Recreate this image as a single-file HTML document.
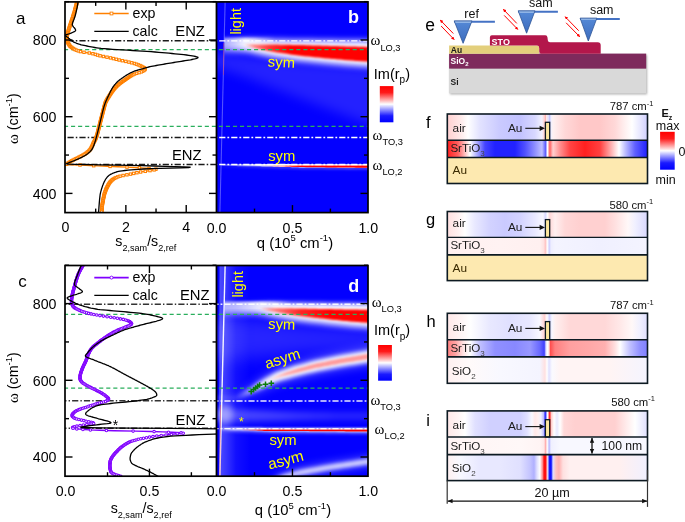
<!DOCTYPE html>
<html><head><meta charset="utf-8"><style>
html,body{margin:0;padding:0;background:#fff;}
svg{display:block;will-change:transform;}
text{font-family:"Liberation Sans",sans-serif;}
</style></head><body>
<svg width="685" height="522" viewBox="0 0 685 522">
<defs><clipPath id="clipB"><rect x="216.5" y="1.9" width="151.5" height="210.7"/></clipPath><clipPath id="clipD"><rect x="216.5" y="265.5" width="151.5" height="210.7"/></clipPath></defs>
<g clip-path="url(#clipB)">
<rect x="216" y="1" width="153" height="213" fill="#0300ff"/>
<defs><filter id="bf1" filterUnits="userSpaceOnUse" x="150" y="-60" width="300" height="600"><feGaussianBlur stdDeviation="6"/></filter></defs>
<g><path d="M200.0,52.0 202.0,52.1 204.0,52.3 206.0,52.4 208.0,52.6 210.0,52.7 212.0,52.8 214.0,53.0 216.0,53.1 218.0,53.3 220.0,53.4 222.0,53.5 224.0,53.7 226.0,53.8 228.0,54.0 230.0,54.1 232.0,54.2 234.0,54.4 236.0,54.5 238.0,54.7 240.0,54.8 242.0,54.9 244.0,55.1 246.0,55.4 248.0,55.6 250.0,55.9 252.0,56.1 254.0,56.4 256.0,56.6 258.0,56.8 260.0,57.1 262.0,57.3 264.0,57.6 266.0,57.8 268.0,58.1 270.0,58.3 272.0,58.6 274.0,58.8 276.0,59.1 278.0,59.3 280.0,59.5 282.0,59.8 284.0,60.0 286.0,60.3 288.0,60.5 290.0,60.8 292.0,61.0 294.0,61.3 296.0,61.5 298.0,61.8 300.0,62.0 302.0,62.1 304.0,62.3 306.0,62.4 308.0,62.6 310.0,62.7 312.0,62.9 314.0,63.0 316.0,63.2 318.0,63.3 320.0,63.5 322.0,63.6 324.0,63.8 326.0,63.9 328.0,64.1 330.0,64.2 332.0,64.4 334.0,64.5 336.0,64.6 338.0,64.8 340.0,64.9 342.0,65.1 344.0,65.2 346.0,65.4 348.0,65.5 350.0,65.7 352.0,65.8 354.0,66.0 356.0,66.1 358.0,66.3 360.0,66.4 362.0,66.6 364.0,66.7 366.0,66.9 368.0,67.0 370.0,67.1 372.0,67.2 374.0,67.3 376.0,67.4 378.0,67.5 380.0,67.5 382.0,67.6 384.0,67.7 386.0,67.8 388.0,67.9 390.0,68.0 L390.0,132.0 388.0,131.3 386.0,130.5 384.0,129.8 382.0,129.1 380.0,128.4 378.0,127.6 376.0,126.9 374.0,126.2 372.0,125.5 370.0,124.7 368.0,124.0 366.0,123.2 364.0,122.5 362.0,121.7 360.0,120.9 358.0,120.2 356.0,119.4 354.0,118.6 352.0,117.9 350.0,117.1 348.0,116.4 346.0,115.6 344.0,114.8 342.0,114.1 340.0,113.3 338.0,112.5 336.0,111.8 334.0,111.0 332.0,110.2 330.0,109.5 328.0,108.7 326.0,107.9 324.0,107.2 322.0,106.4 320.0,105.6 318.0,104.9 316.0,104.1 314.0,103.4 312.0,102.6 310.0,101.8 308.0,101.1 306.0,100.3 304.0,99.5 302.0,98.8 300.0,98.0 298.0,97.2 296.0,96.5 294.0,95.7 292.0,94.9 290.0,94.1 288.0,93.4 286.0,92.6 284.0,91.8 282.0,91.1 280.0,90.3 278.0,89.5 276.0,88.7 274.0,88.0 272.0,87.2 270.0,86.4 268.0,85.6 266.0,84.9 264.0,84.1 262.0,83.3 260.0,82.6 258.0,81.8 256.0,81.0 254.0,80.2 252.0,79.5 250.0,78.7 248.0,77.9 246.0,77.2 244.0,76.4 242.0,75.7 240.0,75.0 238.0,74.4 236.0,73.7 234.0,73.1 232.0,72.4 230.0,71.8 228.0,71.1 226.0,70.5 224.0,69.8 222.0,69.2 220.0,68.5 218.0,67.9 216.0,67.2 214.0,66.6 212.0,65.9 210.0,65.3 208.0,64.6 206.0,64.0 204.0,63.3 202.0,62.7 200.0,62.0 Z" fill="#fff" opacity="0.13" filter="url(#bf1)"/></g>
<defs><clipPath id="llB"><rect x="224.4" y="0" width="150" height="220"/></clipPath></defs>
<g clip-path="url(#llB)">
<defs><linearGradient id="hg1" gradientUnits="userSpaceOnUse" x1="200" y1="0" x2="390" y2="0"><stop offset="0.0000" stop-color="#ffffff" stop-opacity="1.0"/><stop offset="0.2368" stop-color="#ffffff" stop-opacity="1.0"/><stop offset="0.3947" stop-color="#ffffff" stop-opacity="0.0"/><stop offset="1.0000" stop-color="#ffffff" stop-opacity="0"/></linearGradient></defs>
<defs><linearGradient id="hg2" gradientUnits="userSpaceOnUse" x1="200" y1="0" x2="390" y2="0"><stop offset="0.0000" stop-color="#ffffff" stop-opacity="0"/><stop offset="0.1368" stop-color="#ffffff" stop-opacity="0.3"/><stop offset="0.2632" stop-color="#ffffff" stop-opacity="1.0"/><stop offset="1.0000" stop-color="#ffffff" stop-opacity="1.0"/></linearGradient></defs>
<defs><clipPath id="cp1"><path d="M200.0,-355.5 202.0,-355.5 204.0,-355.5 206.0,-355.5 208.0,-355.5 210.0,-355.5 212.0,-355.5 214.0,-355.5 216.0,-355.5 218.0,-355.5 220.0,-355.5 222.0,-355.5 224.0,-355.5 226.0,-355.5 228.0,-355.5 230.0,-355.5 232.0,-355.5 234.0,-355.4 236.0,-355.4 238.0,-355.4 240.0,-355.4 242.0,-355.4 244.0,-355.2 246.0,-354.9 248.0,-354.6 250.0,-354.3 252.0,-354.1 254.0,-353.8 256.0,-353.6 258.0,-353.4 260.0,-353.1 262.0,-352.9 264.0,-352.7 266.0,-352.5 268.0,-352.3 270.0,-352.1 272.0,-351.9 274.0,-351.7 276.0,-351.5 278.0,-351.3 280.0,-351.2 282.0,-351.0 284.0,-350.8 286.0,-350.7 288.0,-350.5 290.0,-350.4 292.0,-350.2 294.0,-350.1 296.0,-349.9 298.0,-349.8 300.0,-349.6 302.0,-349.5 304.0,-349.3 306.0,-349.2 308.0,-349.1 310.0,-348.9 312.0,-348.8 314.0,-348.7 316.0,-348.6 318.0,-348.4 320.0,-348.3 322.0,-348.2 324.0,-348.0 326.0,-347.9 328.0,-347.8 330.0,-347.6 332.0,-347.5 334.0,-347.4 336.0,-347.3 338.0,-347.2 340.0,-347.1 342.0,-347.0 344.0,-346.8 346.0,-346.7 348.0,-346.6 350.0,-346.5 352.0,-346.4 354.0,-346.3 356.0,-346.2 358.0,-346.1 360.0,-346.1 362.0,-346.0 364.0,-345.9 366.0,-345.8 368.0,-345.7 370.0,-345.6 372.0,-345.5 374.0,-345.5 376.0,-345.4 378.0,-345.3 380.0,-345.2 382.0,-345.1 384.0,-345.0 386.0,-345.0 388.0,-344.9 390.0,-344.8 L390.0,55.7 388.0,55.6 386.0,55.5 384.0,55.5 382.0,55.4 380.0,55.3 378.0,55.2 376.0,55.1 374.0,55.0 372.0,55.0 370.0,54.9 368.0,54.8 366.0,54.7 364.0,54.6 362.0,54.5 360.0,54.4 358.0,54.4 356.0,54.3 354.0,54.2 352.0,54.1 350.0,54.0 348.0,53.9 346.0,53.8 344.0,53.7 342.0,53.5 340.0,53.4 338.0,53.3 336.0,53.2 334.0,53.1 332.0,53.0 330.0,52.9 328.0,52.7 326.0,52.6 324.0,52.5 322.0,52.3 320.0,52.2 318.0,52.1 316.0,51.9 314.0,51.8 312.0,51.7 310.0,51.5 308.0,51.4 306.0,51.3 304.0,51.2 302.0,51.0 300.0,50.9 298.0,50.7 296.0,50.6 294.0,50.4 292.0,50.3 290.0,50.1 288.0,50.0 286.0,49.8 284.0,49.7 282.0,49.5 280.0,49.3 278.0,49.2 276.0,49.0 274.0,48.8 272.0,48.6 270.0,48.4 268.0,48.2 266.0,48.0 264.0,47.8 262.0,47.6 260.0,47.4 258.0,47.1 256.0,46.9 254.0,46.7 252.0,46.4 250.0,46.2 248.0,45.9 246.0,45.6 244.0,45.3 242.0,45.1 240.0,45.1 238.0,45.1 236.0,45.1 234.0,45.1 232.0,45.0 230.0,45.0 228.0,45.0 226.0,45.0 224.0,45.0 222.0,45.0 220.0,45.0 218.0,45.0 216.0,45.0 214.0,45.0 212.0,45.0 210.0,45.0 208.0,45.0 206.0,45.0 204.0,45.0 202.0,45.0 200.0,45.0 Z"/></clipPath></defs>
<defs><clipPath id="cp2"><path d="M200.0,44.0 202.0,44.0 204.0,44.0 206.0,44.0 208.0,44.0 210.0,44.0 212.0,44.0 214.0,44.0 216.0,44.0 218.0,44.0 220.0,44.0 222.0,44.0 224.0,44.0 226.0,44.0 228.0,44.0 230.0,44.0 232.0,44.0 234.0,44.1 236.0,44.1 238.0,44.1 240.0,44.1 242.0,44.1 244.0,44.3 246.0,44.6 248.0,44.9 250.0,45.2 252.0,45.4 254.0,45.7 256.0,45.9 258.0,46.1 260.0,46.4 262.0,46.6 264.0,46.8 266.0,47.0 268.0,47.2 270.0,47.4 272.0,47.6 274.0,47.8 276.0,48.0 278.0,48.2 280.0,48.3 282.0,48.5 284.0,48.7 286.0,48.8 288.0,49.0 290.0,49.1 292.0,49.3 294.0,49.4 296.0,49.6 298.0,49.7 300.0,49.9 302.0,50.0 304.0,50.2 306.0,50.3 308.0,50.4 310.0,50.5 312.0,50.7 314.0,50.8 316.0,50.9 318.0,51.1 320.0,51.2 322.0,51.3 324.0,51.5 326.0,51.6 328.0,51.7 330.0,51.9 332.0,52.0 334.0,52.1 336.0,52.2 338.0,52.3 340.0,52.4 342.0,52.5 344.0,52.7 346.0,52.8 348.0,52.9 350.0,53.0 352.0,53.1 354.0,53.2 356.0,53.3 358.0,53.4 360.0,53.4 362.0,53.5 364.0,53.6 366.0,53.7 368.0,53.8 370.0,53.9 372.0,54.0 374.0,54.0 376.0,54.1 378.0,54.2 380.0,54.3 382.0,54.4 384.0,54.5 386.0,54.5 388.0,54.6 390.0,54.7 L390.0,455.2 388.0,455.1 386.0,455.0 384.0,455.0 382.0,454.9 380.0,454.8 378.0,454.7 376.0,454.6 374.0,454.5 372.0,454.5 370.0,454.4 368.0,454.3 366.0,454.2 364.0,454.1 362.0,454.0 360.0,453.9 358.0,453.9 356.0,453.8 354.0,453.7 352.0,453.6 350.0,453.5 348.0,453.4 346.0,453.3 344.0,453.2 342.0,453.0 340.0,452.9 338.0,452.8 336.0,452.7 334.0,452.6 332.0,452.5 330.0,452.4 328.0,452.2 326.0,452.1 324.0,452.0 322.0,451.8 320.0,451.7 318.0,451.6 316.0,451.4 314.0,451.3 312.0,451.2 310.0,451.1 308.0,450.9 306.0,450.8 304.0,450.7 302.0,450.5 300.0,450.4 298.0,450.2 296.0,450.1 294.0,449.9 292.0,449.8 290.0,449.6 288.0,449.5 286.0,449.3 284.0,449.2 282.0,449.0 280.0,448.8 278.0,448.7 276.0,448.5 274.0,448.3 272.0,448.1 270.0,447.9 268.0,447.7 266.0,447.5 264.0,447.3 262.0,447.1 260.0,446.9 258.0,446.6 256.0,446.4 254.0,446.2 252.0,445.9 250.0,445.7 248.0,445.4 246.0,445.1 244.0,444.8 242.0,444.6 240.0,444.6 238.0,444.6 236.0,444.6 234.0,444.6 232.0,444.5 230.0,444.5 228.0,444.5 226.0,444.5 224.0,444.5 222.0,444.5 220.0,444.5 218.0,444.5 216.0,444.5 214.0,444.5 212.0,444.5 210.0,444.5 208.0,444.5 206.0,444.5 204.0,444.5 202.0,444.5 200.0,444.5 Z"/></clipPath></defs>
<defs><linearGradient id="hg3" gradientUnits="userSpaceOnUse" x1="200" y1="0" x2="390" y2="0"><stop offset="0.0000" stop-color="#ffffff" stop-opacity="0.66"/><stop offset="0.1263" stop-color="#ffffff" stop-opacity="0.66"/><stop offset="0.1842" stop-color="#ffffff" stop-opacity="0.8"/><stop offset="0.2368" stop-color="#ffffff" stop-opacity="0.95"/><stop offset="0.2895" stop-color="#ffffff" stop-opacity="1.0"/><stop offset="1.0000" stop-color="#ffffff" stop-opacity="1.0"/></linearGradient></defs>
<defs><mask id="mk1" maskUnits="userSpaceOnUse" x="150" y="-60" width="300" height="600"><rect x="150" y="-60" width="300" height="600" fill="url(#hg3)"/></mask></defs>
<g mask="url(#mk1)">
<defs><filter id="bf2" filterUnits="userSpaceOnUse" x="150" y="-60" width="300" height="600"><feGaussianBlur stdDeviation="1.4"/></filter></defs>
<g clip-path="url(#cp1)"><path d="M200.0,38.0 202.0,38.0 204.0,38.0 206.0,38.0 208.0,38.0 210.0,38.0 212.0,38.0 214.0,38.0 216.0,38.0 218.0,38.0 220.0,38.0 222.0,38.0 224.0,38.0 226.0,38.0 228.0,38.0 230.0,38.0 232.0,38.0 234.0,38.0 236.0,38.0 238.0,38.0 240.0,38.0 242.0,38.0 244.0,38.0 246.0,38.0 248.0,38.0 250.0,38.0 252.0,38.0 254.0,38.0 256.0,38.0 258.0,38.0 260.0,38.0 262.0,38.0 264.0,38.0 266.0,38.0 268.0,38.0 270.0,38.0 272.0,38.0 274.0,38.0 276.0,38.0 278.0,38.0 280.0,38.0 282.0,38.0 284.0,38.0 286.0,38.0 288.0,38.0 290.0,38.0 292.0,38.0 294.0,38.0 296.0,38.0 298.0,38.0 300.0,38.0 302.0,38.0 304.0,38.0 306.0,38.0 308.0,38.0 310.0,38.0 312.0,38.0 314.0,38.0 316.0,38.0 318.0,38.0 320.0,38.0 322.0,38.0 324.0,38.0 326.0,38.0 328.0,38.0 330.0,38.0 332.0,38.0 334.0,38.0 336.0,38.0 338.0,38.0 340.0,38.0 342.0,38.0 344.0,38.0 346.0,38.0 348.0,38.0 350.0,38.0 352.0,38.0 354.0,38.0 356.0,38.0 358.0,38.0 360.0,38.0 362.0,38.0 364.0,38.0 366.0,38.0 368.0,38.0 370.0,38.0 372.0,38.0 374.0,38.0 376.0,38.0 378.0,38.0 380.0,38.0 382.0,38.0 384.0,38.0 386.0,38.0 388.0,38.0 390.0,38.0 L390.0,115.2 388.0,115.1 386.0,115.0 384.0,115.0 382.0,114.9 380.0,114.8 378.0,114.7 376.0,114.6 374.0,114.5 372.0,114.5 370.0,114.4 368.0,114.3 366.0,114.2 364.0,114.1 362.0,114.0 360.0,113.9 358.0,113.9 356.0,113.8 354.0,113.7 352.0,113.6 350.0,113.5 348.0,113.4 346.0,113.3 344.0,113.2 342.0,113.0 340.0,112.9 338.0,112.8 336.0,112.7 334.0,112.6 332.0,112.5 330.0,112.3 328.0,112.2 326.0,112.1 324.0,112.0 322.0,111.8 320.0,111.7 318.0,111.6 316.0,111.4 314.0,111.3 312.0,111.2 310.0,111.0 308.0,110.9 306.0,110.8 304.0,110.7 302.0,110.5 300.0,110.4 298.0,110.2 296.0,110.1 294.0,109.9 292.0,109.8 290.0,109.6 288.0,109.5 286.0,109.3 284.0,109.2 282.0,109.0 280.0,108.8 278.0,108.7 276.0,108.5 274.0,108.3 272.0,108.1 270.0,107.9 268.0,107.7 266.0,107.5 264.0,107.3 262.0,107.1 260.0,106.8 258.0,106.6 256.0,106.4 254.0,106.2 252.0,105.9 250.0,105.7 248.0,105.4 246.0,105.1 244.0,104.8 242.0,104.6 240.0,104.6 238.0,104.6 236.0,104.6 234.0,104.6 232.0,104.5 230.0,104.5 228.0,104.5 226.0,104.5 224.0,104.5 222.0,104.5 220.0,104.5 218.0,104.5 216.0,104.5 214.0,104.5 212.0,104.5 210.0,104.5 208.0,104.5 206.0,104.5 204.0,104.5 202.0,104.5 200.0,104.5 Z" fill="url(#hg1)" opacity="1.0" filter="url(#bf2)"/></g>
<defs><filter id="bf3" filterUnits="userSpaceOnUse" x="150" y="-60" width="300" height="600"><feGaussianBlur stdDeviation="3.3"/></filter></defs>
<g clip-path="url(#cp1)"><path d="M200.0,38.8 202.0,38.8 204.0,38.8 206.0,38.8 208.0,38.8 210.0,38.8 212.0,38.8 214.0,38.8 216.0,38.8 218.0,38.8 220.0,38.8 222.0,38.8 224.0,38.8 226.0,38.8 228.0,38.8 230.0,38.9 232.0,38.9 234.0,38.9 236.0,38.9 238.0,38.9 240.0,39.0 242.0,39.0 244.0,39.0 246.0,39.1 248.0,39.1 250.0,39.2 252.0,39.2 254.0,39.3 256.0,39.3 258.0,39.4 260.0,39.4 262.0,39.4 264.0,39.5 266.0,39.5 268.0,39.6 270.0,39.6 272.0,39.6 274.0,39.7 276.0,39.7 278.0,39.7 280.0,39.8 282.0,39.8 284.0,39.8 286.0,39.8 288.0,39.9 290.0,39.9 292.0,39.9 294.0,39.9 296.0,40.0 298.0,40.0 300.0,40.0 302.0,40.0 304.0,40.0 306.0,40.1 308.0,40.1 310.0,40.1 312.0,40.1 314.0,40.1 316.0,40.2 318.0,40.2 320.0,40.2 322.0,40.2 324.0,40.2 326.0,40.3 328.0,40.3 330.0,40.3 332.0,40.3 334.0,40.3 336.0,40.4 338.0,40.4 340.0,40.4 342.0,40.4 344.0,40.4 346.0,40.5 348.0,40.5 350.0,40.5 352.0,40.5 354.0,40.5 356.0,40.6 358.0,40.6 360.0,40.6 362.0,40.6 364.0,40.7 366.0,40.7 368.0,40.7 370.0,40.7 372.0,40.7 374.0,40.8 376.0,40.8 378.0,40.8 380.0,40.8 382.0,40.8 384.0,40.8 386.0,40.9 388.0,40.9 390.0,40.9 L390.0,115.2 388.0,115.1 386.0,115.0 384.0,115.0 382.0,114.9 380.0,114.8 378.0,114.7 376.0,114.6 374.0,114.5 372.0,114.5 370.0,114.4 368.0,114.3 366.0,114.2 364.0,114.1 362.0,114.0 360.0,113.9 358.0,113.9 356.0,113.8 354.0,113.7 352.0,113.6 350.0,113.5 348.0,113.4 346.0,113.3 344.0,113.2 342.0,113.0 340.0,112.9 338.0,112.8 336.0,112.7 334.0,112.6 332.0,112.5 330.0,112.3 328.0,112.2 326.0,112.1 324.0,112.0 322.0,111.8 320.0,111.7 318.0,111.6 316.0,111.4 314.0,111.3 312.0,111.2 310.0,111.0 308.0,110.9 306.0,110.8 304.0,110.7 302.0,110.5 300.0,110.4 298.0,110.2 296.0,110.1 294.0,109.9 292.0,109.8 290.0,109.6 288.0,109.5 286.0,109.3 284.0,109.2 282.0,109.0 280.0,108.8 278.0,108.7 276.0,108.5 274.0,108.3 272.0,108.1 270.0,107.9 268.0,107.7 266.0,107.5 264.0,107.3 262.0,107.1 260.0,106.8 258.0,106.6 256.0,106.4 254.0,106.2 252.0,105.9 250.0,105.7 248.0,105.4 246.0,105.1 244.0,104.8 242.0,104.6 240.0,104.6 238.0,104.6 236.0,104.6 234.0,104.6 232.0,104.5 230.0,104.5 228.0,104.5 226.0,104.5 224.0,104.5 222.0,104.5 220.0,104.5 218.0,104.5 216.0,104.5 214.0,104.5 212.0,104.5 210.0,104.5 208.0,104.5 206.0,104.5 204.0,104.5 202.0,104.5 200.0,104.5 Z" fill="url(#hg2)" opacity="1.0" filter="url(#bf3)"/></g>
<defs><filter id="bf4" filterUnits="userSpaceOnUse" x="150" y="-60" width="300" height="600"><feGaussianBlur stdDeviation="3.0"/></filter></defs>
<g clip-path="url(#cp2)"><path d="M200.0,-15.5 202.0,-15.5 204.0,-15.5 206.0,-15.5 208.0,-15.5 210.0,-15.5 212.0,-15.5 214.0,-15.5 216.0,-15.5 218.0,-15.5 220.0,-15.5 222.0,-15.5 224.0,-15.5 226.0,-15.5 228.0,-15.5 230.0,-15.5 232.0,-15.5 234.0,-15.4 236.0,-15.4 238.0,-15.4 240.0,-15.4 242.0,-15.4 244.0,-15.2 246.0,-14.9 248.0,-14.6 250.0,-14.3 252.0,-14.1 254.0,-13.8 256.0,-13.6 258.0,-13.4 260.0,-13.1 262.0,-12.9 264.0,-12.7 266.0,-12.5 268.0,-12.3 270.0,-12.1 272.0,-11.9 274.0,-11.7 276.0,-11.5 278.0,-11.3 280.0,-11.2 282.0,-11.0 284.0,-10.8 286.0,-10.7 288.0,-10.5 290.0,-10.4 292.0,-10.2 294.0,-10.1 296.0,-9.9 298.0,-9.8 300.0,-9.6 302.0,-9.5 304.0,-9.3 306.0,-9.2 308.0,-9.1 310.0,-9.0 312.0,-8.8 314.0,-8.7 316.0,-8.6 318.0,-8.4 320.0,-8.3 322.0,-8.2 324.0,-8.0 326.0,-7.9 328.0,-7.8 330.0,-7.6 332.0,-7.5 334.0,-7.4 336.0,-7.3 338.0,-7.2 340.0,-7.1 342.0,-7.0 344.0,-6.8 346.0,-6.7 348.0,-6.6 350.0,-6.5 352.0,-6.4 354.0,-6.3 356.0,-6.2 358.0,-6.1 360.0,-6.1 362.0,-6.0 364.0,-5.9 366.0,-5.8 368.0,-5.7 370.0,-5.6 372.0,-5.5 374.0,-5.5 376.0,-5.4 378.0,-5.3 380.0,-5.2 382.0,-5.1 384.0,-5.0 386.0,-5.0 388.0,-4.9 390.0,-4.8 L390.0,68.3 388.0,68.2 386.0,68.0 384.0,67.9 382.0,67.8 380.0,67.7 378.0,67.5 376.0,67.4 374.0,67.3 372.0,67.2 370.0,67.0 368.0,66.9 366.0,66.8 364.0,66.6 362.0,66.5 360.0,66.4 358.0,66.2 356.0,66.1 354.0,66.0 352.0,65.8 350.0,65.7 348.0,65.5 346.0,65.4 344.0,65.2 342.0,65.0 340.0,64.8 338.0,64.7 336.0,64.5 334.0,64.3 332.0,64.2 330.0,64.0 328.0,63.8 326.0,63.6 324.0,63.4 322.0,63.2 320.0,63.0 318.0,62.8 316.0,62.6 314.0,62.4 312.0,62.2 310.0,62.0 308.0,61.8 306.0,61.6 304.0,61.4 302.0,61.2 300.0,61.0 298.0,60.7 296.0,60.4 294.0,60.2 292.0,59.9 290.0,59.6 288.0,59.3 286.0,59.0 284.0,58.8 282.0,58.5 280.0,58.2 278.0,57.9 276.0,57.6 274.0,57.3 272.0,56.9 270.0,56.5 268.0,56.1 266.0,55.7 264.0,55.3 262.0,54.9 260.0,54.5 258.0,54.1 256.0,53.6 254.0,53.2 252.0,52.7 250.0,52.3 248.0,52.1 246.0,51.8 244.0,51.6 242.0,51.5 240.0,51.5 238.0,51.5 236.0,51.5 234.0,51.5 232.0,51.5 230.0,51.5 228.0,51.5 226.0,51.5 224.0,51.5 222.0,51.5 220.0,51.5 218.0,51.5 216.0,51.5 214.0,51.5 212.0,51.5 210.0,51.5 208.0,51.5 206.0,51.5 204.0,51.5 202.0,51.5 200.0,51.5 Z" fill="#ffffff" opacity="1.0" filter="url(#bf4)"/></g>
</g>
</g>
<defs><linearGradient id="hg4" gradientUnits="userSpaceOnUse" x1="200" y1="0" x2="390" y2="0"><stop offset="0.2263" stop-color="#ff0000" stop-opacity="0"/><stop offset="0.2895" stop-color="#ff0000" stop-opacity="0.5"/><stop offset="0.3684" stop-color="#ff0000" stop-opacity="0.8"/><stop offset="0.4737" stop-color="#ff0000" stop-opacity="1"/><stop offset="1.0000" stop-color="#ff0000" stop-opacity="1"/></linearGradient></defs>
<defs><filter id="bf5" filterUnits="userSpaceOnUse" x="150" y="-60" width="300" height="600"><feGaussianBlur stdDeviation="1.0"/></filter></defs>
<g><path d="M200.0,44.3 202.0,44.3 204.0,44.3 206.0,44.3 208.0,44.3 210.0,44.3 212.0,44.3 214.0,44.3 216.0,44.3 218.0,44.3 220.0,44.3 222.0,44.3 224.0,44.3 226.0,44.3 228.0,44.3 230.0,44.3 232.0,44.3 234.0,44.3 236.0,44.3 238.0,44.3 240.0,44.3 242.0,44.3 244.0,44.3 246.0,44.3 248.0,44.3 250.0,44.3 252.0,44.3 254.0,44.3 256.0,44.4 258.0,44.4 260.0,44.4 262.0,44.4 264.0,44.5 266.0,44.5 268.0,44.5 270.0,44.5 272.0,44.6 274.0,44.6 276.0,44.6 278.0,44.6 280.0,44.7 282.0,44.7 284.0,44.7 286.0,44.8 288.0,44.8 290.0,44.8 292.0,44.9 294.0,44.9 296.0,44.9 298.0,45.0 300.0,45.0 302.0,45.1 304.0,45.1 306.0,45.2 308.0,45.2 310.0,45.3 312.0,45.4 314.0,45.4 316.0,45.5 318.0,45.5 320.0,45.6 322.0,45.7 324.0,45.7 326.0,45.8 328.0,45.8 330.0,45.9 332.0,46.0 334.0,46.0 336.0,46.1 338.0,46.1 340.0,46.2 342.0,46.3 344.0,46.3 346.0,46.4 348.0,46.4 350.0,46.5 352.0,46.5 354.0,46.6 356.0,46.6 358.0,46.7 360.0,46.7 362.0,46.8 364.0,46.8 366.0,46.9 368.0,46.9 370.0,46.9 372.0,47.0 374.0,47.0 376.0,47.0 378.0,47.1 380.0,47.1 382.0,47.2 384.0,47.2 386.0,47.2 388.0,47.3 390.0,47.3 L390.0,63.1 388.0,63.0 386.0,62.8 384.0,62.7 382.0,62.6 380.0,62.5 378.0,62.3 376.0,62.2 374.0,62.1 372.0,62.0 370.0,61.8 368.0,61.7 366.0,61.6 364.0,61.4 362.0,61.3 360.0,61.2 358.0,61.0 356.0,60.9 354.0,60.8 352.0,60.6 350.0,60.5 348.0,60.3 346.0,60.2 344.0,60.0 342.0,59.8 340.0,59.6 338.0,59.5 336.0,59.3 334.0,59.1 332.0,59.0 330.0,58.8 328.0,58.6 326.0,58.4 324.0,58.2 322.0,58.0 320.0,57.8 318.0,57.6 316.0,57.4 314.0,57.2 312.0,57.0 310.0,56.8 308.0,56.6 306.0,56.4 304.0,56.2 302.0,56.0 300.0,55.8 298.0,55.5 296.0,55.2 294.0,55.0 292.0,54.7 290.0,54.4 288.0,54.1 286.0,53.8 284.0,53.6 282.0,53.3 280.0,53.0 278.0,52.7 276.0,52.4 274.0,52.1 272.0,51.7 270.0,51.3 268.0,50.9 266.0,50.5 264.0,50.1 262.0,49.7 260.0,49.3 258.0,48.9 256.0,48.4 254.0,48.0 252.0,47.5 250.0,47.1 248.0,46.5 246.0,45.8 244.0,45.2 242.0,44.9 240.0,44.9 238.0,44.9 236.0,44.9 234.0,44.9 232.0,44.9 230.0,44.9 228.0,44.9 226.0,44.9 224.0,44.9 222.0,44.9 220.0,44.9 218.0,44.9 216.0,44.9 214.0,44.9 212.0,44.9 210.0,44.9 208.0,44.9 206.0,44.9 204.0,44.9 202.0,44.9 200.0,44.9 Z" fill="url(#hg4)" opacity="1.0" filter="url(#bf5)"/></g>
<defs><linearGradient id="hg5" gradientUnits="userSpaceOnUse" x1="200" y1="0" x2="390" y2="0"><stop offset="0.0000" stop-color="#ffffff" stop-opacity="0"/><stop offset="0.1105" stop-color="#ffffff" stop-opacity="0.0"/><stop offset="0.1211" stop-color="#ffffff" stop-opacity="0.2"/><stop offset="0.2105" stop-color="#ffffff" stop-opacity="0.5"/><stop offset="0.3158" stop-color="#ffffff" stop-opacity="0.85"/><stop offset="0.4211" stop-color="#ffffff" stop-opacity="1.0"/><stop offset="1.0000" stop-color="#ffffff" stop-opacity="1.0"/></linearGradient></defs>
<defs><filter id="bf6" filterUnits="userSpaceOnUse" x="150" y="-60" width="300" height="600"><feGaussianBlur stdDeviation="0.7"/></filter></defs>
<g><path d="M200.0,163.9 202.0,163.9 204.0,163.9 206.0,163.9 208.0,163.9 210.0,163.9 212.0,163.9 214.0,163.9 216.0,163.9 218.0,163.9 220.0,163.9 222.0,163.9 224.0,163.9 226.0,163.9 228.0,163.9 230.0,163.9 232.0,164.0 234.0,164.0 236.0,164.0 238.0,164.0 240.0,164.0 242.0,164.0 244.0,164.0 246.0,164.0 248.0,164.0 250.0,164.0 252.0,164.0 254.0,164.0 256.0,164.0 258.0,164.0 260.0,164.0 262.0,164.0 264.0,164.0 266.0,164.0 268.0,164.0 270.0,164.1 272.0,164.1 274.0,164.1 276.0,164.1 278.0,164.1 280.0,164.1 282.0,164.1 284.0,164.1 286.0,164.1 288.0,164.1 290.0,164.1 292.0,164.2 294.0,164.2 296.0,164.2 298.0,164.2 300.0,164.2 302.0,164.2 304.0,164.2 306.0,164.2 308.0,164.2 310.0,164.2 312.0,164.2 314.0,164.2 316.0,164.2 318.0,164.2 320.0,164.2 322.0,164.2 324.0,164.3 326.0,164.3 328.0,164.3 330.0,164.3 332.0,164.3 334.0,164.3 336.0,164.3 338.0,164.3 340.0,164.3 342.0,164.3 344.0,164.3 346.0,164.3 348.0,164.3 350.0,164.3 352.0,164.3 354.0,164.3 356.0,164.3 358.0,164.3 360.0,164.3 362.0,164.3 364.0,164.3 366.0,164.3 368.0,164.4 370.0,164.4 372.0,164.4 374.0,164.4 376.0,164.4 378.0,164.4 380.0,164.4 382.0,164.4 384.0,164.4 386.0,164.4 388.0,164.4 390.0,164.4 L390.0,168.0 388.0,168.0 386.0,168.0 384.0,168.0 382.0,167.9 380.0,167.9 378.0,167.9 376.0,167.9 374.0,167.9 372.0,167.9 370.0,167.9 368.0,167.9 366.0,167.8 364.0,167.8 362.0,167.8 360.0,167.8 358.0,167.8 356.0,167.8 354.0,167.8 352.0,167.7 350.0,167.7 348.0,167.7 346.0,167.7 344.0,167.7 342.0,167.7 340.0,167.7 338.0,167.7 336.0,167.6 334.0,167.6 332.0,167.6 330.0,167.6 328.0,167.6 326.0,167.6 324.0,167.6 322.0,167.5 320.0,167.5 318.0,167.5 316.0,167.5 314.0,167.5 312.0,167.5 310.0,167.5 308.0,167.5 306.0,167.4 304.0,167.4 302.0,167.4 300.0,167.4 298.0,167.3 296.0,167.3 294.0,167.2 292.0,167.2 290.0,167.1 288.0,167.1 286.0,167.0 284.0,167.0 282.0,166.9 280.0,166.9 278.0,166.8 276.0,166.7 274.0,166.7 272.0,166.6 270.0,166.6 268.0,166.5 266.0,166.5 264.0,166.4 262.0,166.4 260.0,166.3 258.0,166.3 256.0,166.3 254.0,166.3 252.0,166.2 250.0,166.2 248.0,166.2 246.0,166.2 244.0,166.2 242.0,166.2 240.0,166.2 238.0,166.2 236.0,166.1 234.0,166.1 232.0,166.1 230.0,166.1 228.0,166.1 226.0,166.1 224.0,166.1 222.0,166.0 220.0,166.0 218.0,166.0 216.0,166.0 214.0,166.0 212.0,166.0 210.0,166.0 208.0,166.0 206.0,165.9 204.0,165.9 202.0,165.9 200.0,165.9 Z" fill="url(#hg5)" opacity="1.0" filter="url(#bf6)"/></g>
<defs><filter id="bf7" filterUnits="userSpaceOnUse" x="150" y="-60" width="300" height="600"><feGaussianBlur stdDeviation="1.6"/></filter></defs>
<g><path d="M200.0,165.5 202.0,165.5 204.0,165.5 206.0,165.5 208.0,165.5 210.0,165.6 212.0,165.6 214.0,165.6 216.0,165.6 218.0,165.6 220.0,165.6 222.0,165.6 224.0,165.6 226.0,165.6 228.0,165.6 230.0,165.7 232.0,165.7 234.0,165.7 236.0,165.7 238.0,165.7 240.0,165.7 242.0,165.7 244.0,165.7 246.0,165.7 248.0,165.7 250.0,165.8 252.0,165.8 254.0,165.8 256.0,165.8 258.0,165.8 260.0,165.8 262.0,165.9 264.0,165.9 266.0,166.0 268.0,166.0 270.0,166.1 272.0,166.1 274.0,166.2 276.0,166.2 278.0,166.2 280.0,166.3 282.0,166.4 284.0,166.4 286.0,166.5 288.0,166.5 290.0,166.6 292.0,166.6 294.0,166.7 296.0,166.7 298.0,166.8 300.0,166.8 302.0,166.8 304.0,166.8 306.0,166.8 308.0,166.9 310.0,166.9 312.0,166.9 314.0,166.9 316.0,166.9 318.0,166.9 320.0,166.9 322.0,166.9 324.0,167.0 326.0,167.0 328.0,167.0 330.0,167.0 332.0,167.0 334.0,167.0 336.0,167.0 338.0,167.1 340.0,167.1 342.0,167.1 344.0,167.1 346.0,167.1 348.0,167.1 350.0,167.1 352.0,167.1 354.0,167.2 356.0,167.2 358.0,167.2 360.0,167.2 362.0,167.2 364.0,167.2 366.0,167.2 368.0,167.3 370.0,167.3 372.0,167.3 374.0,167.3 376.0,167.3 378.0,167.3 380.0,167.3 382.0,167.3 384.0,167.4 386.0,167.4 388.0,167.4 390.0,167.4 L390.0,169.3 388.0,169.3 386.0,169.3 384.0,169.2 382.0,169.2 380.0,169.2 378.0,169.2 376.0,169.2 374.0,169.1 372.0,169.1 370.0,169.1 368.0,169.1 366.0,169.1 364.0,169.0 362.0,169.0 360.0,169.0 358.0,169.0 356.0,169.0 354.0,168.9 352.0,168.9 350.0,168.9 348.0,168.9 346.0,168.9 344.0,168.8 342.0,168.8 340.0,168.8 338.0,168.8 336.0,168.8 334.0,168.7 332.0,168.7 330.0,168.7 328.0,168.7 326.0,168.7 324.0,168.6 322.0,168.6 320.0,168.6 318.0,168.6 316.0,168.6 314.0,168.5 312.0,168.5 310.0,168.5 308.0,168.5 306.0,168.5 304.0,168.4 302.0,168.4 300.0,168.4 298.0,168.3 296.0,168.3 294.0,168.2 292.0,168.2 290.0,168.1 288.0,168.1 286.0,168.0 284.0,168.0 282.0,167.9 280.0,167.9 278.0,167.8 276.0,167.7 274.0,167.7 272.0,167.6 270.0,167.6 268.0,167.5 266.0,167.5 264.0,167.4 262.0,167.4 260.0,167.3 258.0,167.3 256.0,167.3 254.0,167.2 252.0,167.2 250.0,167.2 248.0,167.2 246.0,167.2 244.0,167.2 242.0,167.2 240.0,167.1 238.0,167.1 236.0,167.1 234.0,167.1 232.0,167.1 230.0,167.1 228.0,167.0 226.0,167.0 224.0,167.0 222.0,167.0 220.0,167.0 218.0,167.0 216.0,166.9 214.0,166.9 212.0,166.9 210.0,166.9 208.0,166.9 206.0,166.9 204.0,166.8 202.0,166.8 200.0,166.8 Z" fill="url(#hg5)" opacity="0.45" filter="url(#bf7)"/></g>
<defs><linearGradient id="hg6" gradientUnits="userSpaceOnUse" x1="200" y1="0" x2="390" y2="0"><stop offset="0.3158" stop-color="#ff0000" stop-opacity="0"/><stop offset="0.5263" stop-color="#ff0000" stop-opacity="1"/><stop offset="1.0000" stop-color="#ff0000" stop-opacity="1"/></linearGradient></defs>
<defs><filter id="bf8" filterUnits="userSpaceOnUse" x="150" y="-60" width="300" height="600"><feGaussianBlur stdDeviation="0.55"/></filter></defs>
<g><path d="M200.0,165.5 202.0,165.5 204.0,165.5 206.0,165.5 208.0,165.5 210.0,165.5 212.0,165.5 214.0,165.5 216.0,165.5 218.0,165.5 220.0,165.5 222.0,165.5 224.0,165.5 226.0,165.5 228.0,165.5 230.0,165.5 232.0,165.5 234.0,165.5 236.0,165.5 238.0,165.5 240.0,165.5 242.0,165.5 244.0,165.5 246.0,165.5 248.0,165.5 250.0,165.5 252.0,165.5 254.0,165.5 256.0,165.5 258.0,165.5 260.0,165.5 262.0,165.5 264.0,165.5 266.0,165.5 268.0,165.5 270.0,165.5 272.0,165.5 274.0,165.5 276.0,165.5 278.0,165.5 280.0,165.4 282.0,165.4 284.0,165.4 286.0,165.4 288.0,165.4 290.0,165.4 292.0,165.4 294.0,165.4 296.0,165.4 298.0,165.4 300.0,165.4 302.0,165.4 304.0,165.4 306.0,165.4 308.0,165.4 310.0,165.4 312.0,165.4 314.0,165.4 316.0,165.4 318.0,165.4 320.0,165.4 322.0,165.4 324.0,165.4 326.0,165.4 328.0,165.4 330.0,165.4 332.0,165.4 334.0,165.4 336.0,165.4 338.0,165.4 340.0,165.4 342.0,165.4 344.0,165.4 346.0,165.5 348.0,165.5 350.0,165.5 352.0,165.5 354.0,165.5 356.0,165.5 358.0,165.5 360.0,165.5 362.0,165.5 364.0,165.5 366.0,165.5 368.0,165.5 370.0,165.5 372.0,165.5 374.0,165.5 376.0,165.5 378.0,165.5 380.0,165.5 382.0,165.5 384.0,165.5 386.0,165.5 388.0,165.5 390.0,165.5 L390.0,168.0 388.0,168.0 386.0,168.0 384.0,167.9 382.0,167.9 380.0,167.9 378.0,167.9 376.0,167.9 374.0,167.8 372.0,167.8 370.0,167.8 368.0,167.8 366.0,167.8 364.0,167.7 362.0,167.7 360.0,167.7 358.0,167.7 356.0,167.7 354.0,167.6 352.0,167.6 350.0,167.6 348.0,167.6 346.0,167.6 344.0,167.5 342.0,167.5 340.0,167.5 338.0,167.5 336.0,167.5 334.0,167.4 332.0,167.4 330.0,167.4 328.0,167.4 326.0,167.4 324.0,167.3 322.0,167.3 320.0,167.3 318.0,167.3 316.0,167.3 314.0,167.2 312.0,167.2 310.0,167.2 308.0,167.2 306.0,167.2 304.0,167.1 302.0,167.1 300.0,167.1 298.0,167.0 296.0,167.0 294.0,166.9 292.0,166.9 290.0,166.8 288.0,166.7 286.0,166.7 284.0,166.6 282.0,166.6 280.0,166.5 278.0,166.4 276.0,166.4 274.0,166.3 272.0,166.3 270.0,166.2 268.0,166.1 266.0,166.1 264.0,166.0 262.0,166.0 260.0,165.9 258.0,165.9 256.0,165.9 254.0,165.9 252.0,165.9 250.0,165.9 248.0,165.9 246.0,165.9 244.0,165.9 242.0,165.9 240.0,165.9 238.0,165.9 236.0,165.9 234.0,165.9 232.0,165.9 230.0,165.9 228.0,165.9 226.0,165.9 224.0,165.9 222.0,165.9 220.0,165.9 218.0,165.9 216.0,165.9 214.0,165.9 212.0,165.9 210.0,165.9 208.0,165.9 206.0,165.9 204.0,165.9 202.0,165.9 200.0,165.9 Z" fill="url(#hg6)" opacity="1.0" filter="url(#bf8)"/></g>
</g>
<g clip-path="url(#clipD)">
<rect x="216" y="265" width="153" height="213" fill="#0300ff"/>
<defs><filter id="bf9" filterUnits="userSpaceOnUse" x="150" y="-60" width="300" height="600"><feGaussianBlur stdDeviation="8"/></filter></defs>
<g><path d="M200.0,318.0 202.0,318.1 204.0,318.1 206.0,318.2 208.0,318.3 210.0,318.3 212.0,318.4 214.0,318.5 216.0,318.6 218.0,318.6 220.0,318.7 222.0,318.8 224.0,318.8 226.0,318.9 228.0,319.0 230.0,319.0 232.0,319.1 234.0,319.2 236.0,319.2 238.0,319.3 240.0,319.4 242.0,319.4 244.0,319.5 246.0,319.6 248.0,319.7 250.0,319.7 252.0,319.8 254.0,319.9 256.0,319.9 258.0,320.0 260.0,320.3 262.0,320.6 264.0,320.9 266.0,321.1 268.0,321.4 270.0,321.7 272.0,322.0 274.0,322.3 276.0,322.6 278.0,322.9 280.0,323.1 282.0,323.4 284.0,323.7 286.0,324.0 288.0,324.3 290.0,324.6 292.0,324.9 294.0,325.1 296.0,325.4 298.0,325.7 300.0,326.0 302.0,326.1 304.0,326.3 306.0,326.4 308.0,326.5 310.0,326.7 312.0,326.8 314.0,326.9 316.0,327.1 318.0,327.2 320.0,327.3 322.0,327.5 324.0,327.6 326.0,327.7 328.0,327.9 330.0,328.0 332.0,328.1 334.0,328.3 336.0,328.4 338.0,328.5 340.0,328.7 342.0,328.8 344.0,328.9 346.0,329.1 348.0,329.2 350.0,329.3 352.0,329.5 354.0,329.6 356.0,329.7 358.0,329.9 360.0,330.0 362.0,330.1 364.0,330.3 366.0,330.4 368.0,330.5 370.0,330.7 372.0,330.8 374.0,330.9 376.0,331.1 378.0,331.2 380.0,331.3 382.0,331.5 384.0,331.6 386.0,331.7 388.0,331.9 390.0,332.0 L390.0,347.0 388.0,347.1 386.0,347.2 384.0,347.3 382.0,347.4 380.0,347.6 378.0,347.7 376.0,347.8 374.0,347.9 372.0,348.0 370.0,348.1 368.0,348.2 366.0,348.3 364.0,348.4 362.0,348.6 360.0,348.7 358.0,348.8 356.0,348.9 354.0,349.0 352.0,349.1 350.0,349.2 348.0,349.3 346.0,349.4 344.0,349.6 342.0,349.7 340.0,349.8 338.0,349.9 336.0,350.0 334.0,350.1 332.0,350.2 330.0,350.3 328.0,350.4 326.0,350.6 324.0,350.7 322.0,350.8 320.0,350.9 318.0,351.0 316.0,351.1 314.0,351.2 312.0,351.3 310.0,351.4 308.0,351.6 306.0,351.7 304.0,351.8 302.0,351.9 300.0,352.0 298.0,352.2 296.0,352.5 294.0,352.7 292.0,353.0 290.0,353.2 288.0,353.4 286.0,353.7 284.0,353.9 282.0,354.1 280.0,354.4 278.0,354.6 276.0,354.9 274.0,355.1 272.0,355.3 270.0,355.6 268.0,355.8 266.0,356.0 264.0,356.3 262.0,356.5 260.0,356.8 258.0,357.0 256.0,357.2 254.0,357.3 252.0,357.5 250.0,357.7 248.0,357.9 246.0,358.0 244.0,358.2 242.0,358.4 240.0,358.6 238.0,358.7 236.0,358.9 234.0,359.1 232.0,359.2 230.0,359.4 228.0,359.6 226.0,359.8 224.0,359.9 222.0,360.1 220.0,360.3 218.0,360.4 216.0,360.6 214.0,360.8 212.0,361.0 210.0,361.1 208.0,361.3 206.0,361.5 204.0,361.7 202.0,361.8 200.0,362.0 Z" fill="#fff" opacity="0.14" filter="url(#bf9)"/></g>
<defs><linearGradient id="hg7" gradientUnits="userSpaceOnUse" x1="200" y1="0" x2="390" y2="0"><stop offset="0.1000" stop-color="#ffffff" stop-opacity="0.5"/><stop offset="0.1368" stop-color="#ffffff" stop-opacity="0.35"/><stop offset="0.1895" stop-color="#ffffff" stop-opacity="0.1"/><stop offset="0.2632" stop-color="#ffffff" stop-opacity="0"/></linearGradient></defs>
<path d="M219.5,265 L226,265 L260,265 L260,478 L219,478 Z" fill="url(#hg7)" opacity="0.6"/>
<defs><clipPath id="llD"><rect x="224.6" y="260" width="150" height="220"/></clipPath></defs>
<g clip-path="url(#llD)">
<defs><linearGradient id="hg8" gradientUnits="userSpaceOnUse" x1="200" y1="0" x2="390" y2="0"><stop offset="0.0000" stop-color="#ffffff" stop-opacity="1.0"/><stop offset="0.3263" stop-color="#ffffff" stop-opacity="1.0"/><stop offset="0.4842" stop-color="#ffffff" stop-opacity="0.0"/><stop offset="1.0000" stop-color="#ffffff" stop-opacity="0"/></linearGradient></defs>
<defs><linearGradient id="hg9" gradientUnits="userSpaceOnUse" x1="200" y1="0" x2="390" y2="0"><stop offset="0.0000" stop-color="#ffffff" stop-opacity="0"/><stop offset="0.2105" stop-color="#ffffff" stop-opacity="0"/><stop offset="0.3947" stop-color="#ffffff" stop-opacity="1.0"/><stop offset="1.0000" stop-color="#ffffff" stop-opacity="1.0"/></linearGradient></defs>
<defs><clipPath id="cp3"><path d="M200.0,-91.7 202.0,-91.7 204.0,-91.7 206.0,-91.7 208.0,-91.7 210.0,-91.7 212.0,-91.7 214.0,-91.7 216.0,-91.7 218.0,-91.7 220.0,-91.7 222.0,-91.7 224.0,-91.7 226.0,-91.7 228.0,-91.7 230.0,-91.7 232.0,-91.7 234.0,-91.7 236.0,-91.7 238.0,-91.7 240.0,-91.7 242.0,-91.7 244.0,-91.7 246.0,-91.7 248.0,-91.7 250.0,-91.7 252.0,-91.7 254.0,-91.7 256.0,-91.7 258.0,-91.7 260.0,-91.5 262.0,-91.3 264.0,-91.1 266.0,-90.9 268.0,-90.7 270.0,-90.4 272.0,-90.3 274.0,-90.1 276.0,-89.9 278.0,-89.7 280.0,-89.5 282.0,-89.3 284.0,-89.1 286.0,-88.9 288.0,-88.7 290.0,-88.6 292.0,-88.4 294.0,-88.2 296.0,-88.0 298.0,-87.9 300.0,-87.7 302.0,-87.6 304.0,-87.4 306.0,-87.3 308.0,-87.2 310.0,-87.0 312.0,-86.9 314.0,-86.8 316.0,-86.6 318.0,-86.5 320.0,-86.4 322.0,-86.2 324.0,-86.1 326.0,-86.0 328.0,-85.8 330.0,-85.7 332.0,-85.6 334.0,-85.5 336.0,-85.3 338.0,-85.2 340.0,-85.1 342.0,-85.0 344.0,-84.9 346.0,-84.7 348.0,-84.6 350.0,-84.5 352.0,-84.4 354.0,-84.3 356.0,-84.2 358.0,-84.1 360.0,-84.0 362.0,-83.9 364.0,-83.8 366.0,-83.7 368.0,-83.6 370.0,-83.6 372.0,-83.5 374.0,-83.4 376.0,-83.3 378.0,-83.3 380.0,-83.2 382.0,-83.1 384.0,-83.0 386.0,-83.0 388.0,-82.9 390.0,-82.8 L390.0,317.7 388.0,317.6 386.0,317.5 384.0,317.5 382.0,317.4 380.0,317.3 378.0,317.2 376.0,317.2 374.0,317.1 372.0,317.0 370.0,316.9 368.0,316.9 366.0,316.8 364.0,316.7 362.0,316.6 360.0,316.5 358.0,316.4 356.0,316.3 354.0,316.2 352.0,316.1 350.0,316.0 348.0,315.9 346.0,315.8 344.0,315.6 342.0,315.5 340.0,315.4 338.0,315.3 336.0,315.2 334.0,315.0 332.0,314.9 330.0,314.8 328.0,314.7 326.0,314.5 324.0,314.4 322.0,314.3 320.0,314.1 318.0,314.0 316.0,313.9 314.0,313.7 312.0,313.6 310.0,313.5 308.0,313.3 306.0,313.2 304.0,313.1 302.0,312.9 300.0,312.8 298.0,312.6 296.0,312.5 294.0,312.3 292.0,312.1 290.0,311.9 288.0,311.8 286.0,311.6 284.0,311.4 282.0,311.2 280.0,311.0 278.0,310.8 276.0,310.6 274.0,310.4 272.0,310.2 270.0,310.1 268.0,309.8 266.0,309.6 264.0,309.4 262.0,309.2 260.0,309.0 258.0,308.8 256.0,308.8 254.0,308.8 252.0,308.8 250.0,308.8 248.0,308.8 246.0,308.8 244.0,308.8 242.0,308.8 240.0,308.8 238.0,308.8 236.0,308.8 234.0,308.8 232.0,308.8 230.0,308.8 228.0,308.8 226.0,308.8 224.0,308.8 222.0,308.8 220.0,308.8 218.0,308.8 216.0,308.8 214.0,308.8 212.0,308.8 210.0,308.8 208.0,308.8 206.0,308.8 204.0,308.8 202.0,308.8 200.0,308.8 Z"/></clipPath></defs>
<defs><clipPath id="cp4"><path d="M200.0,307.8 202.0,307.8 204.0,307.8 206.0,307.8 208.0,307.8 210.0,307.8 212.0,307.8 214.0,307.8 216.0,307.8 218.0,307.8 220.0,307.8 222.0,307.8 224.0,307.8 226.0,307.8 228.0,307.8 230.0,307.8 232.0,307.8 234.0,307.8 236.0,307.8 238.0,307.8 240.0,307.8 242.0,307.8 244.0,307.8 246.0,307.8 248.0,307.8 250.0,307.8 252.0,307.8 254.0,307.8 256.0,307.8 258.0,307.8 260.0,308.0 262.0,308.2 264.0,308.4 266.0,308.6 268.0,308.8 270.0,309.1 272.0,309.2 274.0,309.4 276.0,309.6 278.0,309.8 280.0,310.0 282.0,310.2 284.0,310.4 286.0,310.6 288.0,310.8 290.0,310.9 292.0,311.1 294.0,311.3 296.0,311.5 298.0,311.6 300.0,311.8 302.0,311.9 304.0,312.1 306.0,312.2 308.0,312.3 310.0,312.5 312.0,312.6 314.0,312.7 316.0,312.9 318.0,313.0 320.0,313.1 322.0,313.3 324.0,313.4 326.0,313.5 328.0,313.7 330.0,313.8 332.0,313.9 334.0,314.0 336.0,314.2 338.0,314.3 340.0,314.4 342.0,314.5 344.0,314.6 346.0,314.8 348.0,314.9 350.0,315.0 352.0,315.1 354.0,315.2 356.0,315.3 358.0,315.4 360.0,315.5 362.0,315.6 364.0,315.7 366.0,315.8 368.0,315.9 370.0,315.9 372.0,316.0 374.0,316.1 376.0,316.2 378.0,316.2 380.0,316.3 382.0,316.4 384.0,316.5 386.0,316.5 388.0,316.6 390.0,316.7 L390.0,717.2 388.0,717.1 386.0,717.0 384.0,717.0 382.0,716.9 380.0,716.8 378.0,716.7 376.0,716.7 374.0,716.6 372.0,716.5 370.0,716.4 368.0,716.4 366.0,716.3 364.0,716.2 362.0,716.1 360.0,716.0 358.0,715.9 356.0,715.8 354.0,715.7 352.0,715.6 350.0,715.5 348.0,715.4 346.0,715.3 344.0,715.1 342.0,715.0 340.0,714.9 338.0,714.8 336.0,714.7 334.0,714.5 332.0,714.4 330.0,714.3 328.0,714.2 326.0,714.0 324.0,713.9 322.0,713.8 320.0,713.6 318.0,713.5 316.0,713.4 314.0,713.2 312.0,713.1 310.0,713.0 308.0,712.8 306.0,712.7 304.0,712.6 302.0,712.4 300.0,712.3 298.0,712.1 296.0,712.0 294.0,711.8 292.0,711.6 290.0,711.4 288.0,711.3 286.0,711.1 284.0,710.9 282.0,710.7 280.0,710.5 278.0,710.3 276.0,710.1 274.0,709.9 272.0,709.7 270.0,709.5 268.0,709.3 266.0,709.1 264.0,708.9 262.0,708.7 260.0,708.5 258.0,708.3 256.0,708.3 254.0,708.3 252.0,708.3 250.0,708.3 248.0,708.3 246.0,708.3 244.0,708.3 242.0,708.3 240.0,708.3 238.0,708.3 236.0,708.3 234.0,708.3 232.0,708.3 230.0,708.3 228.0,708.3 226.0,708.3 224.0,708.3 222.0,708.3 220.0,708.3 218.0,708.3 216.0,708.3 214.0,708.3 212.0,708.3 210.0,708.3 208.0,708.3 206.0,708.3 204.0,708.3 202.0,708.3 200.0,708.3 Z"/></clipPath></defs>
<defs><linearGradient id="hg10" gradientUnits="userSpaceOnUse" x1="200" y1="0" x2="390" y2="0"><stop offset="0.0000" stop-color="#ffffff" stop-opacity="0.6"/><stop offset="0.1263" stop-color="#ffffff" stop-opacity="0.6"/><stop offset="0.2105" stop-color="#ffffff" stop-opacity="0.75"/><stop offset="0.3053" stop-color="#ffffff" stop-opacity="0.9"/><stop offset="0.3947" stop-color="#ffffff" stop-opacity="1.0"/><stop offset="1.0000" stop-color="#ffffff" stop-opacity="1.0"/></linearGradient></defs>
<defs><mask id="mk2" maskUnits="userSpaceOnUse" x="150" y="-60" width="300" height="600"><rect x="150" y="-60" width="300" height="600" fill="url(#hg10)"/></mask></defs>
<g mask="url(#mk2)">
<defs><filter id="bf10" filterUnits="userSpaceOnUse" x="150" y="-60" width="300" height="600"><feGaussianBlur stdDeviation="1.3"/></filter></defs>
<g clip-path="url(#cp3)"><path d="M200.0,301.6 202.0,301.6 204.0,301.6 206.0,301.6 208.0,301.6 210.0,301.6 212.0,301.6 214.0,301.6 216.0,301.6 218.0,301.6 220.0,301.6 222.0,301.6 224.0,301.6 226.0,301.6 228.0,301.6 230.0,301.6 232.0,301.6 234.0,301.6 236.0,301.6 238.0,301.6 240.0,301.6 242.0,301.6 244.0,301.6 246.0,301.6 248.0,301.6 250.0,301.6 252.0,301.6 254.0,301.6 256.0,301.6 258.0,301.6 260.0,301.6 262.0,301.6 264.0,301.6 266.0,301.6 268.0,301.6 270.0,301.6 272.0,301.6 274.0,301.6 276.0,301.6 278.0,301.6 280.0,301.6 282.0,301.6 284.0,301.6 286.0,301.6 288.0,301.6 290.0,301.6 292.0,301.6 294.0,301.6 296.0,301.6 298.0,301.6 300.0,301.6 302.0,301.6 304.0,301.6 306.0,301.6 308.0,301.6 310.0,301.6 312.0,301.6 314.0,301.6 316.0,301.6 318.0,301.6 320.0,301.6 322.0,301.6 324.0,301.6 326.0,301.6 328.0,301.6 330.0,301.6 332.0,301.6 334.0,301.6 336.0,301.6 338.0,301.6 340.0,301.6 342.0,301.6 344.0,301.6 346.0,301.6 348.0,301.6 350.0,301.6 352.0,301.6 354.0,301.6 356.0,301.6 358.0,301.6 360.0,301.6 362.0,301.6 364.0,301.6 366.0,301.6 368.0,301.6 370.0,301.6 372.0,301.6 374.0,301.6 376.0,301.6 378.0,301.6 380.0,301.6 382.0,301.6 384.0,301.6 386.0,301.6 388.0,301.6 390.0,301.6 L390.0,377.2 388.0,377.1 386.0,377.0 384.0,377.0 382.0,376.9 380.0,376.8 378.0,376.7 376.0,376.7 374.0,376.6 372.0,376.5 370.0,376.4 368.0,376.4 366.0,376.3 364.0,376.2 362.0,376.1 360.0,376.0 358.0,375.9 356.0,375.8 354.0,375.7 352.0,375.6 350.0,375.5 348.0,375.4 346.0,375.3 344.0,375.1 342.0,375.0 340.0,374.9 338.0,374.8 336.0,374.7 334.0,374.5 332.0,374.4 330.0,374.3 328.0,374.2 326.0,374.0 324.0,373.9 322.0,373.8 320.0,373.6 318.0,373.5 316.0,373.4 314.0,373.2 312.0,373.1 310.0,373.0 308.0,372.8 306.0,372.7 304.0,372.6 302.0,372.4 300.0,372.3 298.0,372.1 296.0,372.0 294.0,371.8 292.0,371.6 290.0,371.4 288.0,371.3 286.0,371.1 284.0,370.9 282.0,370.7 280.0,370.5 278.0,370.3 276.0,370.1 274.0,369.9 272.0,369.7 270.0,369.6 268.0,369.3 266.0,369.1 264.0,368.9 262.0,368.7 260.0,368.5 258.0,368.3 256.0,368.3 254.0,368.3 252.0,368.3 250.0,368.3 248.0,368.3 246.0,368.3 244.0,368.3 242.0,368.3 240.0,368.3 238.0,368.3 236.0,368.3 234.0,368.3 232.0,368.3 230.0,368.3 228.0,368.3 226.0,368.3 224.0,368.3 222.0,368.3 220.0,368.3 218.0,368.3 216.0,368.3 214.0,368.3 212.0,368.3 210.0,368.3 208.0,368.3 206.0,368.3 204.0,368.3 202.0,368.3 200.0,368.3 Z" fill="url(#hg8)" opacity="1.0" filter="url(#bf10)"/></g>
<defs><filter id="bf11" filterUnits="userSpaceOnUse" x="150" y="-60" width="300" height="600"><feGaussianBlur stdDeviation="2.6"/></filter></defs>
<g clip-path="url(#cp3)"><path d="M200.0,302.2 202.0,302.2 204.0,302.2 206.0,302.2 208.0,302.2 210.0,302.2 212.0,302.2 214.0,302.2 216.0,302.2 218.0,302.2 220.0,302.2 222.0,302.2 224.0,302.2 226.0,302.2 228.0,302.2 230.0,302.2 232.0,302.2 234.0,302.3 236.0,302.3 238.0,302.3 240.0,302.3 242.0,302.3 244.0,302.3 246.0,302.3 248.0,302.3 250.0,302.4 252.0,302.4 254.0,302.4 256.0,302.4 258.0,302.4 260.0,302.4 262.0,302.5 264.0,302.5 266.0,302.5 268.0,302.6 270.0,302.6 272.0,302.6 274.0,302.7 276.0,302.7 278.0,302.8 280.0,302.8 282.0,302.8 284.0,302.9 286.0,302.9 288.0,302.9 290.0,303.0 292.0,303.0 294.0,303.0 296.0,303.0 298.0,303.1 300.0,303.1 302.0,303.1 304.0,303.1 306.0,303.2 308.0,303.2 310.0,303.2 312.0,303.2 314.0,303.2 316.0,303.3 318.0,303.3 320.0,303.3 322.0,303.3 324.0,303.3 326.0,303.4 328.0,303.4 330.0,303.4 332.0,303.4 334.0,303.4 336.0,303.5 338.0,303.5 340.0,303.5 342.0,303.5 344.0,303.5 346.0,303.6 348.0,303.6 350.0,303.6 352.0,303.6 354.0,303.6 356.0,303.7 358.0,303.7 360.0,303.7 362.0,303.7 364.0,303.8 366.0,303.8 368.0,303.8 370.0,303.8 372.0,303.8 374.0,303.9 376.0,303.9 378.0,303.9 380.0,303.9 382.0,303.9 384.0,303.9 386.0,304.0 388.0,304.0 390.0,304.0 L390.0,377.2 388.0,377.1 386.0,377.0 384.0,377.0 382.0,376.9 380.0,376.8 378.0,376.7 376.0,376.7 374.0,376.6 372.0,376.5 370.0,376.4 368.0,376.4 366.0,376.3 364.0,376.2 362.0,376.1 360.0,376.0 358.0,375.9 356.0,375.8 354.0,375.7 352.0,375.6 350.0,375.5 348.0,375.4 346.0,375.3 344.0,375.1 342.0,375.0 340.0,374.9 338.0,374.8 336.0,374.7 334.0,374.5 332.0,374.4 330.0,374.3 328.0,374.2 326.0,374.0 324.0,373.9 322.0,373.8 320.0,373.6 318.0,373.5 316.0,373.4 314.0,373.2 312.0,373.1 310.0,373.0 308.0,372.8 306.0,372.7 304.0,372.6 302.0,372.4 300.0,372.3 298.0,372.1 296.0,372.0 294.0,371.8 292.0,371.6 290.0,371.4 288.0,371.3 286.0,371.1 284.0,370.9 282.0,370.7 280.0,370.5 278.0,370.3 276.0,370.1 274.0,369.9 272.0,369.7 270.0,369.6 268.0,369.3 266.0,369.1 264.0,368.9 262.0,368.7 260.0,368.5 258.0,368.3 256.0,368.3 254.0,368.3 252.0,368.3 250.0,368.3 248.0,368.3 246.0,368.3 244.0,368.3 242.0,368.3 240.0,368.3 238.0,368.3 236.0,368.3 234.0,368.3 232.0,368.3 230.0,368.3 228.0,368.3 226.0,368.3 224.0,368.3 222.0,368.3 220.0,368.3 218.0,368.3 216.0,368.3 214.0,368.3 212.0,368.3 210.0,368.3 208.0,368.3 206.0,368.3 204.0,368.3 202.0,368.3 200.0,368.3 Z" fill="url(#hg9)" opacity="1.0" filter="url(#bf11)"/></g>
<defs><filter id="bf12" filterUnits="userSpaceOnUse" x="150" y="-60" width="300" height="600"><feGaussianBlur stdDeviation="3.0"/></filter></defs>
<g clip-path="url(#cp4)"><path d="M200.0,248.3 202.0,248.3 204.0,248.3 206.0,248.3 208.0,248.3 210.0,248.3 212.0,248.3 214.0,248.3 216.0,248.3 218.0,248.3 220.0,248.3 222.0,248.3 224.0,248.3 226.0,248.3 228.0,248.3 230.0,248.3 232.0,248.3 234.0,248.3 236.0,248.3 238.0,248.3 240.0,248.3 242.0,248.3 244.0,248.3 246.0,248.3 248.0,248.3 250.0,248.3 252.0,248.3 254.0,248.3 256.0,248.3 258.0,248.3 260.0,248.5 262.0,248.7 264.0,248.9 266.0,249.1 268.0,249.3 270.0,249.6 272.0,249.7 274.0,249.9 276.0,250.1 278.0,250.3 280.0,250.5 282.0,250.7 284.0,250.9 286.0,251.1 288.0,251.3 290.0,251.4 292.0,251.6 294.0,251.8 296.0,252.0 298.0,252.1 300.0,252.3 302.0,252.4 304.0,252.6 306.0,252.7 308.0,252.8 310.0,253.0 312.0,253.1 314.0,253.2 316.0,253.4 318.0,253.5 320.0,253.6 322.0,253.8 324.0,253.9 326.0,254.0 328.0,254.2 330.0,254.3 332.0,254.4 334.0,254.5 336.0,254.7 338.0,254.8 340.0,254.9 342.0,255.0 344.0,255.1 346.0,255.3 348.0,255.4 350.0,255.5 352.0,255.6 354.0,255.7 356.0,255.8 358.0,255.9 360.0,256.0 362.0,256.1 364.0,256.2 366.0,256.3 368.0,256.4 370.0,256.4 372.0,256.5 374.0,256.6 376.0,256.7 378.0,256.7 380.0,256.8 382.0,256.9 384.0,257.0 386.0,257.0 388.0,257.1 390.0,257.2 L390.0,329.5 388.0,329.4 386.0,329.2 384.0,329.1 382.0,329.0 380.0,328.9 378.0,328.7 376.0,328.6 374.0,328.5 372.0,328.4 370.0,328.2 368.0,328.1 366.0,327.9 364.0,327.8 362.0,327.6 360.0,327.5 358.0,327.3 356.0,327.2 354.0,327.0 352.0,326.9 350.0,326.7 348.0,326.5 346.0,326.3 344.0,326.1 342.0,325.9 340.0,325.7 338.0,325.5 336.0,325.3 334.0,325.1 332.0,324.9 330.0,324.7 328.0,324.5 326.0,324.2 324.0,324.0 322.0,323.8 320.0,323.6 318.0,323.3 316.0,323.1 314.0,322.9 312.0,322.7 310.0,322.4 308.0,322.2 306.0,322.0 304.0,321.8 302.0,321.5 300.0,321.3 298.0,321.0 296.0,320.7 294.0,320.4 292.0,320.1 290.0,319.8 288.0,319.5 286.0,319.2 284.0,318.8 282.0,318.5 280.0,318.1 278.0,317.7 276.0,317.4 274.0,317.0 272.0,316.7 270.0,316.3 268.0,315.9 266.0,315.5 264.0,315.1 262.0,314.8 260.0,314.4 258.0,314.0 256.0,314.0 254.0,314.0 252.0,314.0 250.0,314.0 248.0,314.0 246.0,314.0 244.0,314.0 242.0,314.0 240.0,314.0 238.0,314.0 236.0,314.0 234.0,314.0 232.0,314.0 230.0,314.0 228.0,314.0 226.0,314.0 224.0,314.0 222.0,314.0 220.0,314.0 218.0,314.0 216.0,314.0 214.0,314.0 212.0,314.0 210.0,314.0 208.0,314.0 206.0,314.0 204.0,314.0 202.0,314.0 200.0,314.0 Z" fill="#ffffff" opacity="1.0" filter="url(#bf12)"/></g>
</g>
</g>
<defs><linearGradient id="hg11" gradientUnits="userSpaceOnUse" x1="200" y1="0" x2="390" y2="0"><stop offset="0.3053" stop-color="#ff0000" stop-opacity="0"/><stop offset="0.3684" stop-color="#ff0000" stop-opacity="0.4"/><stop offset="0.4474" stop-color="#ff0000" stop-opacity="0.65"/><stop offset="0.5263" stop-color="#ff0000" stop-opacity="0.85"/><stop offset="0.6842" stop-color="#ff0000" stop-opacity="1.0"/><stop offset="1.0000" stop-color="#ff0000" stop-opacity="1.0"/></linearGradient></defs>
<defs><filter id="bf13" filterUnits="userSpaceOnUse" x="150" y="-60" width="300" height="600"><feGaussianBlur stdDeviation="1.0"/></filter></defs>
<g><path d="M200.0,308.0 202.0,308.0 204.0,308.0 206.0,308.0 208.0,308.0 210.0,308.0 212.0,308.0 214.0,308.0 216.0,308.0 218.0,308.0 220.0,308.0 222.0,308.0 224.0,308.0 226.0,308.0 228.0,308.0 230.0,308.0 232.0,308.0 234.0,308.0 236.0,308.0 238.0,308.0 240.0,308.0 242.0,308.0 244.0,308.0 246.0,308.0 248.0,308.0 250.0,308.0 252.0,308.0 254.0,308.0 256.0,308.0 258.0,308.0 260.0,308.0 262.0,308.0 264.0,308.0 266.0,308.0 268.0,308.0 270.0,308.0 272.0,308.0 274.0,308.1 276.0,308.1 278.0,308.1 280.0,308.1 282.0,308.2 284.0,308.2 286.0,308.2 288.0,308.3 290.0,308.3 292.0,308.3 294.0,308.4 296.0,308.4 298.0,308.5 300.0,308.5 302.0,308.5 304.0,308.6 306.0,308.6 308.0,308.7 310.0,308.7 312.0,308.7 314.0,308.8 316.0,308.8 318.0,308.9 320.0,308.9 322.0,308.9 324.0,309.0 326.0,309.0 328.0,309.1 330.0,309.1 332.0,309.1 334.0,309.2 336.0,309.2 338.0,309.3 340.0,309.3 342.0,309.3 344.0,309.4 346.0,309.4 348.0,309.5 350.0,309.5 352.0,309.5 354.0,309.6 356.0,309.6 358.0,309.6 360.0,309.7 362.0,309.7 364.0,309.7 366.0,309.8 368.0,309.8 370.0,309.8 372.0,309.9 374.0,309.9 376.0,309.9 378.0,309.9 380.0,310.0 382.0,310.0 384.0,310.0 386.0,310.0 388.0,310.1 390.0,310.1 L390.0,324.3 388.0,324.2 386.0,324.0 384.0,323.9 382.0,323.8 380.0,323.7 378.0,323.5 376.0,323.4 374.0,323.3 372.0,323.2 370.0,323.0 368.0,322.9 366.0,322.7 364.0,322.6 362.0,322.4 360.0,322.3 358.0,322.1 356.0,322.0 354.0,321.8 352.0,321.7 350.0,321.5 348.0,321.3 346.0,321.1 344.0,320.9 342.0,320.7 340.0,320.5 338.0,320.3 336.0,320.1 334.0,319.9 332.0,319.7 330.0,319.5 328.0,319.3 326.0,319.0 324.0,318.8 322.0,318.6 320.0,318.4 318.0,318.1 316.0,317.9 314.0,317.7 312.0,317.5 310.0,317.2 308.0,317.0 306.0,316.8 304.0,316.6 302.0,316.3 300.0,316.1 298.0,315.8 296.0,315.5 294.0,315.2 292.0,314.9 290.0,314.6 288.0,314.3 286.0,314.0 284.0,313.6 282.0,313.3 280.0,312.9 278.0,312.5 276.0,312.2 274.0,311.8 272.0,311.5 270.0,311.1 268.0,310.7 266.0,310.3 264.0,309.9 262.0,309.4 260.0,309.0 258.0,308.6 256.0,308.6 254.0,308.6 252.0,308.6 250.0,308.6 248.0,308.6 246.0,308.6 244.0,308.6 242.0,308.6 240.0,308.6 238.0,308.6 236.0,308.6 234.0,308.6 232.0,308.6 230.0,308.6 228.0,308.6 226.0,308.6 224.0,308.6 222.0,308.6 220.0,308.6 218.0,308.6 216.0,308.6 214.0,308.6 212.0,308.6 210.0,308.6 208.0,308.6 206.0,308.6 204.0,308.6 202.0,308.6 200.0,308.6 Z" fill="url(#hg11)" opacity="1.0" filter="url(#bf13)"/></g>
<defs><linearGradient id="hg12" gradientUnits="userSpaceOnUse" x1="200" y1="0" x2="390" y2="0"><stop offset="0.1895" stop-color="#ffffff" stop-opacity="0.15"/><stop offset="0.2526" stop-color="#ffffff" stop-opacity="0.55"/><stop offset="0.3263" stop-color="#ffffff" stop-opacity="0.9"/><stop offset="0.3947" stop-color="#ffffff" stop-opacity="1"/><stop offset="1.0000" stop-color="#ffffff" stop-opacity="1"/></linearGradient></defs>
<defs><filter id="bf14" filterUnits="userSpaceOnUse" x="150" y="-60" width="300" height="600"><feGaussianBlur stdDeviation="2.0"/></filter></defs>
<g><path d="M200.0,396.2 202.0,396.2 204.0,396.2 206.0,396.2 208.0,396.2 210.0,396.2 212.0,396.2 214.0,396.2 216.0,396.2 218.0,396.2 220.0,396.2 222.0,396.2 224.0,396.2 226.0,396.2 228.0,396.2 230.0,396.2 232.0,396.2 234.0,396.2 236.0,396.2 238.0,395.0 240.0,393.9 242.0,392.7 244.0,391.5 246.0,390.3 248.0,389.2 250.0,387.9 252.0,386.7 254.0,385.4 256.0,384.1 258.0,382.8 260.0,381.5 262.0,380.2 264.0,379.0 266.0,377.8 268.0,376.7 270.0,375.7 272.0,374.6 274.0,373.5 276.0,372.5 278.0,371.6 280.0,370.9 282.0,370.3 284.0,369.6 286.0,368.9 288.0,368.2 290.0,367.5 292.0,366.8 294.0,366.1 296.0,365.6 298.0,365.0 300.0,364.5 302.0,364.0 304.0,363.4 306.0,362.9 308.0,362.3 310.0,361.8 312.0,361.3 314.0,360.7 316.0,360.2 318.0,359.8 320.0,359.4 322.0,359.0 324.0,358.6 326.0,358.2 328.0,357.8 330.0,357.3 332.0,356.9 334.0,356.5 336.0,356.1 338.0,355.7 340.0,355.3 342.0,355.0 344.0,354.6 346.0,354.3 348.0,353.9 350.0,353.6 352.0,353.2 354.0,352.9 356.0,352.6 358.0,352.2 360.0,351.9 362.0,351.5 364.0,351.2 366.0,350.8 368.0,350.5 370.0,350.2 372.0,350.0 374.0,349.7 376.0,349.4 378.0,349.1 380.0,348.9 382.0,348.6 384.0,348.3 386.0,348.0 388.0,347.8 390.0,347.5 L390.0,359.5 388.0,359.8 386.0,360.0 384.0,360.3 382.0,360.6 380.0,360.9 378.0,361.1 376.0,361.4 374.0,361.7 372.0,362.0 370.0,362.2 368.0,362.5 366.0,362.8 364.0,363.1 362.0,363.4 360.0,363.8 358.0,364.1 356.0,364.4 354.0,364.7 352.0,365.0 350.0,365.3 348.0,365.6 346.0,366.0 344.0,366.3 342.0,366.6 340.0,366.9 338.0,367.3 336.0,367.7 334.0,368.0 332.0,368.4 330.0,368.8 328.0,369.2 326.0,369.5 324.0,369.9 322.0,370.3 320.0,370.7 318.0,371.0 316.0,371.4 314.0,371.9 312.0,372.4 310.0,372.8 308.0,373.3 306.0,373.8 304.0,374.3 302.0,374.8 300.0,375.3 298.0,375.7 296.0,376.2 294.0,376.7 292.0,377.3 290.0,377.9 288.0,378.4 286.0,379.0 284.0,379.6 282.0,380.1 280.0,380.7 278.0,381.3 276.0,382.0 274.0,382.8 272.0,383.7 270.0,384.5 268.0,385.4 266.0,386.3 264.0,387.2 262.0,388.2 260.0,389.2 258.0,390.2 256.0,391.1 254.0,392.1 252.0,393.1 250.0,394.1 248.0,395.0 246.0,395.8 244.0,396.6 242.0,397.4 240.0,398.2 238.0,399.0 236.0,399.8 234.0,399.8 232.0,399.8 230.0,399.8 228.0,399.8 226.0,399.8 224.0,399.8 222.0,399.8 220.0,399.8 218.0,399.8 216.0,399.8 214.0,399.8 212.0,399.8 210.0,399.8 208.0,399.8 206.0,399.8 204.0,399.8 202.0,399.8 200.0,399.8 Z" fill="url(#hg12)" opacity="1.0" filter="url(#bf14)"/></g>
<defs><filter id="bf15" filterUnits="userSpaceOnUse" x="150" y="-60" width="300" height="600"><feGaussianBlur stdDeviation="5"/></filter></defs>
<g><path d="M200.0,393.2 202.0,393.2 204.0,393.2 206.0,393.2 208.0,393.2 210.0,393.2 212.0,393.2 214.0,393.2 216.0,393.2 218.0,393.2 220.0,393.2 222.0,393.2 224.0,393.2 226.0,393.2 228.0,393.2 230.0,393.2 232.0,393.2 234.0,393.2 236.0,393.2 238.0,392.0 240.0,390.9 242.0,389.7 244.0,388.5 246.0,387.3 248.0,386.2 250.0,384.9 252.0,383.7 254.0,382.4 256.0,381.1 258.0,379.8 260.0,378.5 262.0,377.2 264.0,376.0 266.0,374.8 268.0,373.7 270.0,372.7 272.0,371.6 274.0,370.5 276.0,369.5 278.0,368.6 280.0,367.9 282.0,367.3 284.0,366.6 286.0,365.9 288.0,365.2 290.0,364.5 292.0,363.8 294.0,363.1 296.0,362.6 298.0,362.0 300.0,361.5 302.0,361.0 304.0,360.4 306.0,359.9 308.0,359.3 310.0,358.8 312.0,358.3 314.0,357.7 316.0,357.2 318.0,356.8 320.0,356.4 322.0,356.0 324.0,355.6 326.0,355.2 328.0,354.8 330.0,354.3 332.0,353.9 334.0,353.5 336.0,353.1 338.0,352.7 340.0,352.3 342.0,352.0 344.0,351.6 346.0,351.3 348.0,350.9 350.0,350.6 352.0,350.2 354.0,349.9 356.0,349.6 358.0,349.2 360.0,348.9 362.0,348.5 364.0,348.2 366.0,347.8 368.0,347.5 370.0,347.2 372.0,347.0 374.0,346.7 376.0,346.4 378.0,346.1 380.0,345.9 382.0,345.6 384.0,345.3 386.0,345.0 388.0,344.8 390.0,344.5 L390.0,362.5 388.0,362.8 386.0,363.0 384.0,363.3 382.0,363.6 380.0,363.9 378.0,364.1 376.0,364.4 374.0,364.7 372.0,365.0 370.0,365.2 368.0,365.5 366.0,365.8 364.0,366.1 362.0,366.4 360.0,366.8 358.0,367.1 356.0,367.4 354.0,367.7 352.0,368.0 350.0,368.3 348.0,368.6 346.0,369.0 344.0,369.3 342.0,369.6 340.0,369.9 338.0,370.3 336.0,370.7 334.0,371.0 332.0,371.4 330.0,371.8 328.0,372.2 326.0,372.5 324.0,372.9 322.0,373.3 320.0,373.7 318.0,374.0 316.0,374.4 314.0,374.9 312.0,375.4 310.0,375.8 308.0,376.3 306.0,376.8 304.0,377.3 302.0,377.8 300.0,378.3 298.0,378.7 296.0,379.2 294.0,379.7 292.0,380.3 290.0,380.9 288.0,381.4 286.0,382.0 284.0,382.6 282.0,383.1 280.0,383.7 278.0,384.3 276.0,385.0 274.0,385.8 272.0,386.7 270.0,387.5 268.0,388.4 266.0,389.3 264.0,390.2 262.0,391.2 260.0,392.2 258.0,393.2 256.0,394.1 254.0,395.1 252.0,396.1 250.0,397.1 248.0,398.0 246.0,398.8 244.0,399.6 242.0,400.4 240.0,401.2 238.0,402.0 236.0,402.8 234.0,402.8 232.0,402.8 230.0,402.8 228.0,402.8 226.0,402.8 224.0,402.8 222.0,402.8 220.0,402.8 218.0,402.8 216.0,402.8 214.0,402.8 212.0,402.8 210.0,402.8 208.0,402.8 206.0,402.8 204.0,402.8 202.0,402.8 200.0,402.8 Z" fill="url(#hg12)" opacity="0.3" filter="url(#bf15)"/></g>
<defs><linearGradient id="hg13" gradientUnits="userSpaceOnUse" x1="200" y1="0" x2="390" y2="0"><stop offset="0.3474" stop-color="#ff0000" stop-opacity="0"/><stop offset="0.4474" stop-color="#ff0000" stop-opacity="0.32"/><stop offset="0.5263" stop-color="#ff0000" stop-opacity="0.38"/><stop offset="0.8842" stop-color="#ff0000" stop-opacity="0.4"/><stop offset="1.0000" stop-color="#ff0000" stop-opacity="0.4"/></linearGradient></defs>
<defs><filter id="bf16" filterUnits="userSpaceOnUse" x="150" y="-60" width="300" height="600"><feGaussianBlur stdDeviation="1.2"/></filter></defs>
<g><path d="M200.0,398.0 202.0,398.0 204.0,398.0 206.0,398.0 208.0,398.0 210.0,398.0 212.0,398.0 214.0,398.0 216.0,398.0 218.0,398.0 220.0,398.0 222.0,398.0 224.0,398.0 226.0,398.0 228.0,398.0 230.0,398.0 232.0,398.0 234.0,398.0 236.0,398.0 238.0,397.0 240.0,396.0 242.0,395.0 244.0,394.1 246.0,393.1 248.0,392.1 250.0,391.0 252.0,389.8 254.0,388.7 256.0,387.5 258.0,386.3 260.0,385.1 262.0,384.0 264.0,382.8 266.0,381.7 268.0,380.5 270.0,379.4 272.0,378.3 274.0,377.2 276.0,376.1 278.0,375.2 280.0,374.5 282.0,373.8 284.0,373.0 286.0,372.3 288.0,371.6 290.0,370.9 292.0,370.2 294.0,369.4 296.0,368.9 298.0,368.3 300.0,367.8 302.0,367.3 304.0,366.7 306.0,366.2 308.0,365.6 310.0,365.1 312.0,364.6 314.0,364.0 316.0,363.5 318.0,363.1 320.0,362.7 322.0,362.3 324.0,361.9 326.0,361.5 328.0,361.1 330.0,360.6 332.0,360.2 334.0,359.8 336.0,359.4 338.0,359.0 340.0,358.6 342.0,358.3 344.0,357.9 346.0,357.6 348.0,357.3 350.0,356.9 352.0,356.6 354.0,356.2 356.0,355.9 358.0,355.6 360.0,355.2 362.0,354.9 364.0,354.6 366.0,354.2 368.0,353.9 370.0,353.6 372.0,353.4 374.0,353.1 376.0,352.8 378.0,352.5 380.0,352.3 382.0,352.0 384.0,351.7 386.0,351.4 388.0,351.2 390.0,350.9 L390.0,356.1 388.0,356.4 386.0,356.6 384.0,356.9 382.0,357.2 380.0,357.5 378.0,357.7 376.0,358.0 374.0,358.3 372.0,358.6 370.0,358.8 368.0,359.1 366.0,359.4 364.0,359.7 362.0,360.1 360.0,360.4 358.0,360.7 356.0,361.0 354.0,361.4 352.0,361.7 350.0,362.0 348.0,362.3 346.0,362.6 344.0,363.0 342.0,363.3 340.0,363.6 338.0,364.0 336.0,364.4 334.0,364.7 332.0,365.1 330.0,365.5 328.0,365.9 326.0,366.2 324.0,366.6 322.0,367.0 320.0,367.4 318.0,367.7 316.0,368.1 314.0,368.6 312.0,369.1 310.0,369.5 308.0,370.0 306.0,370.5 304.0,371.0 302.0,371.5 300.0,372.0 298.0,372.4 296.0,372.9 294.0,373.4 292.0,373.9 290.0,374.5 288.0,375.0 286.0,375.6 284.0,376.1 282.0,376.6 280.0,377.2 278.0,377.7 276.0,378.4 274.0,379.2 272.0,380.0 270.0,380.8 268.0,381.6 266.0,382.4 264.0,383.4 262.0,384.5 260.0,385.6 258.0,386.7 256.0,387.7 254.0,388.8 252.0,389.9 250.0,391.0 248.0,392.1 246.0,393.1 244.0,394.1 242.0,395.0 240.0,396.0 238.0,397.0 236.0,398.0 234.0,398.0 232.0,398.0 230.0,398.0 228.0,398.0 226.0,398.0 224.0,398.0 222.0,398.0 220.0,398.0 218.0,398.0 216.0,398.0 214.0,398.0 212.0,398.0 210.0,398.0 208.0,398.0 206.0,398.0 204.0,398.0 202.0,398.0 200.0,398.0 Z" fill="url(#hg13)" opacity="1.0" filter="url(#bf16)"/></g>
<defs><filter id="bf17" filterUnits="userSpaceOnUse" x="150" y="-60" width="300" height="600"><feGaussianBlur stdDeviation="3.5"/></filter></defs>
<g><path d="M200.0,409.0 202.0,409.0 204.0,409.0 206.0,409.0 208.0,409.0 210.0,409.0 212.0,409.0 214.0,409.0 216.0,409.0 218.0,409.0 220.0,409.0 222.0,409.0 224.0,409.1 226.0,409.1 228.0,409.2 230.0,409.3 232.0,409.4 234.0,409.4 236.0,409.5 238.0,409.6 240.0,409.6 242.0,409.7 244.0,409.8 246.0,409.9 248.0,409.9 250.0,410.0 252.0,410.1 254.0,410.3 256.0,410.4 258.0,410.5 260.0,410.7 262.0,410.8 264.0,410.9 266.0,411.1 268.0,411.2 270.0,411.3 272.0,411.5 274.0,411.6 276.0,411.7 278.0,411.9 280.0,412.0 282.0,412.1 284.0,412.2 286.0,412.3 288.0,412.4 290.0,412.5 292.0,412.6 294.0,412.7 296.0,412.8 298.0,412.9 300.0,413.0 302.0,413.1 304.0,413.1 306.0,413.1 308.0,413.2 310.0,413.2 312.0,413.3 314.0,413.4 316.0,413.4 318.0,413.4 320.0,413.5 322.0,413.6 324.0,413.6 326.0,413.6 328.0,413.7 330.0,413.8 332.0,413.8 334.0,413.9 336.0,413.9 338.0,413.9 340.0,414.0 342.0,414.0 344.0,414.0 346.0,414.0 348.0,414.0 350.0,414.0 352.0,414.0 354.0,414.0 356.0,414.0 358.0,414.0 360.0,414.0 362.0,414.0 364.0,414.0 366.0,414.0 368.0,414.0 370.0,414.0 372.0,414.0 374.0,414.0 376.0,414.0 378.0,414.0 380.0,414.0 382.0,414.0 384.0,414.0 386.0,414.0 388.0,414.0 390.0,414.0 L390.0,418.0 388.0,418.0 386.0,418.0 384.0,418.0 382.0,418.0 380.0,418.0 378.0,418.0 376.0,418.0 374.0,418.0 372.0,418.0 370.0,418.0 368.0,418.0 366.0,418.0 364.0,418.0 362.0,418.0 360.0,418.0 358.0,418.0 356.0,418.0 354.0,418.0 352.0,418.0 350.0,418.0 348.0,418.0 346.0,418.0 344.0,418.0 342.0,418.0 340.0,418.0 338.0,418.1 336.0,418.1 334.0,418.1 332.0,418.2 330.0,418.2 328.0,418.3 326.0,418.4 324.0,418.4 322.0,418.4 320.0,418.5 318.0,418.6 316.0,418.6 314.0,418.6 312.0,418.7 310.0,418.8 308.0,418.8 306.0,418.9 304.0,418.9 302.0,418.9 300.0,419.0 298.0,419.1 296.0,419.2 294.0,419.3 292.0,419.4 290.0,419.5 288.0,419.6 286.0,419.7 284.0,419.8 282.0,419.9 280.0,420.0 278.0,420.1 276.0,420.1 274.0,420.2 272.0,420.3 270.0,420.3 268.0,420.4 266.0,420.5 264.0,420.5 262.0,420.6 260.0,420.7 258.0,420.7 256.0,420.8 254.0,420.9 252.0,420.9 250.0,421.0 248.0,421.0 246.0,421.0 244.0,421.0 242.0,421.0 240.0,421.0 238.0,421.0 236.0,421.0 234.0,421.0 232.0,421.0 230.0,421.0 228.0,421.0 226.0,421.0 224.0,421.0 222.0,421.0 220.0,421.0 218.0,421.0 216.0,421.0 214.0,421.0 212.0,421.0 210.0,421.0 208.0,421.0 206.0,421.0 204.0,421.0 202.0,421.0 200.0,421.0 Z" fill="#fff" opacity="0.28" filter="url(#bf17)"/></g>
<defs><filter id="bf18" filterUnits="userSpaceOnUse" x="150" y="-60" width="300" height="600"><feGaussianBlur stdDeviation="3"/></filter></defs>
<ellipse cx="226" cy="414" rx="7" ry="10" fill="#fff" opacity="0.35" filter="url(#bf18)"/>
<defs><linearGradient id="hg14" gradientUnits="userSpaceOnUse" x1="200" y1="0" x2="390" y2="0"><stop offset="0.0000" stop-color="#ffffff" stop-opacity="0"/><stop offset="0.1053" stop-color="#ffffff" stop-opacity="0.0"/><stop offset="0.1158" stop-color="#ffffff" stop-opacity="0.5"/><stop offset="0.1842" stop-color="#ffffff" stop-opacity="1.0"/><stop offset="1.0000" stop-color="#ffffff" stop-opacity="1.0"/></linearGradient></defs>
<defs><filter id="bf19" filterUnits="userSpaceOnUse" x="150" y="-60" width="300" height="600"><feGaussianBlur stdDeviation="0.8"/></filter></defs>
<g><path d="M200.0,427.6 202.0,427.6 204.0,427.6 206.0,427.6 208.0,427.6 210.0,427.6 212.0,427.6 214.0,427.6 216.0,427.6 218.0,427.6 220.0,427.6 222.0,427.7 224.0,427.7 226.0,427.7 228.0,427.7 230.0,427.7 232.0,427.7 234.0,427.7 236.0,427.7 238.0,427.7 240.0,427.7 242.0,427.7 244.0,427.7 246.0,427.7 248.0,427.8 250.0,427.8 252.0,427.8 254.0,427.8 256.0,427.8 258.0,427.8 260.0,427.8 262.0,427.8 264.0,427.9 266.0,427.9 268.0,427.9 270.0,427.9 272.0,427.9 274.0,427.9 276.0,427.9 278.0,427.9 280.0,427.9 282.0,427.9 284.0,427.9 286.0,427.9 288.0,427.9 290.0,427.9 292.0,428.0 294.0,428.0 296.0,428.0 298.0,428.0 300.0,428.0 302.0,428.0 304.0,428.0 306.0,428.0 308.0,428.0 310.0,428.0 312.0,428.0 314.0,428.0 316.0,428.0 318.0,428.0 320.0,428.0 322.0,428.0 324.0,428.0 326.0,428.0 328.0,428.0 330.0,428.0 332.0,428.1 334.0,428.1 336.0,428.1 338.0,428.1 340.0,428.1 342.0,428.1 344.0,428.1 346.0,428.1 348.0,428.1 350.0,428.1 352.0,428.1 354.0,428.1 356.0,428.1 358.0,428.1 360.0,428.1 362.0,428.1 364.0,428.1 366.0,428.1 368.0,428.1 370.0,428.1 372.0,428.2 374.0,428.2 376.0,428.2 378.0,428.2 380.0,428.2 382.0,428.2 384.0,428.2 386.0,428.2 388.0,428.2 390.0,428.2 L390.0,432.2 388.0,432.2 386.0,432.2 384.0,432.2 382.0,432.1 380.0,432.1 378.0,432.1 376.0,432.1 374.0,432.1 372.0,432.1 370.0,432.1 368.0,432.1 366.0,432.0 364.0,432.0 362.0,432.0 360.0,432.0 358.0,432.0 356.0,432.0 354.0,432.0 352.0,431.9 350.0,431.9 348.0,431.9 346.0,431.9 344.0,431.9 342.0,431.9 340.0,431.9 338.0,431.9 336.0,431.8 334.0,431.8 332.0,431.8 330.0,431.8 328.0,431.8 326.0,431.8 324.0,431.8 322.0,431.7 320.0,431.7 318.0,431.7 316.0,431.7 314.0,431.7 312.0,431.7 310.0,431.7 308.0,431.7 306.0,431.6 304.0,431.6 302.0,431.6 300.0,431.6 298.0,431.6 296.0,431.6 294.0,431.6 292.0,431.5 290.0,431.5 288.0,431.5 286.0,431.5 284.0,431.5 282.0,431.5 280.0,431.5 278.0,431.5 276.0,431.4 274.0,431.4 272.0,431.4 270.0,431.4 268.0,431.3 266.0,431.3 264.0,431.2 262.0,431.1 260.0,431.0 258.0,431.0 256.0,430.9 254.0,430.8 252.0,430.7 250.0,430.7 248.0,430.6 246.0,430.5 244.0,430.4 242.0,430.4 240.0,430.3 238.0,430.3 236.0,430.2 234.0,430.2 232.0,430.2 230.0,430.2 228.0,430.2 226.0,430.1 224.0,430.1 222.0,430.1 220.0,430.1 218.0,430.0 216.0,430.0 214.0,430.0 212.0,429.9 210.0,429.9 208.0,429.9 206.0,429.9 204.0,429.9 202.0,429.8 200.0,429.8 Z" fill="url(#hg14)" opacity="1.0" filter="url(#bf19)"/></g>
<defs><filter id="bf20" filterUnits="userSpaceOnUse" x="150" y="-60" width="300" height="600"><feGaussianBlur stdDeviation="1.8"/></filter></defs>
<g><path d="M200.0,430.2 202.0,430.2 204.0,430.2 206.0,430.3 208.0,430.3 210.0,430.3 212.0,430.3 214.0,430.3 216.0,430.4 218.0,430.4 220.0,430.4 222.0,430.4 224.0,430.4 226.0,430.5 228.0,430.5 230.0,430.5 232.0,430.5 234.0,430.5 236.0,430.6 238.0,430.6 240.0,430.6 242.0,430.7 244.0,430.7 246.0,430.8 248.0,430.8 250.0,430.9 252.0,430.9 254.0,431.0 256.0,431.0 258.0,431.1 260.0,431.1 262.0,431.2 264.0,431.2 266.0,431.3 268.0,431.3 270.0,431.4 272.0,431.4 274.0,431.4 276.0,431.4 278.0,431.4 280.0,431.4 282.0,431.4 284.0,431.5 286.0,431.5 288.0,431.5 290.0,431.5 292.0,431.5 294.0,431.5 296.0,431.5 298.0,431.5 300.0,431.5 302.0,431.5 304.0,431.5 306.0,431.5 308.0,431.6 310.0,431.6 312.0,431.6 314.0,431.6 316.0,431.6 318.0,431.6 320.0,431.6 322.0,431.6 324.0,431.6 326.0,431.6 328.0,431.6 330.0,431.6 332.0,431.7 334.0,431.7 336.0,431.7 338.0,431.7 340.0,431.7 342.0,431.7 344.0,431.7 346.0,431.7 348.0,431.7 350.0,431.7 352.0,431.7 354.0,431.8 356.0,431.8 358.0,431.8 360.0,431.8 362.0,431.8 364.0,431.8 366.0,431.8 368.0,431.8 370.0,431.8 372.0,431.8 374.0,431.8 376.0,431.8 378.0,431.8 380.0,431.9 382.0,431.9 384.0,431.9 386.0,431.9 388.0,431.9 390.0,431.9 L390.0,434.2 388.0,434.2 386.0,434.2 384.0,434.1 382.0,434.1 380.0,434.1 378.0,434.1 376.0,434.1 374.0,434.1 372.0,434.1 370.0,434.0 368.0,434.0 366.0,434.0 364.0,434.0 362.0,434.0 360.0,433.9 358.0,433.9 356.0,433.9 354.0,433.9 352.0,433.9 350.0,433.9 348.0,433.8 346.0,433.8 344.0,433.8 342.0,433.8 340.0,433.8 338.0,433.8 336.0,433.8 334.0,433.7 332.0,433.7 330.0,433.7 328.0,433.7 326.0,433.7 324.0,433.6 322.0,433.6 320.0,433.6 318.0,433.6 316.0,433.6 314.0,433.6 312.0,433.6 310.0,433.5 308.0,433.5 306.0,433.5 304.0,433.5 302.0,433.5 300.0,433.4 298.0,433.4 296.0,433.4 294.0,433.4 292.0,433.4 290.0,433.4 288.0,433.3 286.0,433.3 284.0,433.3 282.0,433.3 280.0,433.3 278.0,433.3 276.0,433.2 274.0,433.2 272.0,433.2 270.0,433.2 268.0,433.1 266.0,433.1 264.0,433.0 262.0,432.9 260.0,432.9 258.0,432.8 256.0,432.7 254.0,432.7 252.0,432.6 250.0,432.5 248.0,432.5 246.0,432.4 244.0,432.3 242.0,432.3 240.0,432.2 238.0,432.2 236.0,432.2 234.0,432.1 232.0,432.1 230.0,432.1 228.0,432.1 226.0,432.1 224.0,432.0 222.0,432.0 220.0,432.0 218.0,432.0 216.0,432.0 214.0,431.9 212.0,431.9 210.0,431.9 208.0,431.9 206.0,431.9 204.0,431.8 202.0,431.8 200.0,431.8 Z" fill="url(#hg14)" opacity="0.4" filter="url(#bf20)"/></g>
<defs><linearGradient id="hg15" gradientUnits="userSpaceOnUse" x1="200" y1="0" x2="390" y2="0"><stop offset="0.1895" stop-color="#ff0000" stop-opacity="0"/><stop offset="0.3421" stop-color="#ff0000" stop-opacity="1"/><stop offset="1.0000" stop-color="#ff0000" stop-opacity="1"/></linearGradient></defs>
<defs><filter id="bf21" filterUnits="userSpaceOnUse" x="150" y="-60" width="300" height="600"><feGaussianBlur stdDeviation="0.6"/></filter></defs>
<g><path d="M200.0,429.6 202.0,429.6 204.0,429.6 206.0,429.6 208.0,429.6 210.0,429.6 212.0,429.6 214.0,429.6 216.0,429.6 218.0,429.6 220.0,429.6 222.0,429.6 224.0,429.6 226.0,429.6 228.0,429.6 230.0,429.6 232.0,429.6 234.0,429.6 236.0,429.6 238.0,429.6 240.0,429.6 242.0,429.6 244.0,429.6 246.0,429.6 248.0,429.6 250.0,429.6 252.0,429.5 254.0,429.5 256.0,429.5 258.0,429.5 260.0,429.5 262.0,429.5 264.0,429.5 266.0,429.5 268.0,429.5 270.0,429.5 272.0,429.5 274.0,429.5 276.0,429.5 278.0,429.5 280.0,429.5 282.0,429.5 284.0,429.5 286.0,429.5 288.0,429.5 290.0,429.5 292.0,429.5 294.0,429.5 296.0,429.5 298.0,429.5 300.0,429.5 302.0,429.5 304.0,429.5 306.0,429.5 308.0,429.5 310.0,429.5 312.0,429.5 314.0,429.5 316.0,429.5 318.0,429.5 320.0,429.5 322.0,429.5 324.0,429.5 326.0,429.5 328.0,429.6 330.0,429.6 332.0,429.6 334.0,429.6 336.0,429.6 338.0,429.6 340.0,429.6 342.0,429.6 344.0,429.6 346.0,429.6 348.0,429.6 350.0,429.6 352.0,429.6 354.0,429.6 356.0,429.6 358.0,429.6 360.0,429.6 362.0,429.6 364.0,429.6 366.0,429.6 368.0,429.6 370.0,429.6 372.0,429.6 374.0,429.6 376.0,429.6 378.0,429.6 380.0,429.6 382.0,429.6 384.0,429.6 386.0,429.6 388.0,429.6 390.0,429.6 L390.0,431.6 388.0,431.6 386.0,431.6 384.0,431.6 382.0,431.6 380.0,431.5 378.0,431.5 376.0,431.5 374.0,431.5 372.0,431.5 370.0,431.5 368.0,431.5 366.0,431.5 364.0,431.5 362.0,431.4 360.0,431.4 358.0,431.4 356.0,431.4 354.0,431.4 352.0,431.4 350.0,431.4 348.0,431.4 346.0,431.4 344.0,431.3 342.0,431.3 340.0,431.3 338.0,431.3 336.0,431.3 334.0,431.3 332.0,431.3 330.0,431.3 328.0,431.3 326.0,431.2 324.0,431.2 322.0,431.2 320.0,431.2 318.0,431.2 316.0,431.2 314.0,431.2 312.0,431.2 310.0,431.2 308.0,431.1 306.0,431.1 304.0,431.1 302.0,431.1 300.0,431.1 298.0,431.1 296.0,431.1 294.0,431.1 292.0,431.1 290.0,431.0 288.0,431.0 286.0,431.0 284.0,431.0 282.0,431.0 280.0,431.0 278.0,431.0 276.0,431.0 274.0,431.0 272.0,430.9 270.0,430.9 268.0,430.9 266.0,430.9 264.0,430.9 262.0,430.8 260.0,430.7 258.0,430.7 256.0,430.6 254.0,430.5 252.0,430.5 250.0,430.4 248.0,430.3 246.0,430.2 244.0,430.2 242.0,430.1 240.0,430.0 238.0,430.0 236.0,429.9 234.0,429.9 232.0,429.9 230.0,429.9 228.0,429.9 226.0,429.9 224.0,429.9 222.0,429.9 220.0,429.9 218.0,429.9 216.0,429.9 214.0,429.9 212.0,429.9 210.0,429.9 208.0,429.9 206.0,429.9 204.0,429.9 202.0,429.9 200.0,429.9 Z" fill="url(#hg15)" opacity="1.0" filter="url(#bf21)"/></g>
<defs><linearGradient id="hg16" gradientUnits="userSpaceOnUse" x1="200" y1="0" x2="390" y2="0"><stop offset="0.3474" stop-color="#ffffff" stop-opacity="0"/><stop offset="0.4474" stop-color="#ffffff" stop-opacity="0.9"/><stop offset="0.5263" stop-color="#ffffff" stop-opacity="1.0"/><stop offset="1.0000" stop-color="#ffffff" stop-opacity="1.0"/></linearGradient></defs>
<defs><filter id="bf22" filterUnits="userSpaceOnUse" x="150" y="-60" width="300" height="600"><feGaussianBlur stdDeviation="2.0"/></filter></defs>
<g><path d="M200.0,481.8 202.0,481.8 204.0,481.8 206.0,481.8 208.0,481.8 210.0,481.8 212.0,481.8 214.0,481.8 216.0,481.8 218.0,481.8 220.0,481.8 222.0,481.8 224.0,481.8 226.0,481.8 228.0,481.8 230.0,481.8 232.0,481.8 234.0,481.8 236.0,481.8 238.0,481.8 240.0,481.8 242.0,481.8 244.0,481.8 246.0,481.8 248.0,481.8 250.0,481.8 252.0,481.8 254.0,481.8 256.0,481.8 258.0,481.8 260.0,481.8 262.0,481.8 264.0,481.8 266.0,481.8 268.0,480.9 270.0,480.0 272.0,479.1 274.0,478.3 276.0,477.4 278.0,476.5 280.0,475.6 282.0,475.1 284.0,474.6 286.0,474.0 288.0,473.5 290.0,473.0 292.0,472.5 294.0,472.0 296.0,471.4 298.0,470.9 300.0,470.4 302.0,470.0 304.0,469.7 306.0,469.3 308.0,469.0 310.0,468.6 312.0,468.2 314.0,467.9 316.0,467.5 318.0,467.2 320.0,466.8 322.0,466.4 324.0,466.1 326.0,465.7 328.0,465.4 330.0,465.0 332.0,464.7 334.0,464.4 336.0,464.1 338.0,463.8 340.0,463.5 342.0,463.2 344.0,462.9 346.0,462.6 348.0,462.3 350.0,462.0 352.0,461.7 354.0,461.4 356.0,461.1 358.0,460.8 360.0,460.5 362.0,460.2 364.0,459.9 366.0,459.6 368.0,459.3 370.0,459.0 372.0,458.8 374.0,458.5 376.0,458.2 378.0,457.9 380.0,457.7 382.0,457.4 384.0,457.1 386.0,456.8 388.0,456.6 390.0,456.3 L390.0,460.7 388.0,461.0 386.0,461.2 384.0,461.5 382.0,461.8 380.0,462.1 378.0,462.3 376.0,462.6 374.0,462.9 372.0,463.2 370.0,463.4 368.0,463.7 366.0,464.0 364.0,464.3 362.0,464.6 360.0,464.9 358.0,465.2 356.0,465.5 354.0,465.8 352.0,466.1 350.0,466.4 348.0,466.7 346.0,467.0 344.0,467.3 342.0,467.6 340.0,467.9 338.0,468.2 336.0,468.5 334.0,468.8 332.0,469.1 330.0,469.4 328.0,469.8 326.0,470.1 324.0,470.5 322.0,470.8 320.0,471.2 318.0,471.6 316.0,471.9 314.0,472.3 312.0,472.6 310.0,473.0 308.0,473.4 306.0,473.7 304.0,474.1 302.0,474.4 300.0,474.8 298.0,475.3 296.0,475.8 294.0,476.4 292.0,476.9 290.0,477.4 288.0,477.9 286.0,478.4 284.0,479.0 282.0,479.5 280.0,480.0 278.0,480.9 276.0,481.8 274.0,482.7 272.0,483.5 270.0,484.4 268.0,485.3 266.0,486.2 264.0,486.2 262.0,486.2 260.0,486.2 258.0,486.2 256.0,486.2 254.0,486.2 252.0,486.2 250.0,486.2 248.0,486.2 246.0,486.2 244.0,486.2 242.0,486.2 240.0,486.2 238.0,486.2 236.0,486.2 234.0,486.2 232.0,486.2 230.0,486.2 228.0,486.2 226.0,486.2 224.0,486.2 222.0,486.2 220.0,486.2 218.0,486.2 216.0,486.2 214.0,486.2 212.0,486.2 210.0,486.2 208.0,486.2 206.0,486.2 204.0,486.2 202.0,486.2 200.0,486.2 Z" fill="url(#hg16)" opacity="1.0" filter="url(#bf22)"/></g>
<defs><filter id="bf23" filterUnits="userSpaceOnUse" x="150" y="-60" width="300" height="600"><feGaussianBlur stdDeviation="4"/></filter></defs>
<g><path d="M200.0,479.0 202.0,479.0 204.0,479.0 206.0,479.0 208.0,479.0 210.0,479.0 212.0,479.0 214.0,479.0 216.0,479.0 218.0,479.0 220.0,479.0 222.0,479.0 224.0,479.0 226.0,479.0 228.0,479.0 230.0,479.0 232.0,479.0 234.0,479.0 236.0,479.0 238.0,479.0 240.0,479.0 242.0,479.0 244.0,479.0 246.0,479.0 248.0,479.0 250.0,479.0 252.0,479.0 254.0,479.0 256.0,479.0 258.0,479.0 260.0,479.0 262.0,479.0 264.0,479.0 266.0,479.0 268.0,478.1 270.0,477.2 272.0,476.3 274.0,475.5 276.0,474.6 278.0,473.7 280.0,472.8 282.0,472.3 284.0,471.8 286.0,471.2 288.0,470.7 290.0,470.2 292.0,469.7 294.0,469.2 296.0,468.6 298.0,468.1 300.0,467.6 302.0,467.2 304.0,466.9 306.0,466.5 308.0,466.2 310.0,465.8 312.0,465.4 314.0,465.1 316.0,464.7 318.0,464.4 320.0,464.0 322.0,463.6 324.0,463.3 326.0,462.9 328.0,462.6 330.0,462.2 332.0,461.9 334.0,461.6 336.0,461.3 338.0,461.0 340.0,460.7 342.0,460.4 344.0,460.1 346.0,459.8 348.0,459.5 350.0,459.2 352.0,458.9 354.0,458.6 356.0,458.3 358.0,458.0 360.0,457.7 362.0,457.4 364.0,457.1 366.0,456.8 368.0,456.5 370.0,456.2 372.0,456.0 374.0,455.7 376.0,455.4 378.0,455.1 380.0,454.9 382.0,454.6 384.0,454.3 386.0,454.0 388.0,453.8 390.0,453.5 L390.0,463.5 388.0,463.8 386.0,464.0 384.0,464.3 382.0,464.6 380.0,464.9 378.0,465.1 376.0,465.4 374.0,465.7 372.0,466.0 370.0,466.2 368.0,466.5 366.0,466.8 364.0,467.1 362.0,467.4 360.0,467.7 358.0,468.0 356.0,468.3 354.0,468.6 352.0,468.9 350.0,469.2 348.0,469.5 346.0,469.8 344.0,470.1 342.0,470.4 340.0,470.7 338.0,471.0 336.0,471.3 334.0,471.6 332.0,471.9 330.0,472.2 328.0,472.6 326.0,472.9 324.0,473.3 322.0,473.6 320.0,474.0 318.0,474.4 316.0,474.7 314.0,475.1 312.0,475.4 310.0,475.8 308.0,476.2 306.0,476.5 304.0,476.9 302.0,477.2 300.0,477.6 298.0,478.1 296.0,478.6 294.0,479.2 292.0,479.7 290.0,480.2 288.0,480.7 286.0,481.2 284.0,481.8 282.0,482.3 280.0,482.8 278.0,483.7 276.0,484.6 274.0,485.5 272.0,486.3 270.0,487.2 268.0,488.1 266.0,489.0 264.0,489.0 262.0,489.0 260.0,489.0 258.0,489.0 256.0,489.0 254.0,489.0 252.0,489.0 250.0,489.0 248.0,489.0 246.0,489.0 244.0,489.0 242.0,489.0 240.0,489.0 238.0,489.0 236.0,489.0 234.0,489.0 232.0,489.0 230.0,489.0 228.0,489.0 226.0,489.0 224.0,489.0 222.0,489.0 220.0,489.0 218.0,489.0 216.0,489.0 214.0,489.0 212.0,489.0 210.0,489.0 208.0,489.0 206.0,489.0 204.0,489.0 202.0,489.0 200.0,489.0 Z" fill="url(#hg16)" opacity="0.3" filter="url(#bf23)"/></g>
</g>
<g clip-path="url(#clipB)"><line x1="225.13" y1="1.9" x2="219.89" y2="212.6" stroke="#fff" stroke-width="1.1" opacity="0.32"/></g>
<g clip-path="url(#clipD)"><line x1="225.13" y1="265.5" x2="219.89" y2="476.2" stroke="#fff" stroke-width="1.4" opacity="0.95"/></g>
<g clip-path="url(#clipD)"><line x1="220.6" y1="405" x2="219.85" y2="476" stroke="#ff2020" stroke-width="0.8" opacity="0.45"/></g>
<g clip-path="url(#clipB)"><line x1="223.8" y1="43" x2="223.55" y2="75" stroke="#ff3030" stroke-width="0.9" opacity="0.4"/></g>
<line x1="65.00" y1="40.70" x2="216.50" y2="40.70" stroke="#1a1a1a" stroke-width="1.4" stroke-dasharray="6.2 2.1 1.5 2.1" stroke-dashoffset="9.4" opacity="1.0"/>
<line x1="65.00" y1="137.50" x2="216.50" y2="137.50" stroke="#1a1a1a" stroke-width="1.4" stroke-dasharray="6.2 2.1 1.5 2.1" stroke-dashoffset="9.4" opacity="1.0"/>
<line x1="65.00" y1="164.50" x2="216.50" y2="164.50" stroke="#1a1a1a" stroke-width="1.4" stroke-dasharray="6.2 2.1 1.5 2.1" stroke-dashoffset="9.4" opacity="1.0"/>
<line x1="216.50" y1="40.90" x2="368.00" y2="40.90" stroke="#ffffff" stroke-width="1.4" stroke-dasharray="6.2 2.0 1.8 2.0" stroke-dashoffset="9.3" opacity="1.0"/>
<line x1="216.50" y1="137.50" x2="368.00" y2="137.50" stroke="#ffffff" stroke-width="1.4" stroke-dasharray="6.2 2.0 1.8 2.0" stroke-dashoffset="9.3" opacity="1.0"/>
<line x1="216.50" y1="164.50" x2="368.00" y2="164.50" stroke="#ffffff" stroke-width="1.4" stroke-dasharray="6.2 2.0 1.8 2.0" stroke-dashoffset="9.3" opacity="1.0"/>
<line x1="65.00" y1="49.60" x2="368.00" y2="49.60" stroke="#2aae5c" stroke-width="1.3" stroke-dasharray="4.1 2.94" stroke-dashoffset="1"/>
<line x1="65.00" y1="126.30" x2="368.00" y2="126.30" stroke="#2aae5c" stroke-width="1.3" stroke-dasharray="4.1 2.94" stroke-dashoffset="1"/>
<line x1="65.00" y1="304.20" x2="216.50" y2="304.20" stroke="#333333" stroke-width="1.4" stroke-dasharray="6.2 2.1 1.4 2.1" stroke-dashoffset="4.7" opacity="1.0"/>
<line x1="65.00" y1="400.80" x2="216.50" y2="400.80" stroke="#333333" stroke-width="1.4" stroke-dasharray="6.2 2.1 1.4 2.1" stroke-dashoffset="4.7" opacity="1.0"/>
<line x1="65.00" y1="428.30" x2="216.50" y2="428.30" stroke="#333333" stroke-width="1.4" stroke-dasharray="6.2 2.1 1.4 2.1" stroke-dashoffset="4.7" opacity="1.0"/>
<line x1="216.50" y1="304.30" x2="368.00" y2="304.30" stroke="#ffffff" stroke-width="1.4" stroke-dasharray="6.2 2.0 1.8 2.0" stroke-dashoffset="4.1" opacity="0.9"/>
<line x1="216.50" y1="401.00" x2="368.00" y2="401.00" stroke="#ffffff" stroke-width="1.4" stroke-dasharray="6.2 2.0 1.8 2.0" stroke-dashoffset="4.1" opacity="0.9"/>
<line x1="216.50" y1="428.60" x2="368.00" y2="428.60" stroke="#ffffff" stroke-width="1.4" stroke-dasharray="6.2 2.0 1.8 2.0" stroke-dashoffset="4.1" opacity="0.9"/>
<line x1="65.00" y1="314.30" x2="368.00" y2="314.30" stroke="#2aae5c" stroke-width="1.3" stroke-dasharray="4.1 2.94" stroke-dashoffset="1"/>
<line x1="65.00" y1="388.20" x2="368.00" y2="388.20" stroke="#2aae5c" stroke-width="1.3" stroke-dasharray="4.1 2.94" stroke-dashoffset="1"/>
<defs><clipPath id="clipA"><rect x="65" y="1.9" width="151.5" height="210.7"/></clipPath><clipPath id="clipC"><rect x="65" y="265.5" width="151.5" height="210.7"/></clipPath></defs>
<g clip-path="url(#clipA)">
<path d="M77.0,1.9 76.9,2.3 76.8,2.7 76.7,3.1 76.6,3.5 76.5,3.9 76.4,4.3 76.3,4.7 76.2,5.1 76.1,5.5 76.0,5.9 75.9,6.3 75.8,6.7 75.7,7.1 75.6,7.5 75.5,7.9 75.4,8.3 75.3,8.7 75.2,9.1 75.1,9.5 75.0,9.9 74.9,10.3 74.7,10.7 74.6,11.1 74.5,11.5 74.4,11.9 74.3,12.3 74.2,12.7 74.1,13.1 73.9,13.5 73.8,13.9 73.7,14.3 73.6,14.7 73.5,15.1 73.4,15.5 73.2,15.9 73.1,16.3 73.0,16.7 72.8,17.1 72.7,17.5 72.6,17.9 72.5,18.3 72.3,18.7 72.2,19.1 72.1,19.5 71.9,19.9 71.8,20.3 71.6,20.7 71.5,21.1 71.4,21.5 71.2,21.9 71.1,22.3 71.0,22.7 70.8,23.1 70.7,23.5 70.6,23.9 70.4,24.3 70.3,24.7 70.2,25.1 70.0,25.5 69.9,25.9 69.8,26.3 69.6,26.7 69.5,27.1 69.4,27.5 69.3,27.9 69.1,28.3 69.0,28.7 68.9,29.1 68.7,29.5 68.6,29.9 68.5,30.3 68.4,30.7 68.2,31.1 68.1,31.5 68.0,31.9 67.9,32.3 67.8,32.7 67.7,33.1 67.6,33.5 67.5,33.9 67.4,34.3 67.3,34.7 67.2,35.1 67.2,35.5 67.1,35.9 67.1,36.3 67.0,36.7 67.0,37.1 67.0,37.5 67.0,37.9 67.0,38.3 67.0,38.7 67.0,39.1 67.0,39.5 67.0,39.9 67.1,40.3 67.2,40.7 67.3,41.1 67.4,41.5 67.6,41.9 67.8,42.3 68.0,42.7 68.2,43.1 68.4,43.5 68.6,43.9 68.9,44.3 69.1,44.7 69.3,45.1 69.6,45.5 69.8,45.9 70.2,46.3 70.6,46.7 71.1,47.1 71.7,47.5 72.3,47.9 72.9,48.3 73.5,48.7 74.1,49.1 74.9,49.5 75.7,49.9 76.6,50.3 77.7,50.7 78.9,51.1 80.1,51.5 81.6,51.9 84.0,52.3 87.1,52.7 90.0,53.1 92.0,53.5 93.6,53.9 95.0,54.3 96.3,54.7 97.6,55.1 99.0,55.5 100.6,55.9 102.4,56.3 104.4,56.7 106.5,57.1 108.6,57.5 110.5,57.9 112.3,58.3 113.9,58.7 115.5,59.1 117.1,59.5 118.8,59.9 120.6,60.3 122.4,60.7 124.4,61.1 126.3,61.5 128.1,61.9 129.8,62.3 131.4,62.7 133.0,63.1 134.5,63.5 135.7,63.9 136.8,64.3 137.9,64.7 138.9,65.1 139.8,65.5 140.7,65.9 141.5,66.3 142.3,66.7 143.0,67.1 143.7,67.5 144.3,67.9 144.8,68.3 145.0,68.7 145.1,69.1 144.9,69.5 144.5,69.9 144.1,70.3 143.5,70.7 142.8,71.1 142.1,71.5 141.2,71.9 140.0,72.3 138.7,72.7 137.3,73.1 136.0,73.5 134.7,73.9 133.7,74.3 132.9,74.7 132.2,75.1 131.5,75.5 130.8,75.9 130.1,76.3 129.5,76.7 128.9,77.1 128.3,77.5 127.8,77.9 127.2,78.3 126.6,78.7 126.0,79.1 125.5,79.5 124.9,79.9 124.3,80.3 123.7,80.7 123.1,81.1 122.5,81.5 122.0,81.9 121.4,82.3 120.8,82.7 120.3,83.1 119.8,83.5 119.3,83.9 118.8,84.3 118.4,84.7 117.9,85.1 117.5,85.5 117.1,85.9 116.6,86.3 116.2,86.7 115.8,87.1 115.5,87.5 115.1,87.9 114.7,88.3 114.4,88.7 114.1,89.1 113.8,89.5 113.4,89.9 113.1,90.3 112.8,90.7 112.5,91.1 112.2,91.5 111.9,91.9 111.7,92.3 111.4,92.7 111.1,93.1 110.8,93.5 110.6,93.9 110.3,94.3 110.0,94.7 109.8,95.1 109.5,95.5 109.3,95.9 109.0,96.3 108.8,96.7 108.5,97.1 108.3,97.5 108.0,97.9 107.8,98.3 107.5,98.7 107.3,99.1 107.0,99.5 106.8,99.9 106.6,100.3 106.4,100.7 106.2,101.1 106.0,101.5 105.8,101.9 105.6,102.3 105.4,102.7 105.3,103.1 105.2,103.5 105.0,103.9 104.9,104.3 104.8,104.7 104.7,105.1 104.6,105.5 104.4,105.9 104.3,106.3 104.2,106.7 104.1,107.1 104.0,107.5 103.9,107.9 103.8,108.3 103.7,108.7 103.6,109.1 103.5,109.5 103.4,109.9 103.3,110.3 103.2,110.7 103.1,111.1 103.0,111.5 102.9,111.9 102.8,112.3 102.7,112.7 102.6,113.1 102.5,113.5 102.4,113.9 102.3,114.3 102.2,114.7 102.1,115.1 102.0,115.5 101.9,115.9 101.8,116.3 101.7,116.7 101.6,117.1 101.5,117.5 101.4,117.9 101.3,118.3 101.2,118.7 101.1,119.1 101.0,119.5 100.9,119.9 100.8,120.3 100.7,120.7 100.6,121.1 100.5,121.5 100.4,121.9 100.3,122.3 100.2,122.7 100.1,123.1 99.9,123.5 99.8,123.9 99.7,124.3 99.6,124.7 99.5,125.1 99.4,125.5 99.3,125.9 99.2,126.3 99.1,126.7 99.0,127.1 98.9,127.5 98.8,127.9 98.7,128.3 98.6,128.7 98.5,129.1 98.4,129.5 98.3,129.9 98.2,130.3 98.1,130.7 98.0,131.1 97.9,131.5 97.8,131.9 97.7,132.3 97.6,132.7 97.5,133.1 97.4,133.5 97.3,133.9 97.2,134.3 97.1,134.7 96.9,135.1 96.8,135.5 96.7,135.9 96.6,136.3 96.4,136.7 96.3,137.1 96.2,137.5 96.0,137.9 95.8,138.3 95.7,138.7 95.5,139.1 95.3,139.5 95.1,139.9 94.9,140.3 94.6,140.7 94.4,141.1 94.2,141.5 94.0,141.9 93.8,142.3 93.6,142.7 93.4,143.1 93.2,143.5 93.0,143.9 92.9,144.3 92.7,144.7 92.5,145.1 92.3,145.5 92.2,145.9 92.0,146.3 91.8,146.7 91.6,147.1 91.4,147.5 91.2,147.9 91.0,148.3 90.8,148.7 90.5,149.1 90.2,149.5 89.9,149.9 89.5,150.3 89.1,150.7 88.7,151.1 88.2,151.5 87.8,151.9 87.3,152.3 86.7,152.7 86.2,153.1 85.7,153.5 85.1,153.9 84.4,154.3 83.7,154.7 83.0,155.1 82.2,155.5 81.4,155.9 80.7,156.3 79.9,156.7 79.1,157.1 78.3,157.5 77.5,157.9 76.7,158.3 75.9,158.7 75.1,159.1 74.2,159.5 73.5,159.9 72.7,160.3 72.0,160.7 71.3,161.1 70.6,161.5 69.9,161.9 69.3,162.3 68.6,162.7 67.9,163.1 67.2,163.5 66.7,163.9 66.5,164.3 71.8,164.7 82.1,165.1 89.9,165.5 97.8,165.9 107.4,166.3 118.0,166.7 127.0,167.1 134.4,167.5 140.9,167.9 146.3,168.3 151.7,168.7 155.5,169.1 155.7,169.5 154.1,169.9 151.9,170.3 149.4,170.7 146.7,171.1 143.8,171.5 141.2,171.9 138.9,172.3 136.9,172.7 135.1,173.1 133.3,173.5 131.4,173.9 129.5,174.3 127.4,174.7 125.2,175.1 123.1,175.5 121.2,175.9 119.6,176.3 118.3,176.7 117.2,177.1 116.2,177.5 115.4,177.9 114.6,178.3 113.9,178.7 113.3,179.1 112.8,179.5 112.3,179.9 111.8,180.3 111.4,180.7 111.0,181.1 110.6,181.5 110.3,181.9 110.0,182.3 109.7,182.7 109.4,183.1 109.1,183.5 108.9,183.9 108.6,184.3 108.4,184.7 108.2,185.1 107.9,185.5 107.7,185.9 107.5,186.3 107.3,186.7 107.1,187.1 106.9,187.5 106.7,187.9 106.5,188.3 106.3,188.7 106.2,189.1 106.0,189.5 105.8,189.9 105.7,190.3 105.5,190.7 105.4,191.1 105.2,191.5 105.1,191.9 105.0,192.3 104.8,192.7 104.7,193.1 104.6,193.5 104.4,193.9 104.3,194.3 104.2,194.7 104.1,195.1 104.0,195.5 103.9,195.9 103.8,196.3 103.8,196.7 103.7,197.1 103.6,197.5 103.5,197.9 103.4,198.3 103.4,198.7 103.3,199.1 103.2,199.5 103.1,199.9 103.0,200.3 103.0,200.7 102.9,201.1 102.8,201.5 102.8,201.9 102.7,202.3 102.6,202.7 102.6,203.1 102.5,203.5 102.5,203.9 102.4,204.3 102.3,204.7 102.3,205.1 102.2,205.5 102.2,205.9 102.2,206.3 102.1,206.7 102.1,207.1 102.0,207.5 102.0,207.9 101.9,208.3 101.9,208.7 101.9,209.1 101.8,209.5 101.8,209.9 101.7,210.3 101.7,210.7 101.7,211.1 101.7,211.5 101.6,211.9 101.6,212.3 101.6,212.6" fill="none" stroke="#ff8000" stroke-width="1.4" stroke-linejoin="round" stroke-linecap="round" />
<defs><rect id="mksq" x="-1.2" y="-1.2" width="2.4" height="2.4"/></defs>
<g fill="#fff" stroke="#ff8000" stroke-width="1.05"><use href="#mksq" x="77.0" y="1.9"/><use href="#mksq" x="76.8" y="2.6"/><use href="#mksq" x="76.7" y="3.3"/><use href="#mksq" x="76.5" y="4.0"/><use href="#mksq" x="76.3" y="4.7"/><use href="#mksq" x="76.2" y="5.4"/><use href="#mksq" x="76.0" y="6.1"/><use href="#mksq" x="75.8" y="6.8"/><use href="#mksq" x="75.6" y="7.5"/><use href="#mksq" x="75.4" y="8.2"/><use href="#mksq" x="75.2" y="8.9"/><use href="#mksq" x="75.0" y="9.6"/><use href="#mksq" x="74.9" y="10.3"/><use href="#mksq" x="74.7" y="11.0"/><use href="#mksq" x="74.5" y="11.7"/><use href="#mksq" x="74.3" y="12.4"/><use href="#mksq" x="74.1" y="13.1"/><use href="#mksq" x="73.9" y="13.8"/><use href="#mksq" x="73.6" y="14.5"/><use href="#mksq" x="73.4" y="15.2"/><use href="#mksq" x="73.2" y="15.9"/><use href="#mksq" x="73.0" y="16.6"/><use href="#mksq" x="72.8" y="17.3"/><use href="#mksq" x="72.6" y="18.0"/><use href="#mksq" x="72.3" y="18.7"/><use href="#mksq" x="72.1" y="19.4"/><use href="#mksq" x="71.8" y="20.1"/><use href="#mksq" x="71.6" y="20.8"/><use href="#mksq" x="71.4" y="21.5"/><use href="#mksq" x="71.1" y="22.2"/><use href="#mksq" x="70.9" y="22.9"/><use href="#mksq" x="70.7" y="23.6"/><use href="#mksq" x="70.4" y="24.3"/><use href="#mksq" x="70.2" y="25.0"/><use href="#mksq" x="70.0" y="25.7"/><use href="#mksq" x="69.7" y="26.4"/><use href="#mksq" x="69.5" y="27.1"/><use href="#mksq" x="69.3" y="27.8"/><use href="#mksq" x="69.1" y="28.5"/><use href="#mksq" x="68.8" y="29.2"/><use href="#mksq" x="68.6" y="29.9"/><use href="#mksq" x="68.4" y="30.6"/><use href="#mksq" x="68.2" y="31.3"/><use href="#mksq" x="68.0" y="32.0"/><use href="#mksq" x="67.8" y="32.7"/><use href="#mksq" x="67.6" y="33.4"/><use href="#mksq" x="67.4" y="34.1"/><use href="#mksq" x="67.3" y="34.8"/><use href="#mksq" x="67.2" y="35.5"/><use href="#mksq" x="67.1" y="36.2"/><use href="#mksq" x="67.0" y="36.9"/><use href="#mksq" x="67.0" y="37.6"/><use href="#mksq" x="67.0" y="38.3"/><use href="#mksq" x="67.0" y="39.0"/><use href="#mksq" x="67.0" y="39.7"/><use href="#mksq" x="67.1" y="40.4"/><use href="#mksq" x="67.3" y="41.1"/><use href="#mksq" x="67.5" y="41.8"/><use href="#mksq" x="67.9" y="42.5"/><use href="#mksq" x="68.2" y="43.2"/><use href="#mksq" x="68.6" y="43.9"/><use href="#mksq" x="69.0" y="44.6"/><use href="#mksq" x="69.5" y="45.3"/><use href="#mksq" x="69.9" y="46.0"/><use href="#mksq" x="70.6" y="46.7"/><use href="#mksq" x="71.6" y="47.4"/><use href="#mksq" x="72.6" y="48.1"/><use href="#mksq" x="73.6" y="48.8"/><use href="#mksq" x="74.9" y="49.5"/><use href="#mksq" x="76.4" y="50.2"/><use href="#mksq" x="78.3" y="50.9"/><use href="#mksq" x="80.5" y="51.6"/><use href="#mksq" x="84.0" y="52.3"/><use href="#mksq" x="89.3" y="53.0"/><use href="#mksq" x="92.9" y="53.7"/><use href="#mksq" x="95.4" y="54.4"/><use href="#mksq" x="97.6" y="55.1"/><use href="#mksq" x="100.1" y="55.8"/><use href="#mksq" x="103.4" y="56.5"/><use href="#mksq" x="107.0" y="57.2"/><use href="#mksq" x="110.5" y="57.9"/><use href="#mksq" x="113.5" y="58.6"/><use href="#mksq" x="116.3" y="59.3"/><use href="#mksq" x="119.2" y="60.0"/><use href="#mksq" x="122.4" y="60.7"/><use href="#mksq" x="125.8" y="61.4"/><use href="#mksq" x="128.9" y="62.1"/><use href="#mksq" x="131.8" y="62.8"/><use href="#mksq" x="134.5" y="63.5"/><use href="#mksq" x="136.5" y="64.2"/><use href="#mksq" x="138.4" y="64.9"/><use href="#mksq" x="140.1" y="65.6"/><use href="#mksq" x="141.5" y="66.3"/><use href="#mksq" x="142.8" y="67.0"/><use href="#mksq" x="144.1" y="67.7"/><use href="#mksq" x="144.9" y="68.4"/><use href="#mksq" x="145.1" y="69.1"/><use href="#mksq" x="144.6" y="69.8"/><use href="#mksq" x="143.8" y="70.5"/><use href="#mksq" x="142.6" y="71.2"/><use href="#mksq" x="141.2" y="71.9"/><use href="#mksq" x="139.1" y="72.6"/><use href="#mksq" x="136.6" y="73.3"/><use href="#mksq" x="134.5" y="74.0"/><use href="#mksq" x="132.9" y="74.7"/><use href="#mksq" x="131.6" y="75.4"/><use href="#mksq" x="130.5" y="76.1"/><use href="#mksq" x="129.4" y="76.8"/><use href="#mksq" x="128.3" y="77.5"/><use href="#mksq" x="127.3" y="78.2"/><use href="#mksq" x="126.3" y="78.9"/><use href="#mksq" x="125.3" y="79.6"/><use href="#mksq" x="124.3" y="80.3"/><use href="#mksq" x="123.3" y="81.0"/><use href="#mksq" x="122.2" y="81.7"/><use href="#mksq" x="121.3" y="82.4"/><use href="#mksq" x="120.3" y="83.1"/><use href="#mksq" x="119.4" y="83.8"/><use href="#mksq" x="118.6" y="84.5"/><use href="#mksq" x="117.8" y="85.2"/><use href="#mksq" x="117.1" y="85.9"/><use href="#mksq" x="116.3" y="86.6"/><use href="#mksq" x="115.6" y="87.3"/><use href="#mksq" x="115.0" y="88.0"/><use href="#mksq" x="114.4" y="88.7"/><use href="#mksq" x="113.8" y="89.4"/><use href="#mksq" x="113.3" y="90.1"/><use href="#mksq" x="112.7" y="90.8"/><use href="#mksq" x="112.2" y="91.5"/><use href="#mksq" x="111.7" y="92.2"/><use href="#mksq" x="111.2" y="92.9"/><use href="#mksq" x="110.8" y="93.6"/><use href="#mksq" x="110.3" y="94.3"/><use href="#mksq" x="109.8" y="95.0"/><use href="#mksq" x="109.4" y="95.7"/><use href="#mksq" x="109.0" y="96.4"/><use href="#mksq" x="108.5" y="97.1"/><use href="#mksq" x="108.1" y="97.8"/><use href="#mksq" x="107.6" y="98.5"/><use href="#mksq" x="107.2" y="99.2"/><use href="#mksq" x="106.8" y="99.9"/><use href="#mksq" x="106.4" y="100.6"/><use href="#mksq" x="106.1" y="101.3"/><use href="#mksq" x="105.7" y="102.0"/><use href="#mksq" x="105.4" y="102.7"/><use href="#mksq" x="105.2" y="103.4"/><use href="#mksq" x="105.0" y="104.1"/><use href="#mksq" x="104.8" y="104.8"/><use href="#mksq" x="104.6" y="105.5"/><use href="#mksq" x="104.4" y="106.2"/><use href="#mksq" x="104.2" y="106.9"/><use href="#mksq" x="104.0" y="107.6"/><use href="#mksq" x="103.8" y="108.3"/><use href="#mksq" x="103.7" y="109.0"/><use href="#mksq" x="103.5" y="109.7"/><use href="#mksq" x="103.3" y="110.4"/><use href="#mksq" x="103.1" y="111.1"/><use href="#mksq" x="102.9" y="111.8"/><use href="#mksq" x="102.8" y="112.5"/><use href="#mksq" x="102.6" y="113.2"/><use href="#mksq" x="102.4" y="113.9"/><use href="#mksq" x="102.2" y="114.6"/><use href="#mksq" x="102.0" y="115.3"/><use href="#mksq" x="101.9" y="116.0"/><use href="#mksq" x="101.7" y="116.7"/><use href="#mksq" x="101.5" y="117.4"/><use href="#mksq" x="101.3" y="118.1"/><use href="#mksq" x="101.1" y="118.8"/><use href="#mksq" x="101.0" y="119.5"/><use href="#mksq" x="100.8" y="120.2"/><use href="#mksq" x="100.6" y="120.9"/><use href="#mksq" x="100.4" y="121.6"/><use href="#mksq" x="100.3" y="122.3"/><use href="#mksq" x="100.1" y="123.0"/><use href="#mksq" x="99.9" y="123.7"/><use href="#mksq" x="99.7" y="124.4"/><use href="#mksq" x="99.5" y="125.1"/><use href="#mksq" x="99.4" y="125.8"/><use href="#mksq" x="99.2" y="126.5"/><use href="#mksq" x="99.0" y="127.2"/><use href="#mksq" x="98.8" y="127.9"/><use href="#mksq" x="98.6" y="128.6"/><use href="#mksq" x="98.5" y="129.3"/><use href="#mksq" x="98.3" y="130.0"/><use href="#mksq" x="98.1" y="130.7"/><use href="#mksq" x="98.0" y="131.4"/><use href="#mksq" x="97.8" y="132.1"/><use href="#mksq" x="97.6" y="132.8"/><use href="#mksq" x="97.4" y="133.5"/><use href="#mksq" x="97.2" y="134.2"/><use href="#mksq" x="97.0" y="134.9"/><use href="#mksq" x="96.8" y="135.6"/><use href="#mksq" x="96.6" y="136.3"/><use href="#mksq" x="96.3" y="137.0"/><use href="#mksq" x="96.1" y="137.7"/><use href="#mksq" x="95.8" y="138.4"/><use href="#mksq" x="95.5" y="139.1"/><use href="#mksq" x="95.1" y="139.8"/><use href="#mksq" x="94.8" y="140.5"/><use href="#mksq" x="94.4" y="141.2"/><use href="#mksq" x="94.0" y="141.9"/><use href="#mksq" x="93.6" y="142.6"/><use href="#mksq" x="93.3" y="143.3"/><use href="#mksq" x="93.0" y="144.0"/><use href="#mksq" x="92.7" y="144.7"/><use href="#mksq" x="92.4" y="145.4"/><use href="#mksq" x="92.1" y="146.1"/><use href="#mksq" x="91.7" y="146.8"/><use href="#mksq" x="91.4" y="147.5"/><use href="#mksq" x="91.0" y="148.2"/><use href="#mksq" x="90.6" y="148.9"/><use href="#mksq" x="90.1" y="149.6"/><use href="#mksq" x="89.5" y="150.3"/><use href="#mksq" x="88.8" y="151.0"/><use href="#mksq" x="88.0" y="151.7"/><use href="#mksq" x="87.1" y="152.4"/><use href="#mksq" x="86.2" y="153.1"/><use href="#mksq" x="85.2" y="153.8"/><use href="#mksq" x="84.1" y="154.5"/><use href="#mksq" x="82.8" y="155.2"/><use href="#mksq" x="81.4" y="155.9"/><use href="#mksq" x="80.1" y="156.6"/><use href="#mksq" x="78.7" y="157.3"/><use href="#mksq" x="77.3" y="158.0"/><use href="#mksq" x="75.9" y="158.7"/><use href="#mksq" x="74.4" y="159.4"/><use href="#mksq" x="73.1" y="160.1"/><use href="#mksq" x="71.8" y="160.8"/><use href="#mksq" x="70.6" y="161.5"/><use href="#mksq" x="69.4" y="162.2"/><use href="#mksq" x="68.3" y="162.9"/><use href="#mksq" x="67.1" y="163.6"/><use href="#mksq" x="66.5" y="164.3"/><use href="#mksq" x="80.0" y="165.0"/><use href="#mksq" x="93.7" y="165.7"/><use href="#mksq" x="110.1" y="166.4"/><use href="#mksq" x="127.0" y="167.1"/><use href="#mksq" x="139.4" y="167.8"/><use href="#mksq" x="149.0" y="168.5"/><use href="#mksq" x="155.9" y="169.2"/><use href="#mksq" x="154.1" y="169.9"/><use href="#mksq" x="150.0" y="170.6"/><use href="#mksq" x="145.3" y="171.3"/><use href="#mksq" x="140.6" y="172.0"/><use href="#mksq" x="136.9" y="172.7"/><use href="#mksq" x="133.7" y="173.4"/><use href="#mksq" x="130.5" y="174.1"/><use href="#mksq" x="126.9" y="174.8"/><use href="#mksq" x="123.1" y="175.5"/><use href="#mksq" x="120.0" y="176.2"/><use href="#mksq" x="117.7" y="176.9"/><use href="#mksq" x="116.0" y="177.6"/><use href="#mksq" x="114.6" y="178.3"/><use href="#mksq" x="113.4" y="179.0"/><use href="#mksq" x="112.5" y="179.7"/><use href="#mksq" x="111.7" y="180.4"/><use href="#mksq" x="111.0" y="181.1"/><use href="#mksq" x="110.4" y="181.8"/><use href="#mksq" x="109.8" y="182.5"/><use href="#mksq" x="109.3" y="183.2"/><use href="#mksq" x="108.9" y="183.9"/><use href="#mksq" x="108.4" y="184.6"/><use href="#mksq" x="108.1" y="185.3"/><use href="#mksq" x="107.7" y="186.0"/><use href="#mksq" x="107.3" y="186.7"/><use href="#mksq" x="107.0" y="187.4"/><use href="#mksq" x="106.6" y="188.1"/><use href="#mksq" x="106.3" y="188.8"/><use href="#mksq" x="106.0" y="189.5"/><use href="#mksq" x="105.7" y="190.2"/><use href="#mksq" x="105.5" y="190.9"/><use href="#mksq" x="105.2" y="191.6"/><use href="#mksq" x="105.0" y="192.3"/><use href="#mksq" x="104.7" y="193.0"/><use href="#mksq" x="104.5" y="193.7"/><use href="#mksq" x="104.3" y="194.4"/><use href="#mksq" x="104.1" y="195.1"/><use href="#mksq" x="104.0" y="195.8"/><use href="#mksq" x="103.8" y="196.5"/><use href="#mksq" x="103.7" y="197.2"/><use href="#mksq" x="103.5" y="197.9"/><use href="#mksq" x="103.4" y="198.6"/><use href="#mksq" x="103.2" y="199.3"/><use href="#mksq" x="103.1" y="200.0"/><use href="#mksq" x="103.0" y="200.7"/><use href="#mksq" x="102.8" y="201.4"/><use href="#mksq" x="102.7" y="202.1"/><use href="#mksq" x="102.6" y="202.8"/><use href="#mksq" x="102.5" y="203.5"/><use href="#mksq" x="102.4" y="204.2"/><use href="#mksq" x="102.3" y="204.9"/><use href="#mksq" x="102.2" y="205.6"/><use href="#mksq" x="102.2" y="206.3"/><use href="#mksq" x="102.1" y="207.0"/><use href="#mksq" x="102.0" y="207.7"/><use href="#mksq" x="101.9" y="208.4"/><use href="#mksq" x="101.9" y="209.1"/><use href="#mksq" x="101.8" y="209.8"/><use href="#mksq" x="101.7" y="210.5"/><use href="#mksq" x="101.7" y="211.2"/><use href="#mksq" x="101.6" y="211.9"/></g>
<path d="M78.0,1.9 78.0,2.2 77.9,2.5 77.9,2.8 77.9,3.1 77.8,3.4 77.8,3.7 77.7,4.0 77.7,4.3 77.7,4.6 77.6,4.9 77.6,5.2 77.5,5.5 77.4,5.8 77.4,6.1 77.3,6.4 77.3,6.7 77.2,7.0 77.2,7.3 77.1,7.6 77.0,7.9 77.0,8.2 76.9,8.5 76.8,8.8 76.8,9.1 76.7,9.4 76.6,9.7 76.6,10.0 76.5,10.3 76.4,10.6 76.4,10.9 76.3,11.2 76.2,11.5 76.1,11.8 76.1,12.1 76.0,12.4 75.9,12.7 75.9,13.0 75.8,13.3 75.7,13.6 75.7,13.9 75.6,14.2 75.5,14.5 75.4,14.8 75.4,15.1 75.3,15.4 75.2,15.7 75.1,16.0 75.0,16.3 75.0,16.6 74.9,16.9 74.8,17.2 74.6,17.5 74.5,17.8 74.4,18.1 74.3,18.4 74.2,18.7 74.1,19.0 74.0,19.3 73.8,19.6 73.7,19.9 73.6,20.2 73.5,20.5 73.4,20.8 73.3,21.1 73.2,21.4 73.0,21.7 72.9,22.0 72.8,22.3 72.7,22.6 72.6,22.9 72.6,23.2 72.5,23.5 72.4,23.8 72.3,24.1 72.3,24.4 72.3,24.7 72.3,25.0 72.4,25.3 72.6,25.6 72.7,25.9 72.9,26.2 73.1,26.5 73.4,26.8 73.6,27.1 73.9,27.4 74.2,27.7 74.4,28.0 74.7,28.3 74.9,28.6 75.1,28.9 75.3,29.2 75.4,29.5 75.5,29.8 75.6,30.1 75.6,30.4 75.5,30.7 75.2,31.0 74.8,31.3 74.3,31.6 73.7,31.9 73.1,32.2 72.4,32.5 71.7,32.8 71.0,33.1 70.4,33.4 69.6,33.7 68.6,34.0 67.6,34.3 66.6,34.6 65.8,34.9 65.4,35.2 65.5,35.5 65.6,35.8 65.9,36.1 66.3,36.4 66.7,36.7 67.1,37.0 67.6,37.3 68.0,37.6 68.4,37.9 68.7,38.2 69.1,38.5 69.4,38.8 69.7,39.1 70.1,39.4 70.4,39.7 70.7,40.0 71.1,40.3 71.5,40.6 71.9,40.9 72.3,41.2 72.8,41.5 73.3,41.8 73.9,42.1 74.5,42.4 75.2,42.7 76.0,43.0 76.7,43.3 77.5,43.6 78.3,43.9 79.2,44.2 80.2,44.5 81.3,44.8 82.6,45.1 84.0,45.4 85.4,45.7 86.9,46.0 88.3,46.3 89.8,46.6 91.3,46.9 92.9,47.2 94.7,47.5 96.7,47.8 98.8,48.1 101.1,48.4 104.3,48.7 108.3,49.0 112.6,49.3 117.1,49.6 122.1,49.9 127.4,50.2 132.7,50.5 137.6,50.8 142.2,51.1 146.8,51.4 151.0,51.7 155.0,52.0 158.7,52.3 162.2,52.6 165.6,52.9 168.9,53.2 172.0,53.5 175.0,53.8 178.0,54.1 181.0,54.4 183.8,54.7 186.5,55.0 188.7,55.3 190.6,55.6 192.3,55.9 193.9,56.2 195.4,56.5 196.6,56.8 197.5,57.1 198.0,57.4 197.9,57.7 197.5,58.0 196.8,58.3 195.8,58.6 194.7,58.9 193.4,59.2 192.0,59.5 190.5,59.8 188.8,60.1 187.0,60.4 185.1,60.7 183.1,61.0 181.2,61.3 179.4,61.6 177.6,61.9 175.7,62.2 173.9,62.5 172.0,62.8 170.2,63.1 168.4,63.4 166.6,63.7 164.8,64.0 163.1,64.3 161.4,64.6 159.7,64.9 158.0,65.2 156.3,65.5 154.6,65.8 152.9,66.1 151.4,66.4 150.0,66.7 148.8,67.0 147.6,67.3 146.5,67.6 145.5,67.9 144.5,68.2 143.4,68.5 142.4,68.8 141.3,69.1 140.2,69.4 139.1,69.7 138.1,70.0 137.0,70.3 136.0,70.6 135.1,70.9 134.3,71.2 133.5,71.5 132.8,71.8 132.2,72.1 131.5,72.4 130.9,72.7 130.3,73.0 129.7,73.3 129.2,73.6 128.6,73.9 128.1,74.2 127.6,74.5 127.1,74.8 126.6,75.1 126.1,75.4 125.6,75.7 125.2,76.0 124.7,76.3 124.3,76.6 123.9,76.9 123.4,77.2 123.0,77.5 122.6,77.8 122.1,78.1 121.7,78.4 121.3,78.7 120.8,79.0 120.4,79.3 120.0,79.6 119.6,79.9 119.2,80.2 118.9,80.5 118.5,80.8 118.2,81.1 117.8,81.4 117.5,81.7 117.2,82.0 116.9,82.3 116.6,82.6 116.3,82.9 116.1,83.2 115.8,83.5 115.5,83.8 115.3,84.1 115.0,84.4 114.7,84.7 114.5,85.0 114.3,85.3 114.0,85.6 113.8,85.9 113.6,86.2 113.3,86.5 113.1,86.8 112.9,87.1 112.7,87.4 112.6,87.7 112.4,88.0 112.2,88.3 112.0,88.6 111.9,88.9 111.7,89.2 111.5,89.5 111.4,89.8 111.2,90.1 111.0,90.4 110.9,90.7 110.7,91.0 110.6,91.3 110.4,91.6 110.3,91.9 110.1,92.2 110.0,92.5 109.8,92.8 109.7,93.1 109.5,93.4 109.4,93.7 109.3,94.0 109.1,94.3 109.0,94.6 108.8,94.9 108.7,95.2 108.6,95.5 108.4,95.8 108.3,96.1 108.1,96.4 108.0,96.7 107.8,97.0 107.7,97.3 107.6,97.6 107.4,97.9 107.3,98.2 107.1,98.5 107.0,98.8 106.9,99.1 106.7,99.4 106.6,99.7 106.5,100.0 106.3,100.3 106.2,100.6 106.1,100.9 105.9,101.2 105.8,101.5 105.7,101.8 105.6,102.1 105.4,102.4 105.3,102.7 105.2,103.0 105.1,103.3 105.0,103.6 104.9,103.9 104.8,104.2 104.7,104.5 104.6,104.8 104.5,105.1 104.4,105.4 104.3,105.7 104.2,106.0 104.1,106.3 104.0,106.6 103.9,106.9 103.8,107.2 103.8,107.5 103.7,107.8 103.6,108.1 103.5,108.4 103.4,108.7 103.3,109.0 103.3,109.3 103.2,109.6 103.1,109.9 103.0,110.2 103.0,110.5 102.9,110.8 102.8,111.1 102.7,111.4 102.6,111.7 102.6,112.0 102.5,112.3 102.4,112.6 102.3,112.9 102.3,113.2 102.2,113.5 102.1,113.8 102.0,114.1 102.0,114.4 101.9,114.7 101.8,115.0 101.8,115.3 101.7,115.6 101.6,115.9 101.5,116.2 101.5,116.5 101.4,116.8 101.3,117.1 101.3,117.4 101.2,117.7 101.1,118.0 101.0,118.3 101.0,118.6 100.9,118.9 100.8,119.2 100.8,119.5 100.7,119.8 100.6,120.1 100.5,120.4 100.5,120.7 100.4,121.0 100.3,121.3 100.3,121.6 100.2,121.9 100.1,122.2 100.0,122.5 100.0,122.8 99.9,123.1 99.8,123.4 99.8,123.7 99.7,124.0 99.6,124.3 99.5,124.6 99.5,124.9 99.4,125.2 99.3,125.5 99.2,125.8 99.2,126.1 99.1,126.4 99.0,126.7 99.0,127.0 98.9,127.3 98.8,127.6 98.7,127.9 98.7,128.2 98.6,128.5 98.5,128.8 98.4,129.1 98.4,129.4 98.3,129.7 98.2,130.0 98.1,130.3 98.1,130.6 98.0,130.9 97.9,131.2 97.8,131.5 97.8,131.8 97.7,132.1 97.6,132.4 97.5,132.7 97.5,133.0 97.4,133.3 97.3,133.6 97.2,133.9 97.2,134.2 97.1,134.5 97.0,134.8 96.9,135.1 96.8,135.4 96.8,135.7 96.7,136.0 96.6,136.3 96.5,136.6 96.5,136.9 96.4,137.2 96.3,137.5 96.2,137.8 96.1,138.1 96.1,138.4 96.0,138.7 95.9,139.0 95.8,139.3 95.7,139.6 95.6,139.9 95.6,140.2 95.5,140.5 95.4,140.8 95.3,141.1 95.2,141.4 95.1,141.7 95.0,142.0 94.9,142.3 94.8,142.6 94.7,142.9 94.6,143.2 94.5,143.5 94.4,143.8 94.3,144.1 94.2,144.4 94.1,144.7 94.0,145.0 93.9,145.3 93.8,145.6 93.6,145.9 93.5,146.2 93.4,146.5 93.2,146.8 93.1,147.1 93.0,147.4 92.8,147.7 92.7,148.0 92.5,148.3 92.4,148.6 92.2,148.9 92.1,149.2 91.9,149.5 91.7,149.8 91.4,150.1 91.2,150.4 90.9,150.7 90.7,151.0 90.4,151.3 90.1,151.6 89.8,151.9 89.4,152.2 89.1,152.5 88.8,152.8 88.4,153.1 88.1,153.4 87.7,153.7 87.4,154.0 86.9,154.3 86.5,154.6 86.0,154.9 85.5,155.2 85.0,155.5 84.5,155.8 83.9,156.1 83.4,156.4 82.8,156.7 82.3,157.0 81.7,157.3 81.1,157.6 80.5,157.9 79.9,158.2 79.2,158.5 78.5,158.8 77.8,159.1 77.1,159.4 76.4,159.7 75.7,160.0 75.0,160.3 74.3,160.6 73.5,160.9 72.8,161.2 72.0,161.5 71.2,161.8 70.4,162.1 69.6,162.4 68.9,162.7 68.1,163.0 67.3,163.3 66.7,163.6 66.5,163.9 68.3,164.2 84.5,164.5 100.0,164.8 115.2,165.1 129.1,165.4 142.0,165.7 153.9,166.0 165.2,166.3 175.0,166.6 184.0,166.9 190.2,167.2 188.8,167.5 181.0,167.8 171.0,168.1 160.0,168.4 151.3,168.7 143.7,169.0 138.5,169.3 134.5,169.6 131.1,169.9 128.0,170.2 124.9,170.5 122.1,170.8 120.0,171.1 118.6,171.4 117.4,171.7 116.3,172.0 115.3,172.3 114.5,172.6 113.8,172.9 113.0,173.2 112.3,173.5 111.7,173.8 111.0,174.1 110.5,174.4 110.0,174.7 109.6,175.0 109.2,175.3 108.8,175.6 108.4,175.9 108.1,176.2 107.8,176.5 107.5,176.8 107.2,177.1 107.0,177.4 106.7,177.7 106.5,178.0 106.3,178.3 106.1,178.6 105.8,178.9 105.6,179.2 105.4,179.5 105.3,179.8 105.1,180.1 105.0,180.4 104.8,180.7 104.7,181.0 104.5,181.3 104.4,181.6 104.2,181.9 104.1,182.2 103.9,182.5 103.8,182.8 103.7,183.1 103.5,183.4 103.4,183.7 103.3,184.0 103.2,184.3 103.0,184.6 102.9,184.9 102.8,185.2 102.7,185.5 102.6,185.8 102.5,186.1 102.4,186.4 102.3,186.7 102.2,187.0 102.1,187.3 102.0,187.6 101.9,187.9 101.8,188.2 101.7,188.5 101.6,188.8 101.5,189.1 101.4,189.4 101.3,189.7 101.3,190.0 101.2,190.3 101.1,190.6 101.0,190.9 100.9,191.2 100.8,191.5 100.8,191.8 100.7,192.1 100.6,192.4 100.5,192.7 100.5,193.0 100.4,193.3 100.3,193.6 100.3,193.9 100.2,194.2 100.2,194.5 100.1,194.8 100.1,195.1 100.0,195.4 100.0,195.7 100.0,196.0 99.9,196.3 99.9,196.6 99.9,196.9 99.8,197.2 99.8,197.5 99.8,197.8 99.7,198.1 99.7,198.4 99.7,198.7 99.6,199.0 99.6,199.3 99.6,199.6 99.5,199.9 99.5,200.2 99.5,200.5 99.5,200.8 99.4,201.1 99.4,201.4 99.4,201.7 99.4,202.0 99.3,202.3 99.3,202.6 99.3,202.9 99.3,203.2 99.2,203.5 99.2,203.8 99.2,204.1 99.2,204.4 99.1,204.7 99.1,205.0 99.1,205.3 99.1,205.6 99.0,205.9 99.0,206.2 99.0,206.5 99.0,206.8 99.0,207.1 98.9,207.4 98.9,207.7 98.9,208.0 98.9,208.3 98.9,208.6 98.8,208.9 98.8,209.2 98.8,209.5 98.8,209.8 98.7,210.1 98.7,210.4 98.7,210.7 98.7,211.0 98.7,211.3 98.7,211.6 98.6,211.9 98.6,212.2 98.6,212.5 98.6,212.6" fill="none" stroke="#000" stroke-width="1.3" stroke-linejoin="round" stroke-linecap="round" />
</g>
<g clip-path="url(#clipC)">
<path d="M83.0,265.5 82.8,265.9 82.5,266.3 82.3,266.7 82.0,267.1 81.8,267.5 81.6,267.9 81.3,268.3 81.1,268.7 80.9,269.1 80.7,269.5 80.4,269.9 80.2,270.3 80.0,270.7 79.8,271.1 79.6,271.5 79.4,271.9 79.2,272.3 79.0,272.7 78.8,273.1 78.6,273.5 78.4,273.9 78.3,274.3 78.1,274.7 77.9,275.1 77.8,275.5 77.7,275.9 77.5,276.3 77.4,276.7 77.2,277.1 77.1,277.5 77.0,277.9 76.8,278.3 76.7,278.7 76.6,279.1 76.4,279.5 76.3,279.9 76.2,280.3 76.1,280.7 76.0,281.1 75.8,281.5 75.7,281.9 75.6,282.3 75.5,282.7 75.4,283.1 75.3,283.5 75.1,283.9 75.0,284.3 74.9,284.7 74.8,285.1 74.7,285.5 74.6,285.9 74.5,286.3 74.4,286.7 74.3,287.1 74.2,287.5 74.1,287.9 73.9,288.3 73.8,288.7 73.7,289.1 73.6,289.5 73.5,289.9 73.4,290.3 73.3,290.7 73.2,291.1 73.1,291.5 73.0,291.9 72.9,292.3 72.8,292.7 72.7,293.1 72.6,293.5 72.5,293.9 72.4,294.3 72.3,294.7 72.2,295.1 72.1,295.5 72.1,295.9 72.0,296.3 71.9,296.7 71.8,297.1 71.8,297.5 71.7,297.9 71.7,298.3 71.7,298.7 71.6,299.1 71.6,299.5 71.6,299.9 71.6,300.3 71.5,300.7 71.5,301.1 71.5,301.5 71.5,301.9 71.5,302.3 71.6,302.7 71.6,303.1 71.8,303.5 71.9,303.9 72.1,304.3 72.2,304.7 72.4,305.1 72.6,305.5 72.9,305.9 73.1,306.3 73.3,306.7 73.7,307.1 74.2,307.5 74.8,307.9 75.5,308.3 76.3,308.7 77.1,309.1 77.9,309.5 78.7,309.9 79.5,310.3 80.4,310.7 81.5,311.1 82.6,311.5 83.8,311.9 85.0,312.3 86.3,312.7 87.7,313.1 89.3,313.5 91.1,313.9 93.1,314.3 95.2,314.7 97.3,315.1 99.6,315.5 102.1,315.9 104.7,316.3 107.4,316.7 110.1,317.1 112.6,317.5 115.0,317.9 117.3,318.3 119.6,318.7 121.7,319.1 123.7,319.5 125.4,319.9 126.7,320.3 127.8,320.7 128.7,321.1 129.5,321.5 130.1,321.9 130.6,322.3 131.0,322.7 131.4,323.1 131.6,323.5 131.5,323.9 131.2,324.3 130.7,324.7 129.9,325.1 129.1,325.5 128.2,325.9 127.3,326.3 126.3,326.7 125.3,327.1 124.3,327.5 123.2,327.9 122.3,328.3 121.3,328.7 120.3,329.1 119.4,329.5 118.4,329.9 117.5,330.3 116.6,330.7 115.8,331.1 115.0,331.5 114.2,331.9 113.4,332.3 112.7,332.7 112.0,333.1 111.3,333.5 110.7,333.9 110.0,334.3 109.4,334.7 108.8,335.1 108.1,335.5 107.5,335.9 106.9,336.3 106.3,336.7 105.7,337.1 105.1,337.5 104.6,337.9 104.0,338.3 103.4,338.7 102.8,339.1 102.3,339.5 101.7,339.9 101.2,340.3 100.7,340.7 100.1,341.1 99.6,341.5 99.1,341.9 98.6,342.3 98.1,342.7 97.6,343.1 97.1,343.5 96.6,343.9 96.1,344.3 95.6,344.7 95.1,345.1 94.6,345.5 94.1,345.9 93.7,346.3 93.2,346.7 92.8,347.1 92.4,347.5 92.0,347.9 91.7,348.3 91.4,348.7 91.1,349.1 90.8,349.5 90.5,349.9 90.3,350.3 90.1,350.7 89.8,351.1 89.6,351.5 89.4,351.9 89.2,352.3 89.0,352.7 88.8,353.1 88.6,353.5 88.5,353.9 88.3,354.3 88.1,354.7 88.0,355.1 87.8,355.5 87.7,355.9 87.5,356.3 87.4,356.7 87.3,357.1 87.1,357.5 87.0,357.9 86.9,358.3 86.7,358.7 86.6,359.1 86.5,359.5 86.3,359.9 86.2,360.3 86.0,360.7 85.8,361.1 85.6,361.5 85.5,361.9 85.3,362.3 85.1,362.7 84.9,363.1 84.7,363.5 84.5,363.9 84.3,364.3 84.1,364.7 83.9,365.1 83.7,365.5 83.5,365.9 83.3,366.3 83.1,366.7 83.0,367.1 82.8,367.5 82.6,367.9 82.5,368.3 82.3,368.7 82.1,369.1 82.0,369.5 81.8,369.9 81.7,370.3 81.5,370.7 81.4,371.1 81.3,371.5 81.1,371.9 81.0,372.3 80.9,372.7 80.7,373.1 80.6,373.5 80.5,373.9 80.4,374.3 80.3,374.7 80.3,375.1 80.2,375.5 80.1,375.9 80.1,376.3 80.1,376.7 80.0,377.1 80.0,377.5 80.0,377.9 80.0,378.3 80.0,378.7 80.1,379.1 80.2,379.5 80.4,379.9 80.6,380.3 80.8,380.7 81.1,381.1 81.4,381.5 81.7,381.9 82.0,382.3 82.5,382.7 83.0,383.1 83.6,383.5 84.3,383.9 84.9,384.3 85.6,384.7 86.3,385.1 87.0,385.5 87.7,385.9 88.4,386.3 89.2,386.7 90.0,387.1 90.8,387.5 91.6,387.9 92.4,388.3 93.2,388.7 94.0,389.1 94.8,389.5 95.6,389.9 96.4,390.3 97.2,390.7 98.0,391.1 98.8,391.5 99.5,391.9 100.3,392.3 101.0,392.7 101.7,393.1 102.3,393.5 103.0,393.9 103.6,394.3 104.1,394.7 104.7,395.1 105.2,395.5 105.8,395.9 106.2,396.3 106.7,396.7 107.2,397.1 107.6,397.5 108.0,397.9 108.3,398.3 108.6,398.7 108.6,399.1 108.5,399.5 108.1,399.9 107.5,400.3 106.9,400.7 106.1,401.1 104.9,401.5 103.4,401.9 101.8,402.3 100.4,402.7 99.1,403.1 97.7,403.5 96.4,403.9 95.0,404.3 93.7,404.7 92.4,405.1 91.1,405.5 89.8,405.9 88.6,406.3 87.4,406.7 86.2,407.1 85.0,407.5 83.8,407.9 82.6,408.3 81.4,408.7 80.3,409.1 79.3,409.5 78.3,409.9 77.3,410.3 76.5,410.7 75.8,411.1 75.2,411.5 74.7,411.9 74.2,412.3 73.7,412.7 73.3,413.1 73.0,413.5 72.7,413.9 72.5,414.3 72.3,414.7 72.2,415.1 72.1,415.5 72.1,415.9 72.3,416.3 72.6,416.7 73.1,417.1 73.6,417.5 74.3,417.9 75.1,418.3 76.0,418.7 77.3,419.1 78.9,419.5 80.7,419.9 82.5,420.3 84.3,420.7 85.9,421.1 87.8,421.5 89.7,421.9 91.5,422.3 92.9,422.7 93.6,423.1 93.3,423.5 91.1,423.9 88.0,424.3 85.1,424.7 82.7,425.1 80.3,425.5 78.0,425.9 75.9,426.3 74.1,426.7 73.0,427.1 72.5,427.5 72.5,427.9 73.0,428.3 75.4,428.7 79.4,429.1 84.2,429.5 89.5,429.9 99.7,430.3 114.2,430.7 135.6,431.1 150.9,431.5 162.7,431.9 172.3,432.3 181.1,432.7 184.1,433.1 180.8,433.5 176.1,433.9 171.9,434.3 167.9,434.7 164.2,435.1 160.8,435.5 157.6,435.9 154.6,436.3 152.0,436.7 149.5,437.1 147.2,437.5 145.0,437.9 143.0,438.3 141.0,438.7 139.1,439.1 137.3,439.5 135.7,439.9 134.3,440.3 133.0,440.7 131.8,441.1 130.7,441.5 129.8,441.9 128.9,442.3 128.1,442.7 127.3,443.1 126.6,443.5 126.0,443.9 125.3,444.3 124.7,444.7 124.1,445.1 123.5,445.5 122.9,445.9 122.4,446.3 121.9,446.7 121.4,447.1 120.9,447.5 120.4,447.9 120.0,448.3 119.5,448.7 119.1,449.1 118.7,449.5 118.3,449.9 117.9,450.3 117.5,450.7 117.1,451.1 116.7,451.5 116.4,451.9 116.0,452.3 115.6,452.7 115.2,453.1 114.9,453.5 114.5,453.9 114.2,454.3 113.8,454.7 113.5,455.1 113.2,455.5 112.9,455.9 112.6,456.3 112.4,456.7 112.1,457.1 111.9,457.5 111.6,457.9 111.4,458.3 111.2,458.7 111.0,459.1 110.8,459.5 110.6,459.9 110.5,460.3 110.4,460.7 110.3,461.1 110.2,461.5 110.1,461.9 110.1,462.3 110.0,462.7 110.0,463.1 109.9,463.5 109.9,463.9 109.9,464.3 109.8,464.7 109.8,465.1 109.8,465.5 109.8,465.9 109.8,466.3 109.8,466.7 109.9,467.1 109.9,467.5 110.0,467.9 110.0,468.3 110.1,468.7 110.2,469.1 110.3,469.5 110.4,469.9 110.5,470.3 110.6,470.7 110.7,471.1 110.8,471.5 110.9,471.9 111.2,472.3 111.7,472.7 112.3,473.1 113.1,473.5 113.8,473.9 114.6,474.3 115.7,474.7 117.0,475.1 118.4,475.5 119.9,475.9 121.0,476.2" fill="none" stroke="#8000ff" stroke-width="1.4" stroke-linejoin="round" stroke-linecap="round" />
<defs><circle id="mkci" r="1.25"/></defs>
<g fill="#fff" stroke="#8000ff" stroke-width="1.05"><use href="#mkci" x="83.0" y="265.5"/><use href="#mkci" x="82.7" y="266.1"/><use href="#mkci" x="82.3" y="266.6"/><use href="#mkci" x="82.0" y="267.2"/><use href="#mkci" x="81.7" y="267.7"/><use href="#mkci" x="81.4" y="268.3"/><use href="#mkci" x="81.1" y="268.8"/><use href="#mkci" x="80.7" y="269.4"/><use href="#mkci" x="80.4" y="269.9"/><use href="#mkci" x="80.1" y="270.5"/><use href="#mkci" x="79.8" y="271.0"/><use href="#mkci" x="79.6" y="271.6"/><use href="#mkci" x="79.3" y="272.1"/><use href="#mkci" x="79.0" y="272.7"/><use href="#mkci" x="78.8" y="273.2"/><use href="#mkci" x="78.5" y="273.8"/><use href="#mkci" x="78.3" y="274.3"/><use href="#mkci" x="78.0" y="274.9"/><use href="#mkci" x="77.8" y="275.4"/><use href="#mkci" x="77.6" y="276.0"/><use href="#mkci" x="77.4" y="276.5"/><use href="#mkci" x="77.3" y="277.1"/><use href="#mkci" x="77.1" y="277.6"/><use href="#mkci" x="76.9" y="278.2"/><use href="#mkci" x="76.7" y="278.7"/><use href="#mkci" x="76.5" y="279.3"/><use href="#mkci" x="76.4" y="279.8"/><use href="#mkci" x="76.2" y="280.4"/><use href="#mkci" x="76.0" y="280.9"/><use href="#mkci" x="75.9" y="281.5"/><use href="#mkci" x="75.7" y="282.0"/><use href="#mkci" x="75.5" y="282.6"/><use href="#mkci" x="75.4" y="283.1"/><use href="#mkci" x="75.2" y="283.7"/><use href="#mkci" x="75.1" y="284.2"/><use href="#mkci" x="74.9" y="284.8"/><use href="#mkci" x="74.8" y="285.3"/><use href="#mkci" x="74.6" y="285.9"/><use href="#mkci" x="74.5" y="286.4"/><use href="#mkci" x="74.3" y="287.0"/><use href="#mkci" x="74.2" y="287.5"/><use href="#mkci" x="74.0" y="288.1"/><use href="#mkci" x="73.9" y="288.6"/><use href="#mkci" x="73.7" y="289.2"/><use href="#mkci" x="73.6" y="289.7"/><use href="#mkci" x="73.4" y="290.3"/><use href="#mkci" x="73.3" y="290.8"/><use href="#mkci" x="73.1" y="291.4"/><use href="#mkci" x="73.0" y="291.9"/><use href="#mkci" x="72.8" y="292.5"/><use href="#mkci" x="72.7" y="293.0"/><use href="#mkci" x="72.6" y="293.6"/><use href="#mkci" x="72.4" y="294.1"/><use href="#mkci" x="72.3" y="294.7"/><use href="#mkci" x="72.2" y="295.2"/><use href="#mkci" x="72.1" y="295.8"/><use href="#mkci" x="72.0" y="296.3"/><use href="#mkci" x="71.9" y="296.9"/><use href="#mkci" x="71.8" y="297.4"/><use href="#mkci" x="71.7" y="298.0"/><use href="#mkci" x="71.7" y="298.5"/><use href="#mkci" x="71.6" y="299.1"/><use href="#mkci" x="71.6" y="299.6"/><use href="#mkci" x="71.6" y="300.2"/><use href="#mkci" x="71.5" y="300.7"/><use href="#mkci" x="71.5" y="301.3"/><use href="#mkci" x="71.5" y="301.8"/><use href="#mkci" x="71.5" y="302.4"/><use href="#mkci" x="71.6" y="302.9"/><use href="#mkci" x="71.7" y="303.5"/><use href="#mkci" x="71.9" y="304.0"/><use href="#mkci" x="72.2" y="304.6"/><use href="#mkci" x="72.4" y="305.1"/><use href="#mkci" x="72.7" y="305.7"/><use href="#mkci" x="73.0" y="306.2"/><use href="#mkci" x="73.4" y="306.8"/><use href="#mkci" x="73.9" y="307.3"/><use href="#mkci" x="74.7" y="307.9"/><use href="#mkci" x="75.7" y="308.4"/><use href="#mkci" x="76.8" y="309.0"/><use href="#mkci" x="77.9" y="309.5"/><use href="#mkci" x="79.0" y="310.1"/><use href="#mkci" x="80.2" y="310.6"/><use href="#mkci" x="81.6" y="311.2"/><use href="#mkci" x="83.2" y="311.7"/><use href="#mkci" x="84.9" y="312.3"/><use href="#mkci" x="86.7" y="312.8"/><use href="#mkci" x="88.7" y="313.4"/><use href="#mkci" x="91.1" y="313.9"/><use href="#mkci" x="93.8" y="314.5"/><use href="#mkci" x="96.8" y="315.0"/><use href="#mkci" x="99.9" y="315.6"/><use href="#mkci" x="103.4" y="316.1"/><use href="#mkci" x="107.1" y="316.7"/><use href="#mkci" x="110.7" y="317.2"/><use href="#mkci" x="114.2" y="317.8"/><use href="#mkci" x="117.3" y="318.3"/><use href="#mkci" x="120.4" y="318.9"/><use href="#mkci" x="123.3" y="319.4"/><use href="#mkci" x="125.6" y="320.0"/><use href="#mkci" x="127.2" y="320.5"/><use href="#mkci" x="128.6" y="321.1"/><use href="#mkci" x="129.7" y="321.6"/><use href="#mkci" x="130.4" y="322.2"/><use href="#mkci" x="131.0" y="322.7"/><use href="#mkci" x="131.5" y="323.3"/><use href="#mkci" x="131.6" y="323.8"/><use href="#mkci" x="131.2" y="324.4"/><use href="#mkci" x="130.3" y="324.9"/><use href="#mkci" x="129.2" y="325.5"/><use href="#mkci" x="128.0" y="326.0"/><use href="#mkci" x="126.7" y="326.6"/><use href="#mkci" x="125.3" y="327.1"/><use href="#mkci" x="123.9" y="327.7"/><use href="#mkci" x="122.5" y="328.2"/><use href="#mkci" x="121.2" y="328.8"/><use href="#mkci" x="119.8" y="329.3"/><use href="#mkci" x="118.5" y="329.9"/><use href="#mkci" x="117.3" y="330.4"/><use href="#mkci" x="116.1" y="331.0"/><use href="#mkci" x="115.0" y="331.5"/><use href="#mkci" x="113.9" y="332.1"/><use href="#mkci" x="112.9" y="332.6"/><use href="#mkci" x="111.9" y="333.2"/><use href="#mkci" x="111.0" y="333.7"/><use href="#mkci" x="110.1" y="334.3"/><use href="#mkci" x="109.2" y="334.8"/><use href="#mkci" x="108.4" y="335.4"/><use href="#mkci" x="107.5" y="335.9"/><use href="#mkci" x="106.7" y="336.5"/><use href="#mkci" x="105.9" y="337.0"/><use href="#mkci" x="105.1" y="337.6"/><use href="#mkci" x="104.3" y="338.1"/><use href="#mkci" x="103.5" y="338.7"/><use href="#mkci" x="102.7" y="339.2"/><use href="#mkci" x="101.9" y="339.8"/><use href="#mkci" x="101.2" y="340.3"/><use href="#mkci" x="100.5" y="340.9"/><use href="#mkci" x="99.8" y="341.4"/><use href="#mkci" x="99.1" y="342.0"/><use href="#mkci" x="98.4" y="342.5"/><use href="#mkci" x="97.7" y="343.1"/><use href="#mkci" x="97.0" y="343.6"/><use href="#mkci" x="96.3" y="344.2"/><use href="#mkci" x="95.6" y="344.7"/><use href="#mkci" x="94.9" y="345.3"/><use href="#mkci" x="94.3" y="345.8"/><use href="#mkci" x="93.6" y="346.4"/><use href="#mkci" x="93.0" y="346.9"/><use href="#mkci" x="92.5" y="347.5"/><use href="#mkci" x="92.0" y="348.0"/><use href="#mkci" x="91.5" y="348.6"/><use href="#mkci" x="91.1" y="349.1"/><use href="#mkci" x="90.7" y="349.7"/><use href="#mkci" x="90.4" y="350.2"/><use href="#mkci" x="90.0" y="350.8"/><use href="#mkci" x="89.7" y="351.3"/><use href="#mkci" x="89.4" y="351.9"/><use href="#mkci" x="89.1" y="352.4"/><use href="#mkci" x="88.9" y="353.0"/><use href="#mkci" x="88.6" y="353.5"/><use href="#mkci" x="88.4" y="354.1"/><use href="#mkci" x="88.2" y="354.6"/><use href="#mkci" x="87.9" y="355.2"/><use href="#mkci" x="87.7" y="355.7"/><use href="#mkci" x="87.5" y="356.3"/><use href="#mkci" x="87.4" y="356.8"/><use href="#mkci" x="87.2" y="357.4"/><use href="#mkci" x="87.0" y="357.9"/><use href="#mkci" x="86.8" y="358.5"/><use href="#mkci" x="86.6" y="359.0"/><use href="#mkci" x="86.4" y="359.6"/><use href="#mkci" x="86.2" y="360.1"/><use href="#mkci" x="86.0" y="360.7"/><use href="#mkci" x="85.8" y="361.2"/><use href="#mkci" x="85.5" y="361.8"/><use href="#mkci" x="85.3" y="362.3"/><use href="#mkci" x="85.0" y="362.9"/><use href="#mkci" x="84.7" y="363.4"/><use href="#mkci" x="84.4" y="364.0"/><use href="#mkci" x="84.2" y="364.5"/><use href="#mkci" x="83.9" y="365.1"/><use href="#mkci" x="83.6" y="365.6"/><use href="#mkci" x="83.4" y="366.2"/><use href="#mkci" x="83.1" y="366.7"/><use href="#mkci" x="82.9" y="367.3"/><use href="#mkci" x="82.7" y="367.8"/><use href="#mkci" x="82.4" y="368.4"/><use href="#mkci" x="82.2" y="368.9"/><use href="#mkci" x="82.0" y="369.5"/><use href="#mkci" x="81.8" y="370.0"/><use href="#mkci" x="81.6" y="370.6"/><use href="#mkci" x="81.4" y="371.1"/><use href="#mkci" x="81.2" y="371.7"/><use href="#mkci" x="81.0" y="372.2"/><use href="#mkci" x="80.9" y="372.8"/><use href="#mkci" x="80.7" y="373.3"/><use href="#mkci" x="80.5" y="373.9"/><use href="#mkci" x="80.4" y="374.4"/><use href="#mkci" x="80.3" y="375.0"/><use href="#mkci" x="80.2" y="375.5"/><use href="#mkci" x="80.1" y="376.1"/><use href="#mkci" x="80.1" y="376.6"/><use href="#mkci" x="80.0" y="377.2"/><use href="#mkci" x="80.0" y="377.7"/><use href="#mkci" x="80.0" y="378.3"/><use href="#mkci" x="80.0" y="378.8"/><use href="#mkci" x="80.1" y="379.4"/><use href="#mkci" x="80.4" y="379.9"/><use href="#mkci" x="80.7" y="380.5"/><use href="#mkci" x="81.0" y="381.0"/><use href="#mkci" x="81.4" y="381.6"/><use href="#mkci" x="81.8" y="382.1"/><use href="#mkci" x="82.4" y="382.7"/><use href="#mkci" x="83.2" y="383.2"/><use href="#mkci" x="84.0" y="383.8"/><use href="#mkci" x="84.9" y="384.3"/><use href="#mkci" x="85.9" y="384.9"/><use href="#mkci" x="86.8" y="385.4"/><use href="#mkci" x="87.8" y="386.0"/><use href="#mkci" x="88.8" y="386.5"/><use href="#mkci" x="89.9" y="387.1"/><use href="#mkci" x="91.0" y="387.6"/><use href="#mkci" x="92.1" y="388.2"/><use href="#mkci" x="93.2" y="388.7"/><use href="#mkci" x="94.3" y="389.3"/><use href="#mkci" x="95.4" y="389.8"/><use href="#mkci" x="96.5" y="390.4"/><use href="#mkci" x="97.6" y="390.9"/><use href="#mkci" x="98.7" y="391.5"/><use href="#mkci" x="99.7" y="392.0"/><use href="#mkci" x="100.7" y="392.6"/><use href="#mkci" x="101.7" y="393.1"/><use href="#mkci" x="102.6" y="393.7"/><use href="#mkci" x="103.4" y="394.2"/><use href="#mkci" x="104.2" y="394.8"/><use href="#mkci" x="105.0" y="395.3"/><use href="#mkci" x="105.7" y="395.9"/><use href="#mkci" x="106.4" y="396.4"/><use href="#mkci" x="107.0" y="397.0"/><use href="#mkci" x="107.6" y="397.5"/><use href="#mkci" x="108.1" y="398.1"/><use href="#mkci" x="108.5" y="398.6"/><use href="#mkci" x="108.6" y="399.2"/><use href="#mkci" x="108.3" y="399.7"/><use href="#mkci" x="107.6" y="400.3"/><use href="#mkci" x="106.7" y="400.8"/><use href="#mkci" x="105.4" y="401.4"/><use href="#mkci" x="103.4" y="401.9"/><use href="#mkci" x="101.3" y="402.5"/><use href="#mkci" x="99.4" y="403.0"/><use href="#mkci" x="97.5" y="403.6"/><use href="#mkci" x="95.7" y="404.1"/><use href="#mkci" x="93.9" y="404.7"/><use href="#mkci" x="92.0" y="405.2"/><use href="#mkci" x="90.3" y="405.8"/><use href="#mkci" x="88.6" y="406.3"/><use href="#mkci" x="87.0" y="406.9"/><use href="#mkci" x="85.3" y="407.4"/><use href="#mkci" x="83.6" y="408.0"/><use href="#mkci" x="82.0" y="408.5"/><use href="#mkci" x="80.5" y="409.1"/><use href="#mkci" x="79.0" y="409.6"/><use href="#mkci" x="77.7" y="410.2"/><use href="#mkci" x="76.5" y="410.7"/><use href="#mkci" x="75.6" y="411.3"/><use href="#mkci" x="74.8" y="411.8"/><use href="#mkci" x="74.1" y="412.4"/><use href="#mkci" x="73.5" y="412.9"/><use href="#mkci" x="73.0" y="413.5"/><use href="#mkci" x="72.6" y="414.0"/><use href="#mkci" x="72.3" y="414.6"/><use href="#mkci" x="72.2" y="415.1"/><use href="#mkci" x="72.1" y="415.7"/><use href="#mkci" x="72.3" y="416.2"/><use href="#mkci" x="72.7" y="416.8"/><use href="#mkci" x="73.4" y="417.3"/><use href="#mkci" x="74.2" y="417.9"/><use href="#mkci" x="75.3" y="418.4"/><use href="#mkci" x="76.8" y="419.0"/><use href="#mkci" x="78.9" y="419.5"/><use href="#mkci" x="81.4" y="420.1"/><use href="#mkci" x="83.9" y="420.6"/><use href="#mkci" x="86.1" y="421.2"/><use href="#mkci" x="88.8" y="421.7"/><use href="#mkci" x="91.3" y="422.3"/><use href="#mkci" x="93.1" y="422.8"/><use href="#mkci" x="93.7" y="423.4"/><use href="#mkci" x="91.1" y="423.9"/><use href="#mkci" x="86.8" y="424.5"/><use href="#mkci" x="83.3" y="425.0"/><use href="#mkci" x="80.0" y="425.6"/><use href="#mkci" x="76.9" y="426.1"/><use href="#mkci" x="74.3" y="426.7"/><use href="#mkci" x="72.8" y="427.2"/><use href="#mkci" x="72.5" y="427.8"/><use href="#mkci" x="73.0" y="428.3"/><use href="#mkci" x="76.8" y="428.9"/><use href="#mkci" x="82.9" y="429.4"/><use href="#mkci" x="90.4" y="430.0"/><use href="#mkci" x="106.4" y="430.5"/><use href="#mkci" x="133.1" y="431.1"/><use href="#mkci" x="154.1" y="431.6"/><use href="#mkci" x="168.5" y="432.2"/><use href="#mkci" x="181.1" y="432.7"/><use href="#mkci" x="183.2" y="433.3"/><use href="#mkci" x="177.2" y="433.8"/><use href="#mkci" x="171.4" y="434.4"/><use href="#mkci" x="166.0" y="434.9"/><use href="#mkci" x="161.2" y="435.5"/><use href="#mkci" x="156.8" y="436.0"/><use href="#mkci" x="152.9" y="436.6"/><use href="#mkci" x="149.5" y="437.1"/><use href="#mkci" x="146.4" y="437.7"/><use href="#mkci" x="143.5" y="438.2"/><use href="#mkci" x="140.8" y="438.8"/><use href="#mkci" x="138.2" y="439.3"/><use href="#mkci" x="135.9" y="439.9"/><use href="#mkci" x="134.0" y="440.4"/><use href="#mkci" x="132.2" y="441.0"/><use href="#mkci" x="130.7" y="441.5"/><use href="#mkci" x="129.4" y="442.1"/><use href="#mkci" x="128.3" y="442.6"/><use href="#mkci" x="127.2" y="443.2"/><use href="#mkci" x="126.3" y="443.7"/><use href="#mkci" x="125.4" y="444.3"/><use href="#mkci" x="124.6" y="444.8"/><use href="#mkci" x="123.7" y="445.4"/><use href="#mkci" x="122.9" y="445.9"/><use href="#mkci" x="122.2" y="446.5"/><use href="#mkci" x="121.5" y="447.0"/><use href="#mkci" x="120.8" y="447.6"/><use href="#mkci" x="120.2" y="448.1"/><use href="#mkci" x="119.6" y="448.7"/><use href="#mkci" x="119.0" y="449.2"/><use href="#mkci" x="118.4" y="449.8"/><use href="#mkci" x="117.9" y="450.3"/><use href="#mkci" x="117.4" y="450.9"/><use href="#mkci" x="116.8" y="451.4"/><use href="#mkci" x="116.3" y="452.0"/><use href="#mkci" x="115.8" y="452.5"/><use href="#mkci" x="115.3" y="453.1"/><use href="#mkci" x="114.8" y="453.6"/><use href="#mkci" x="114.3" y="454.2"/><use href="#mkci" x="113.8" y="454.7"/><use href="#mkci" x="113.4" y="455.3"/><use href="#mkci" x="113.0" y="455.8"/><use href="#mkci" x="112.6" y="456.4"/><use href="#mkci" x="112.2" y="456.9"/><use href="#mkci" x="111.9" y="457.5"/><use href="#mkci" x="111.6" y="458.0"/><use href="#mkci" x="111.3" y="458.6"/><use href="#mkci" x="111.0" y="459.1"/><use href="#mkci" x="110.7" y="459.7"/><use href="#mkci" x="110.5" y="460.2"/><use href="#mkci" x="110.4" y="460.8"/><use href="#mkci" x="110.2" y="461.3"/><use href="#mkci" x="110.2" y="461.9"/><use href="#mkci" x="110.1" y="462.4"/><use href="#mkci" x="110.0" y="463.0"/><use href="#mkci" x="109.9" y="463.5"/><use href="#mkci" x="109.9" y="464.1"/><use href="#mkci" x="109.8" y="464.6"/><use href="#mkci" x="109.8" y="465.2"/><use href="#mkci" x="109.8" y="465.7"/><use href="#mkci" x="109.8" y="466.3"/><use href="#mkci" x="109.8" y="466.8"/><use href="#mkci" x="109.9" y="467.4"/><use href="#mkci" x="110.0" y="467.9"/><use href="#mkci" x="110.0" y="468.5"/><use href="#mkci" x="110.2" y="469.0"/><use href="#mkci" x="110.3" y="469.6"/><use href="#mkci" x="110.4" y="470.1"/><use href="#mkci" x="110.5" y="470.7"/><use href="#mkci" x="110.7" y="471.2"/><use href="#mkci" x="110.8" y="471.8"/><use href="#mkci" x="111.2" y="472.3"/><use href="#mkci" x="111.9" y="472.9"/><use href="#mkci" x="112.9" y="473.4"/><use href="#mkci" x="113.9" y="474.0"/><use href="#mkci" x="115.1" y="474.5"/><use href="#mkci" x="116.8" y="475.1"/><use href="#mkci" x="118.7" y="475.6"/><use href="#mkci" x="120.8" y="476.2"/></g>
<path d="M81.2,265.5 81.1,265.8 80.9,266.1 80.8,266.4 80.7,266.7 80.5,267.0 80.4,267.3 80.3,267.6 80.2,267.9 80.0,268.2 79.9,268.5 79.8,268.8 79.7,269.1 79.5,269.4 79.4,269.7 79.3,270.0 79.2,270.3 79.1,270.6 78.9,270.9 78.8,271.2 78.7,271.5 78.6,271.8 78.5,272.1 78.4,272.4 78.3,272.7 78.1,273.0 78.0,273.3 77.9,273.6 77.8,273.9 77.7,274.2 77.6,274.5 77.5,274.8 77.3,275.1 77.2,275.4 77.1,275.7 77.0,276.0 76.9,276.3 76.8,276.6 76.6,276.9 76.5,277.2 76.4,277.5 76.3,277.8 76.1,278.1 76.0,278.4 75.9,278.7 75.8,279.0 75.6,279.3 75.5,279.6 75.4,279.9 75.3,280.2 75.2,280.5 75.1,280.8 75.0,281.1 74.9,281.4 74.8,281.7 74.8,282.0 74.7,282.3 74.7,282.6 74.6,282.9 74.6,283.2 74.6,283.5 74.6,283.8 74.6,284.1 74.6,284.4 74.6,284.7 74.7,285.0 74.9,285.3 75.1,285.6 75.4,285.9 75.8,286.2 76.2,286.5 76.6,286.8 77.1,287.1 77.5,287.4 77.9,287.7 78.4,288.0 78.8,288.3 79.1,288.6 79.5,288.9 79.9,289.2 80.3,289.5 80.7,289.8 81.1,290.1 81.4,290.4 81.8,290.7 82.0,291.0 82.3,291.3 82.4,291.6 82.3,291.9 82.0,292.2 81.5,292.5 80.8,292.8 80.0,293.1 79.1,293.4 78.3,293.7 77.4,294.0 76.5,294.3 75.5,294.6 74.4,294.9 73.5,295.2 72.6,295.5 71.7,295.8 70.8,296.1 69.9,296.4 69.1,296.7 68.4,297.0 67.8,297.3 67.4,297.6 67.2,297.9 67.2,298.2 67.4,298.5 67.7,298.8 68.0,299.1 68.5,299.4 69.0,299.7 69.5,300.0 70.0,300.3 70.6,300.6 71.1,300.9 71.6,301.2 72.1,301.5 72.7,301.8 73.3,302.1 73.9,302.4 74.5,302.7 75.1,303.0 75.7,303.3 76.4,303.6 77.1,303.9 77.8,304.2 78.5,304.5 79.4,304.8 80.2,305.1 81.2,305.4 82.1,305.7 83.1,306.0 84.2,306.3 85.2,306.6 86.3,306.9 87.4,307.2 88.5,307.5 89.7,307.8 91.0,308.1 92.5,308.4 94.1,308.7 95.9,309.0 97.8,309.3 100.1,309.6 103.0,309.9 106.3,310.2 109.9,310.5 113.4,310.8 116.7,311.1 120.0,311.4 123.5,311.7 126.9,312.0 130.3,312.3 133.5,312.6 136.5,312.9 139.2,313.2 141.5,313.5 143.7,313.8 145.7,314.1 147.6,314.4 149.3,314.7 150.8,315.0 152.2,315.3 153.4,315.6 154.6,315.9 155.9,316.2 157.2,316.5 158.4,316.8 159.6,317.1 160.6,317.4 161.5,317.7 162.1,318.0 162.5,318.3 162.6,318.6 162.4,318.9 162.0,319.2 161.5,319.5 160.7,319.8 159.9,320.1 159.0,320.4 158.0,320.7 157.0,321.0 156.0,321.3 154.9,321.6 153.7,321.9 152.5,322.2 151.2,322.5 149.9,322.8 148.7,323.1 147.4,323.4 146.2,323.7 145.0,324.0 143.8,324.3 142.7,324.6 141.5,324.9 140.4,325.2 139.3,325.5 138.2,325.8 137.1,326.1 136.0,326.4 134.9,326.7 133.9,327.0 132.8,327.3 131.7,327.6 130.7,327.9 129.6,328.2 128.6,328.5 127.6,328.8 126.6,329.1 125.7,329.4 124.8,329.7 124.0,330.0 123.2,330.3 122.5,330.6 121.7,330.9 121.0,331.2 120.3,331.5 119.6,331.8 119.0,332.1 118.3,332.4 117.7,332.7 117.1,333.0 116.4,333.3 115.8,333.6 115.2,333.9 114.6,334.2 114.0,334.5 113.3,334.8 112.7,335.1 112.1,335.4 111.4,335.7 110.8,336.0 110.2,336.3 109.5,336.6 108.9,336.9 108.3,337.2 107.6,337.5 107.0,337.8 106.4,338.1 105.8,338.4 105.2,338.7 104.6,339.0 104.1,339.3 103.5,339.6 103.0,339.9 102.4,340.2 101.9,340.5 101.4,340.8 100.9,341.1 100.5,341.4 100.0,341.7 99.6,342.0 99.1,342.3 98.7,342.6 98.2,342.9 97.8,343.2 97.4,343.5 97.0,343.8 96.6,344.1 96.2,344.4 95.8,344.7 95.4,345.0 95.0,345.3 94.7,345.6 94.3,345.9 93.9,346.2 93.6,346.5 93.2,346.8 92.9,347.1 92.6,347.4 92.2,347.7 91.9,348.0 91.6,348.3 91.3,348.6 91.0,348.9 90.7,349.2 90.4,349.5 90.1,349.8 89.9,350.1 89.6,350.4 89.3,350.7 89.1,351.0 88.8,351.3 88.5,351.6 88.3,351.9 88.1,352.2 87.8,352.5 87.6,352.8 87.3,353.1 87.1,353.4 86.8,353.7 86.6,354.0 86.3,354.3 86.0,354.6 85.8,354.9 85.6,355.2 85.5,355.5 85.4,355.8 85.4,356.1 85.7,356.4 86.0,356.7 86.5,357.0 87.0,357.3 87.7,357.6 88.4,357.9 89.2,358.2 90.0,358.5 90.8,358.8 91.7,359.1 92.5,359.4 93.3,359.7 94.0,360.0 94.7,360.3 95.4,360.6 96.2,360.9 96.9,361.2 97.7,361.5 98.4,361.8 99.2,362.1 100.0,362.4 100.8,362.7 101.6,363.0 102.4,363.3 103.1,363.6 103.9,363.9 104.7,364.2 105.5,364.5 106.2,364.8 106.9,365.1 107.7,365.4 108.4,365.7 109.0,366.0 109.7,366.3 110.3,366.6 110.9,366.9 111.6,367.2 112.1,367.5 112.7,367.8 113.3,368.1 113.9,368.4 114.4,368.7 115.0,369.0 115.6,369.3 116.1,369.6 116.6,369.9 117.2,370.2 117.7,370.5 118.2,370.8 118.8,371.1 119.3,371.4 119.8,371.7 120.4,372.0 120.9,372.3 121.4,372.6 122.0,372.9 122.5,373.2 123.1,373.5 123.6,373.8 124.2,374.1 124.8,374.4 125.3,374.7 125.9,375.0 126.5,375.3 127.0,375.6 127.6,375.9 128.2,376.2 128.7,376.5 129.3,376.8 129.9,377.1 130.5,377.4 131.0,377.7 131.6,378.0 132.2,378.3 132.8,378.6 133.3,378.9 133.9,379.2 134.5,379.5 135.0,379.8 135.6,380.1 136.2,380.4 136.7,380.7 137.3,381.0 137.9,381.3 138.4,381.6 139.0,381.9 139.5,382.2 140.1,382.5 140.7,382.8 141.2,383.1 141.8,383.4 142.3,383.7 142.9,384.0 143.5,384.3 144.0,384.6 144.6,384.9 145.1,385.2 145.7,385.5 146.2,385.8 146.8,386.1 147.3,386.4 147.8,386.7 148.3,387.0 148.8,387.3 149.3,387.6 149.8,387.9 150.3,388.2 150.8,388.5 151.3,388.8 151.8,389.1 152.2,389.4 152.7,389.7 153.1,390.0 153.5,390.3 153.9,390.6 154.3,390.9 154.7,391.2 155.0,391.5 155.3,391.8 155.6,392.1 155.8,392.4 156.0,392.7 156.2,393.0 156.4,393.3 156.5,393.6 156.6,393.9 156.7,394.2 156.7,394.5 156.8,394.8 156.8,395.1 156.7,395.4 156.5,395.7 156.1,396.0 155.6,396.3 155.0,396.6 154.4,396.9 153.6,397.2 152.8,397.5 152.0,397.8 151.1,398.1 150.3,398.4 149.4,398.7 148.2,399.0 146.8,399.3 145.2,399.6 143.4,399.9 141.4,400.2 139.3,400.5 137.1,400.8 134.8,401.1 132.3,401.4 129.3,401.7 125.8,402.0 122.3,402.3 118.9,402.6 115.9,402.9 113.3,403.2 110.7,403.5 108.2,403.8 105.7,404.1 103.4,404.4 101.4,404.7 99.6,405.0 98.3,405.3 97.3,405.6 96.5,405.9 95.7,406.2 95.0,406.5 94.3,406.8 93.6,407.1 93.0,407.4 92.4,407.7 91.9,408.0 91.4,408.3 90.9,408.6 90.5,408.9 90.1,409.2 89.8,409.5 89.4,409.8 89.0,410.1 88.6,410.4 88.2,410.7 87.8,411.0 87.5,411.3 87.1,411.6 86.8,411.9 86.4,412.2 86.2,412.5 86.0,412.8 85.8,413.1 85.7,413.4 85.6,413.7 85.7,414.0 85.8,414.3 86.0,414.6 86.3,414.9 86.8,415.2 87.5,415.5 88.3,415.8 89.2,416.1 90.2,416.4 91.2,416.7 92.3,417.0 93.4,417.3 94.5,417.6 95.6,417.9 96.6,418.2 97.6,418.5 98.6,418.8 99.7,419.1 100.8,419.4 102.0,419.7 103.2,420.0 104.5,420.3 105.6,420.6 106.8,420.9 107.8,421.2 108.8,421.5 109.6,421.8 110.2,422.1 110.7,422.4 111.0,422.7 110.8,423.0 109.5,423.3 107.4,423.6 104.7,423.9 101.9,424.2 99.2,424.5 96.9,424.8 94.6,425.1 92.3,425.4 90.0,425.7 87.7,426.0 85.4,426.3 83.2,426.6 81.5,426.9 80.9,427.2 81.3,427.5 99.4,427.8 131.4,428.1 170.0,428.4 201.2,428.7 219.2,429.0 231.0,429.3 241.4,429.6 250.0,429.9 256.3,430.2 260.0,430.5 262.2,430.8 264.3,431.1 265.7,431.4 266.2,431.7 265.3,432.0 262.8,432.3 258.2,432.6 250.8,432.9 241.6,433.2 231.6,433.5 222.0,433.8 214.0,434.1 206.3,434.4 199.0,434.7 192.1,435.0 185.9,435.3 180.5,435.6 175.3,435.9 170.8,436.2 167.4,436.5 165.2,436.8 163.2,437.1 161.3,437.4 159.6,437.7 157.9,438.0 156.4,438.3 155.1,438.6 153.9,438.9 152.9,439.2 152.0,439.5 151.2,439.8 150.4,440.1 149.5,440.4 148.7,440.7 147.9,441.0 147.1,441.3 146.3,441.6 145.6,441.9 144.9,442.2 144.2,442.5 143.6,442.8 143.0,443.1 142.5,443.4 142.0,443.7 141.6,444.0 141.1,444.3 140.7,444.6 140.2,444.9 139.8,445.2 139.4,445.5 138.9,445.8 138.5,446.1 138.1,446.4 137.7,446.7 137.3,447.0 136.9,447.3 136.6,447.6 136.2,447.9 135.8,448.2 135.5,448.5 135.2,448.8 134.9,449.1 134.6,449.4 134.3,449.7 134.0,450.0 133.7,450.3 133.5,450.6 133.2,450.9 132.9,451.2 132.7,451.5 132.4,451.8 132.2,452.1 131.9,452.4 131.7,452.7 131.5,453.0 131.3,453.3 131.2,453.6 131.0,453.9 130.9,454.2 130.8,454.5 130.7,454.8 130.7,455.1 130.6,455.4 130.5,455.7 130.4,456.0 130.4,456.3 130.3,456.6 130.3,456.9 130.2,457.2 130.2,457.5 130.1,457.8 130.1,458.1 130.1,458.4 130.1,458.7 130.1,459.0 130.1,459.3 130.2,459.6 130.2,459.9 130.3,460.2 130.4,460.5 130.5,460.8 130.6,461.1 130.8,461.4 130.9,461.7 131.0,462.0 131.2,462.3 131.3,462.6 131.5,462.9 131.7,463.2 132.0,463.5 132.4,463.8 132.8,464.1 133.3,464.4 133.9,464.7 134.5,465.0 135.1,465.3 135.7,465.6 136.3,465.9 136.9,466.2 137.6,466.5 138.3,466.8 139.1,467.1 139.8,467.4 140.6,467.7 141.4,468.0 142.2,468.3 142.9,468.6 143.6,468.9 144.2,469.2 144.9,469.5 145.5,469.8 146.1,470.1 146.8,470.4 147.4,470.7 148.0,471.0 148.6,471.3 149.3,471.6 149.9,471.9 150.5,472.2 151.1,472.5 151.7,472.8 152.2,473.1 152.8,473.4 153.4,473.7 153.9,474.0 154.5,474.3 155.0,474.6 155.6,474.9 156.1,475.2 156.6,475.5 157.1,475.8 157.6,476.1 157.8,476.2" fill="none" stroke="#000" stroke-width="1.3" stroke-linejoin="round" stroke-linecap="round" />
</g>
<text x="115.50" y="429.60" font-size="14" text-anchor="middle" fill="#000" font-weight="normal" >*</text>
<rect x="65.0" y="1.9" width="303.0" height="210.7" fill="none" stroke="#000" stroke-width="1.7"/>
<line x1="216.50" y1="1.90" x2="216.50" y2="212.60" stroke="#000" stroke-width="1.8" />
<rect x="65.0" y="265.5" width="303.0" height="210.7" fill="none" stroke="#000" stroke-width="1.7"/>
<line x1="216.50" y1="265.50" x2="216.50" y2="476.20" stroke="#000" stroke-width="1.8" />
<line x1="65.00" y1="193.40" x2="72.50" y2="193.40" stroke="#000" stroke-width="1.4" />
<line x1="216.50" y1="193.40" x2="209.00" y2="193.40" stroke="#000" stroke-width="1.4" />
<line x1="65.00" y1="155.05" x2="69.00" y2="155.05" stroke="#000" stroke-width="1.4" />
<line x1="216.50" y1="155.05" x2="212.50" y2="155.05" stroke="#000" stroke-width="1.4" />
<line x1="65.00" y1="116.70" x2="72.50" y2="116.70" stroke="#000" stroke-width="1.4" />
<line x1="216.50" y1="116.70" x2="209.00" y2="116.70" stroke="#000" stroke-width="1.4" />
<line x1="65.00" y1="78.35" x2="69.00" y2="78.35" stroke="#000" stroke-width="1.4" />
<line x1="216.50" y1="78.35" x2="212.50" y2="78.35" stroke="#000" stroke-width="1.4" />
<line x1="65.00" y1="40.00" x2="72.50" y2="40.00" stroke="#000" stroke-width="1.4" />
<line x1="216.50" y1="40.00" x2="209.00" y2="40.00" stroke="#000" stroke-width="1.4" />
<line x1="65.00" y1="1.65" x2="69.00" y2="1.65" stroke="#000" stroke-width="1.4" />
<line x1="216.50" y1="1.65" x2="212.50" y2="1.65" stroke="#000" stroke-width="1.4" />
<line x1="65.00" y1="457.00" x2="72.50" y2="457.00" stroke="#000" stroke-width="1.4" />
<line x1="216.50" y1="457.00" x2="209.00" y2="457.00" stroke="#000" stroke-width="1.4" />
<line x1="65.00" y1="418.65" x2="69.00" y2="418.65" stroke="#000" stroke-width="1.4" />
<line x1="216.50" y1="418.65" x2="212.50" y2="418.65" stroke="#000" stroke-width="1.4" />
<line x1="65.00" y1="380.30" x2="72.50" y2="380.30" stroke="#000" stroke-width="1.4" />
<line x1="216.50" y1="380.30" x2="209.00" y2="380.30" stroke="#000" stroke-width="1.4" />
<line x1="65.00" y1="341.95" x2="69.00" y2="341.95" stroke="#000" stroke-width="1.4" />
<line x1="216.50" y1="341.95" x2="212.50" y2="341.95" stroke="#000" stroke-width="1.4" />
<line x1="65.00" y1="303.60" x2="72.50" y2="303.60" stroke="#000" stroke-width="1.4" />
<line x1="216.50" y1="303.60" x2="209.00" y2="303.60" stroke="#000" stroke-width="1.4" />
<line x1="65.00" y1="265.25" x2="69.00" y2="265.25" stroke="#000" stroke-width="1.4" />
<line x1="216.50" y1="265.25" x2="212.50" y2="265.25" stroke="#000" stroke-width="1.4" />
<line x1="95.68" y1="212.60" x2="95.68" y2="208.60" stroke="#000" stroke-width="1.4" />
<line x1="95.68" y1="1.90" x2="95.68" y2="5.90" stroke="#000" stroke-width="1.4" />
<line x1="125.86" y1="212.60" x2="125.86" y2="205.10" stroke="#000" stroke-width="1.4" />
<line x1="125.86" y1="1.90" x2="125.86" y2="9.40" stroke="#000" stroke-width="1.4" />
<line x1="156.04" y1="212.60" x2="156.04" y2="208.60" stroke="#000" stroke-width="1.4" />
<line x1="156.04" y1="1.90" x2="156.04" y2="5.90" stroke="#000" stroke-width="1.4" />
<line x1="186.22" y1="212.60" x2="186.22" y2="205.10" stroke="#000" stroke-width="1.4" />
<line x1="186.22" y1="1.90" x2="186.22" y2="9.40" stroke="#000" stroke-width="1.4" />
<line x1="107.52" y1="476.20" x2="107.52" y2="472.20" stroke="#000" stroke-width="1.4" />
<line x1="107.52" y1="265.50" x2="107.52" y2="269.50" stroke="#000" stroke-width="1.4" />
<line x1="149.45" y1="476.20" x2="149.45" y2="468.70" stroke="#000" stroke-width="1.4" />
<line x1="149.45" y1="265.50" x2="149.45" y2="273.00" stroke="#000" stroke-width="1.4" />
<line x1="191.38" y1="476.20" x2="191.38" y2="472.20" stroke="#000" stroke-width="1.4" />
<line x1="191.38" y1="265.50" x2="191.38" y2="269.50" stroke="#000" stroke-width="1.4" />
<line x1="368.00" y1="193.40" x2="360.50" y2="193.40" stroke="#000" stroke-width="1.4" />
<line x1="368.00" y1="155.05" x2="364.00" y2="155.05" stroke="#000" stroke-width="1.4" />
<line x1="368.00" y1="116.70" x2="360.50" y2="116.70" stroke="#000" stroke-width="1.4" />
<line x1="368.00" y1="78.35" x2="364.00" y2="78.35" stroke="#000" stroke-width="1.4" />
<line x1="368.00" y1="40.00" x2="360.50" y2="40.00" stroke="#000" stroke-width="1.4" />
<line x1="368.00" y1="1.65" x2="364.00" y2="1.65" stroke="#000" stroke-width="1.4" />
<line x1="254.50" y1="212.60" x2="254.50" y2="208.60" stroke="#000" stroke-width="1.4" />
<line x1="292.45" y1="212.60" x2="292.45" y2="205.10" stroke="#000" stroke-width="1.4" />
<line x1="330.40" y1="212.60" x2="330.40" y2="208.60" stroke="#000" stroke-width="1.4" />
<line x1="368.00" y1="457.00" x2="360.50" y2="457.00" stroke="#000" stroke-width="1.4" />
<line x1="368.00" y1="418.65" x2="364.00" y2="418.65" stroke="#000" stroke-width="1.4" />
<line x1="368.00" y1="380.30" x2="360.50" y2="380.30" stroke="#000" stroke-width="1.4" />
<line x1="368.00" y1="341.95" x2="364.00" y2="341.95" stroke="#000" stroke-width="1.4" />
<line x1="368.00" y1="303.60" x2="360.50" y2="303.60" stroke="#000" stroke-width="1.4" />
<line x1="368.00" y1="265.25" x2="364.00" y2="265.25" stroke="#000" stroke-width="1.4" />
<line x1="254.50" y1="476.20" x2="254.50" y2="472.20" stroke="#000" stroke-width="1.4" />
<line x1="292.45" y1="476.20" x2="292.45" y2="468.70" stroke="#000" stroke-width="1.4" />
<line x1="330.40" y1="476.20" x2="330.40" y2="472.20" stroke="#000" stroke-width="1.4" />
<text x="56.50" y="198.60" font-size="14.2" text-anchor="end" fill="#000" font-weight="normal" >400</text>
<text x="56.50" y="121.90" font-size="14.2" text-anchor="end" fill="#000" font-weight="normal" >600</text>
<text x="56.50" y="45.20" font-size="14.2" text-anchor="end" fill="#000" font-weight="normal" >800</text>
<text x="56.50" y="462.20" font-size="14.2" text-anchor="end" fill="#000" font-weight="normal" >400</text>
<text x="56.50" y="385.50" font-size="14.2" text-anchor="end" fill="#000" font-weight="normal" >600</text>
<text x="56.50" y="308.80" font-size="14.2" text-anchor="end" fill="#000" font-weight="normal" >800</text>
<text x="65.50" y="232.20" font-size="14.2" text-anchor="middle" fill="#000" font-weight="normal" >0</text>
<text x="125.86" y="232.20" font-size="14.2" text-anchor="middle" fill="#000" font-weight="normal" >2</text>
<text x="186.22" y="232.20" font-size="14.2" text-anchor="middle" fill="#000" font-weight="normal" >4</text>
<text x="65.60" y="496.00" font-size="14.2" text-anchor="middle" fill="#000" font-weight="normal" >0.0</text>
<text x="149.45" y="496.00" font-size="14.2" text-anchor="middle" fill="#000" font-weight="normal" >0.5</text>
<text x="216.55" y="232.50" font-size="14.2" text-anchor="middle" fill="#000" font-weight="normal" >0.0</text>
<text x="216.55" y="496.30" font-size="14.2" text-anchor="middle" fill="#000" font-weight="normal" >0.0</text>
<text x="292.45" y="232.50" font-size="14.2" text-anchor="middle" fill="#000" font-weight="normal" >0.5</text>
<text x="292.45" y="496.30" font-size="14.2" text-anchor="middle" fill="#000" font-weight="normal" >0.5</text>
<text x="368.35" y="232.50" font-size="14.2" text-anchor="middle" fill="#000" font-weight="normal" >1.0</text>
<text x="368.35" y="496.30" font-size="14.2" text-anchor="middle" fill="#000" font-weight="normal" >1.0</text>
<text x="115.3" y="246.4" font-size="14.2">s<tspan font-size="9.1" dy="4.6">2,sam</tspan><tspan dy="-4.6">/s</tspan><tspan font-size="9.1" dy="4.6">2,ref</tspan></text>
<text x="110.7" y="513.2" font-size="14.2">s<tspan font-size="9.1" dy="4.6">2,sam</tspan><tspan dy="-4.6">/s</tspan><tspan font-size="9.1" dy="4.6">2,ref</tspan></text>
<text x="256.8" y="247.5" font-size="14.8">q (10<tspan font-size="9.5" dy="-6.2">5</tspan><tspan dy="6.2"> cm</tspan><tspan font-size="9.5" dy="-6.2">-1</tspan><tspan dy="6.2">)</tspan></text>
<text x="254.8" y="515.4" font-size="14.8">q (10<tspan font-size="9.5" dy="-6.2">5</tspan><tspan dy="6.2"> cm</tspan><tspan font-size="9.5" dy="-6.2">-1</tspan><tspan dy="6.2">)</tspan></text>
<text transform="translate(18.3,118.6) rotate(-90)" x="0" y="0" font-size="14.3" text-anchor="middle"><tspan font-family="Liberation Serif" font-size="15">ω</tspan> (cm<tspan font-size="9.5" dy="-6.5">-1</tspan><tspan dy="6.5">)</tspan></text>
<text transform="translate(18.3,377.6) rotate(-90)" x="0" y="0" font-size="14.3" text-anchor="middle"><tspan font-family="Liberation Serif" font-size="15">ω</tspan> (cm<tspan font-size="9.5" dy="-6.5">-1</tspan><tspan dy="6.5">)</tspan></text>
<text x="16.00" y="24.20" font-size="17" text-anchor="start" fill="#000" font-weight="normal" >a</text>
<text x="18.20" y="286.70" font-size="17" text-anchor="start" fill="#000" font-weight="normal" >c</text>
<text x="359.00" y="23.30" font-size="18" text-anchor="end" fill="#fff" font-weight="bold" >b</text>
<text x="359.30" y="291.50" font-size="18" text-anchor="end" fill="#fff" font-weight="bold" >d</text>
<text x="175.30" y="35.80" font-size="14.8" text-anchor="start" fill="#000" font-weight="normal" >ENZ</text>
<text x="172.00" y="159.50" font-size="14.8" text-anchor="start" fill="#000" font-weight="normal" >ENZ</text>
<text x="180.00" y="299.80" font-size="14.8" text-anchor="start" fill="#000" font-weight="normal" >ENZ</text>
<text x="175.60" y="425.10" font-size="14.8" text-anchor="start" fill="#000" font-weight="normal" >ENZ</text>
<line x1="94.30" y1="13.50" x2="128.70" y2="13.50" stroke="#ff8000" stroke-width="1.6" />
<rect x="110.1" y="12.1" width="2.8" height="2.8" fill="#fff" stroke="#ff8000" stroke-width="0.9"/>
<text x="132.50" y="17.80" font-size="14.2" text-anchor="start" fill="#000" font-weight="normal" >exp</text>
<line x1="94.30" y1="31.30" x2="128.70" y2="31.30" stroke="#000" stroke-width="1.3" />
<text x="132.50" y="35.80" font-size="14.2" text-anchor="start" fill="#000" font-weight="normal" >calc</text>
<line x1="94.30" y1="277.60" x2="128.70" y2="277.60" stroke="#8000ff" stroke-width="1.6" />
<circle cx="111.5" cy="277.6" r="1.5" fill="#fff" stroke="#8000ff" stroke-width="0.9"/>
<text x="132.50" y="281.90" font-size="14.2" text-anchor="start" fill="#000" font-weight="normal" >exp</text>
<line x1="94.30" y1="295.30" x2="128.70" y2="295.30" stroke="#000" stroke-width="1.3" />
<text x="132.50" y="299.80" font-size="14.2" text-anchor="start" fill="#000" font-weight="normal" >calc</text>
<text x="370.5" y="45.3" font-size="14"><tspan font-family="Liberation Serif" font-size="15">ω</tspan><tspan font-size="9.3" dy="5.2">LO,3</tspan></text>
<text x="372.5" y="139.8" font-size="14"><tspan font-family="Liberation Serif" font-size="15">ω</tspan><tspan font-size="9.3" dy="5.2">TO,3</tspan></text>
<text x="372.5" y="169.8" font-size="14"><tspan font-family="Liberation Serif" font-size="15">ω</tspan><tspan font-size="9.3" dy="5.2">LO,2</tspan></text>
<text x="371.7" y="306.8" font-size="14"><tspan font-family="Liberation Serif" font-size="15">ω</tspan><tspan font-size="9.3" dy="5.2">LO,3</tspan></text>
<text x="370.4" y="404.8" font-size="14"><tspan font-family="Liberation Serif" font-size="15">ω</tspan><tspan font-size="9.3" dy="5.2">TO,3</tspan></text>
<text x="374.6" y="433.8" font-size="14"><tspan font-family="Liberation Serif" font-size="15">ω</tspan><tspan font-size="9.3" dy="5.2">LO,2</tspan></text>
<text x="373.8" y="78.5" font-size="14.5">Im(r<tspan font-size="10" dy="4.5">p</tspan><tspan dy="-4.5">)</tspan></text>
<text x="374.0" y="335.2" font-size="14.5">Im(r<tspan font-size="10" dy="4.5">p</tspan><tspan dy="-4.5">)</tspan></text>
<defs><linearGradient id="cbar" x1="0" y1="0" x2="0" y2="1">
<stop offset="0" stop-color="#ff0000"/><stop offset="0.18" stop-color="#ff1a1a"/>
<stop offset="0.5" stop-color="#ffffff"/>
<stop offset="0.82" stop-color="#1a1aff"/><stop offset="1" stop-color="#0000ff"/></linearGradient></defs>
<rect x="379.8" y="86.1" width="13.6" height="36.2" fill="url(#cbar)"/>
<rect x="378.1" y="345.0" width="13.8" height="35.7" fill="url(#cbar)"/>
<text transform="translate(241.2,34.6) rotate(-90)" font-size="14.5" fill="#ffff00">light</text>
<text transform="translate(243.4,297.6) rotate(-90)" font-size="14.5" fill="#ffff00">light</text>
<text transform="translate(267.6,66.6) rotate(3)" font-size="14.8" fill="#ffff00">sym</text>
<text transform="translate(268.2,160.5) rotate(0)" font-size="14.8" fill="#ffff00">sym</text>
<text transform="translate(268.0,328.7) rotate(2)" font-size="14.8" fill="#ffff00">sym</text>
<text transform="translate(269.4,445.0) rotate(0)" font-size="14.8" fill="#ffff00">sym</text>
<text transform="translate(266.8,369.0) rotate(-18)" font-size="15.2" fill="#ffff00">asym</text>
<text transform="translate(269.5,469.6) rotate(-15)" font-size="15.2" fill="#ffff00">asym</text>
<text x="241.30" y="425.50" font-size="12" text-anchor="middle" fill="#ffff00" font-weight="normal" >*</text>
<path d="M248.4,391.6h5.6M251.2,388.8v5.6M250.8,389.6h5.6M253.6,386.8v5.6M252.8,388.0h5.6M255.6,385.2v5.6M254.8,386.4h5.6M257.6,383.6v5.6M256.8,385.0h5.6M259.6,382.2v5.6M262.7,384.2h5.6M265.5,381.4v5.6M268.5,383.2h5.6M271.3,380.4v5.6" stroke="#0a7a0a" stroke-width="1.5" fill="none"/>
<defs><filter id="shd" x="-10%" y="-20%" width="120%" height="160%"><feGaussianBlur stdDeviation="0.8"/></filter></defs>
<rect x="450.0" y="55" width="197.0" height="39.3" fill="#aaa" filter="url(#shd)"/>
<rect x="449.1" y="68.4" width="197.1" height="25.0" fill="#d9d9d9"/>
<rect x="449.1" y="53.6" width="197.1" height="15.0" fill="#7e2a5c"/>
<path d="M449.1,45.6 L537,45.6 Q539,45.6 539,47.6 L539,53.8 L449.1,53.8 Z" fill="#e3cf7c"/>
<path d="M489.9,53.7 L489.9,37.2 Q489.9,35.2 491.9,35.2 L545.3,35.2 Q547.3,35.2 547.5,37.5 L547.8,40.2 Q548,42.2 550,42.2 L597.7,42.2 Q600.7,42.2 600.7,45.2 L600.7,53.8 L541,53.8 Q539.2,53.8 539.2,51.5 L539.2,48 Q539.2,45.6 537,45.6 L489.9,45.6 Z" fill="#b3174b"/>
<rect x="489.9" y="45.6" width="49.3" height="0.01" fill="none"/>
<text x="491.60" y="44.60" font-size="9" text-anchor="start" fill="#fff" font-weight="bold" >STO</text>
<text x="450.80" y="52.60" font-size="8.5" text-anchor="start" fill="#1a1a1a" font-weight="bold" >Au</text>
<text x="450.6" y="64.3" font-size="8.5" font-weight="bold" fill="#fff">SiO<tspan font-size="6" dy="2">2</tspan></text>
<text x="450.60" y="85.30" font-size="8.5" text-anchor="start" fill="#1a1a1a" font-weight="bold" >Si</text>
<defs><linearGradient id="tipg" x1="0" y1="0" x2="0" y2="1">
<stop offset="0" stop-color="#8fb4e6"/><stop offset="0.08" stop-color="#8fb4e6"/><stop offset="0.1" stop-color="#5286d4"/>
<stop offset="1" stop-color="#3d6cbd"/></linearGradient>
<marker id="ah" viewBox="0 0 10 10" refX="9" refY="5" markerWidth="3.2" markerHeight="3.2" orient="auto-start-reverse">
<path d="M0,0 L10,5 L0,10 Z" fill="#ff0000"/></marker></defs>
<line x1="454.2" y1="21.8" x2="494.9" y2="21.8" stroke="#4472c4" stroke-width="1.9"/>
<path d="M454.2,20.900000000000002 L472.0,20.900000000000002 L463.1,43.3 Z" fill="url(#tipg)" stroke="#2f5597" stroke-width="0.8" stroke-linejoin="round"/>
<line x1="518.2" y1="11.7" x2="557.9" y2="11.7" stroke="#4472c4" stroke-width="1.9"/>
<path d="M518.2,10.799999999999999 L535.0,10.799999999999999 L526.6,33.2 Z" fill="url(#tipg)" stroke="#2f5597" stroke-width="0.8" stroke-linejoin="round"/>
<line x1="580.1" y1="19.0" x2="619.8" y2="19.0" stroke="#4472c4" stroke-width="1.9"/>
<path d="M580.1,18.1 L596.9,18.1 L588.3,41.0 Z" fill="url(#tipg)" stroke="#2f5597" stroke-width="0.8" stroke-linejoin="round"/>
<line x1="453.3" y1="33.5" x2="440.2" y2="20.0" stroke="#ff0000" stroke-width="1.0" marker-end="url(#ah)"/>
<line x1="441.1" y1="26.0" x2="454.2" y2="39.6" stroke="#ff0000" stroke-width="1.0" marker-end="url(#ah)"/>
<line x1="516.8" y1="23.4" x2="503.3" y2="9.3" stroke="#ff0000" stroke-width="1.0" marker-end="url(#ah)"/>
<line x1="504.2" y1="15.4" x2="517.8" y2="29.4" stroke="#ff0000" stroke-width="1.0" marker-end="url(#ah)"/>
<line x1="578.7" y1="30.7" x2="565.1" y2="16.7" stroke="#ff0000" stroke-width="1.0" marker-end="url(#ah)"/>
<line x1="566.1" y1="22.8" x2="579.8" y2="36.8" stroke="#ff0000" stroke-width="1.0" marker-end="url(#ah)"/>
<text x="464.30" y="17.60" font-size="12.5" text-anchor="start" fill="#111" font-weight="normal" >ref</text>
<text x="529.00" y="7.40" font-size="12.5" text-anchor="start" fill="#111" font-weight="normal" >sam</text>
<text x="589.90" y="14.40" font-size="12.5" text-anchor="start" fill="#111" font-weight="normal" >sam</text>
<text x="425.30" y="31.00" font-size="17.5" text-anchor="start" fill="#000" font-weight="normal" >e</text>
<defs><linearGradient id="rg1" gradientUnits="userSpaceOnUse" x1="447.3" y1="0" x2="647.5" y2="0"><stop offset="-0.0015" stop-color="#ffd0d0"/><stop offset="0.0634" stop-color="#ffe8e8"/><stop offset="0.1034" stop-color="#ffffff"/><stop offset="0.1633" stop-color="#e2e2ff"/><stop offset="0.2632" stop-color="#cacaff"/><stop offset="0.3631" stop-color="#c2c2ff"/><stop offset="0.4381" stop-color="#d8d8ff"/><stop offset="0.4730" stop-color="#f2f2ff"/><stop offset="0.4850" stop-color="#ffd0d0"/><stop offset="0.4900" stop-color="#ffb0b0"/><stop offset="0.4955" stop-color="#ffe8e8"/><stop offset="0.5055" stop-color="#e0e0ff"/><stop offset="0.5115" stop-color="#c0c0ff"/><stop offset="0.5180" stop-color="#f0f0ff"/><stop offset="0.5280" stop-color="#fff2f2"/><stop offset="0.5879" stop-color="#ffd8d8"/><stop offset="0.6628" stop-color="#ffc8c8"/><stop offset="0.7627" stop-color="#ffc8c8"/><stop offset="0.8377" stop-color="#ffd8d8"/><stop offset="0.8876" stop-color="#fff0f0"/><stop offset="0.9226" stop-color="#ffffff"/><stop offset="0.9625" stop-color="#e8e8ff"/><stop offset="1.0000" stop-color="#cfcfff"/></linearGradient></defs>
<rect x="447.3" y="114.0" width="200.2" height="26.19999999999999" fill="url(#rg1)"/>
<defs><linearGradient id="rg2" gradientUnits="userSpaceOnUse" x1="447.3" y1="0" x2="647.5" y2="0"><stop offset="-0.0015" stop-color="#ff2020"/><stop offset="0.0534" stop-color="#ff6060"/><stop offset="0.0884" stop-color="#ffc0c0"/><stop offset="0.1134" stop-color="#ffffff"/><stop offset="0.1533" stop-color="#a0a0ff"/><stop offset="0.1883" stop-color="#4444ff"/><stop offset="0.2383" stop-color="#2222ff"/><stop offset="0.3382" stop-color="#2222ff"/><stop offset="0.3881" stop-color="#5050ff"/><stop offset="0.4381" stop-color="#9090ff"/><stop offset="0.4730" stop-color="#c0c0ff"/><stop offset="0.4905" stop-color="#6060ff"/><stop offset="0.5005" stop-color="#ffffff"/><stop offset="0.5120" stop-color="#ff6060"/><stop offset="0.5280" stop-color="#ffd0d0"/><stop offset="0.5629" stop-color="#ff9090"/><stop offset="0.6129" stop-color="#ff4444"/><stop offset="0.6878" stop-color="#ff2020"/><stop offset="0.7627" stop-color="#ff4040"/><stop offset="0.8027" stop-color="#ff9090"/><stop offset="0.8377" stop-color="#ffd8d8"/><stop offset="0.8576" stop-color="#ffffff"/><stop offset="0.8876" stop-color="#c0c0ff"/><stop offset="0.9376" stop-color="#6060ff"/><stop offset="1.0000" stop-color="#2020ff"/></linearGradient></defs>
<rect x="447.3" y="140.2" width="200.2" height="17.30000000000001" fill="url(#rg2)"/>
<rect x="447.3" y="157.5" width="200.2" height="26.0" fill="#fde9b0"/>
<rect x="545.4" y="122.3" width="4.3" height="17.89999999999999" fill="#fde79f" stroke="#0d1a22" stroke-width="1.3"/>
<line x1="447.30" y1="140.20" x2="647.50" y2="140.20" stroke="#0d1a22" stroke-width="1.4" />
<line x1="447.30" y1="157.50" x2="647.50" y2="157.50" stroke="#0d1a22" stroke-width="1.7" />
<rect x="447.3" y="114.0" width="200.2" height="69.5" fill="none" stroke="#0d1a22" stroke-width="1.6"/>
<text x="508.00" y="131.90" font-size="11.8" text-anchor="start" fill="#1a1a1a" font-weight="normal" >Au</text>
<line x1="525.30" y1="128.30" x2="540.50" y2="128.30" stroke="#111" stroke-width="1.1" />
<path d="M545.0,128.3 L539.6,125.70000000000002 L539.6,130.9 Z" fill="#111"/>
<text x="452.60" y="132.40" font-size="11.8" text-anchor="start" fill="#1a1a1a" font-weight="normal" >air</text>
<text x="450.4" y="151.7" font-size="11.6" fill="#1a1a1a">SrTiO<tspan font-size="8" dy="4" fill="#444">3</tspan></text>
<text x="452.60" y="174.10" font-size="11.8" text-anchor="start" fill="#3a2a00" font-weight="normal" >Au</text>
<text x="609.7" y="110.0" font-size="11.3" fill="#111">787 cm<tspan font-size="7.5" dy="-4.5">-1</tspan></text>
<text x="426.00" y="128.40" font-size="16.5" text-anchor="start" fill="#000" font-weight="normal" >f</text>
<defs><linearGradient id="rg3" gradientUnits="userSpaceOnUse" x1="447.3" y1="0" x2="647.5" y2="0"><stop offset="-0.0015" stop-color="#ffe0e0"/><stop offset="0.0534" stop-color="#fff0f0"/><stop offset="0.0884" stop-color="#ffffff"/><stop offset="0.1384" stop-color="#e8e8ff"/><stop offset="0.2133" stop-color="#d2d2ff"/><stop offset="0.2882" stop-color="#cacaff"/><stop offset="0.3631" stop-color="#d2d2ff"/><stop offset="0.4381" stop-color="#e8e8ff"/><stop offset="0.4780" stop-color="#f8f8ff"/><stop offset="0.4895" stop-color="#d8d8ff"/><stop offset="0.5005" stop-color="#ffffff"/><stop offset="0.5115" stop-color="#ffd8d8"/><stop offset="0.5380" stop-color="#fff0f0"/><stop offset="0.5879" stop-color="#ffd8d8"/><stop offset="0.6628" stop-color="#ffd0d0"/><stop offset="0.7877" stop-color="#ffd0d0"/><stop offset="0.8377" stop-color="#ffe0e0"/><stop offset="0.9026" stop-color="#fff8f8"/><stop offset="0.9376" stop-color="#f0f0ff"/><stop offset="1.0000" stop-color="#d8d8ff"/></linearGradient></defs>
<rect x="447.3" y="211.5" width="200.2" height="25.900000000000006" fill="url(#rg3)"/>
<defs><linearGradient id="rg4" gradientUnits="userSpaceOnUse" x1="447.3" y1="0" x2="647.5" y2="0"><stop offset="-0.0015" stop-color="#fff0f0"/><stop offset="0.2632" stop-color="#fff2f2"/><stop offset="0.4630" stop-color="#fff0f0"/><stop offset="0.4830" stop-color="#ffe0e0"/><stop offset="0.4895" stop-color="#ffc0c0"/><stop offset="0.4995" stop-color="#ffffff"/><stop offset="0.5095" stop-color="#d0d0ff"/><stop offset="0.5180" stop-color="#eeeeff"/><stop offset="0.5380" stop-color="#f4f4ff"/><stop offset="0.7627" stop-color="#f0f0ff"/><stop offset="1.0000" stop-color="#f4f4ff"/></linearGradient></defs>
<rect x="447.3" y="237.4" width="200.2" height="17.400000000000006" fill="url(#rg4)"/>
<rect x="447.3" y="254.8" width="200.2" height="25.80000000000001" fill="#fde9b0"/>
<rect x="545.4" y="219.6" width="4.3" height="17.80000000000001" fill="#fde79f" stroke="#0d1a22" stroke-width="1.3"/>
<line x1="447.30" y1="237.40" x2="647.50" y2="237.40" stroke="#0d1a22" stroke-width="1.4" />
<line x1="447.30" y1="254.80" x2="647.50" y2="254.80" stroke="#0d1a22" stroke-width="1.7" />
<rect x="447.3" y="211.5" width="200.2" height="69.10000000000002" fill="none" stroke="#0d1a22" stroke-width="1.6"/>
<text x="508.00" y="230.50" font-size="11.8" text-anchor="start" fill="#1a1a1a" font-weight="normal" >Au</text>
<line x1="525.30" y1="227.40" x2="540.50" y2="227.40" stroke="#111" stroke-width="1.1" />
<path d="M545.0,227.4 L539.6,224.8 L539.6,230.0 Z" fill="#111"/>
<text x="452.60" y="226.70" font-size="11.8" text-anchor="start" fill="#1a1a1a" font-weight="normal" >air</text>
<text x="450.4" y="249.1" font-size="11.6" fill="#1a1a1a">SrTiO<tspan font-size="8" dy="4" fill="#444">3</tspan></text>
<text x="452.60" y="271.60" font-size="11.8" text-anchor="start" fill="#3a2a00" font-weight="normal" >Au</text>
<text x="609.4" y="208.7" font-size="11.3" fill="#111">580 cm<tspan font-size="7.5" dy="-4.5">-1</tspan></text>
<text x="426.00" y="225.00" font-size="16.5" text-anchor="start" fill="#000" font-weight="normal" >g</text>
<defs><linearGradient id="rg5" gradientUnits="userSpaceOnUse" x1="447.3" y1="0" x2="647.5" y2="0"><stop offset="-0.0015" stop-color="#ffe8e8"/><stop offset="0.0634" stop-color="#fff4f4"/><stop offset="0.1134" stop-color="#ffffff"/><stop offset="0.2133" stop-color="#e8e8ff"/><stop offset="0.3132" stop-color="#e0e0ff"/><stop offset="0.4131" stop-color="#e8e8ff"/><stop offset="0.4630" stop-color="#f8f8ff"/><stop offset="0.4855" stop-color="#ffd0d0"/><stop offset="0.4980" stop-color="#ffffff"/><stop offset="0.5105" stop-color="#d0d0ff"/><stop offset="0.5230" stop-color="#f8f8ff"/><stop offset="0.5380" stop-color="#fff0f0"/><stop offset="0.6129" stop-color="#ffd8d8"/><stop offset="0.7877" stop-color="#ffd8d8"/><stop offset="0.8626" stop-color="#ffe8e8"/><stop offset="0.9226" stop-color="#fff8f8"/><stop offset="0.9625" stop-color="#f0f0ff"/><stop offset="1.0000" stop-color="#e0e0ff"/></linearGradient></defs>
<rect x="447.3" y="313.3" width="200.2" height="26.399999999999977" fill="url(#rg5)"/>
<defs><linearGradient id="rg6" gradientUnits="userSpaceOnUse" x1="447.3" y1="0" x2="647.5" y2="0"><stop offset="-0.0015" stop-color="#ff8080"/><stop offset="0.0385" stop-color="#ffa0a0"/><stop offset="0.0784" stop-color="#ffe0e0"/><stop offset="0.1134" stop-color="#ffffff"/><stop offset="0.1633" stop-color="#c0c0ff"/><stop offset="0.2383" stop-color="#9090ff"/><stop offset="0.3382" stop-color="#8888ff"/><stop offset="0.4131" stop-color="#9898ff"/><stop offset="0.4630" stop-color="#6868ff"/><stop offset="0.4845" stop-color="#4040ff"/><stop offset="0.4930" stop-color="#e0e0ff"/><stop offset="0.5005" stop-color="#ffffff"/><stop offset="0.5080" stop-color="#ffe0e0"/><stop offset="0.5155" stop-color="#ff5050"/><stop offset="0.5380" stop-color="#ff8080"/><stop offset="0.6129" stop-color="#ffa0a0"/><stop offset="0.7128" stop-color="#ffa8a8"/><stop offset="0.7877" stop-color="#ffb0b0"/><stop offset="0.8377" stop-color="#ffe0e0"/><stop offset="0.8626" stop-color="#ffffff"/><stop offset="0.9126" stop-color="#c0c0ff"/><stop offset="0.9625" stop-color="#9090ff"/><stop offset="1.0000" stop-color="#8080ff"/></linearGradient></defs>
<rect x="447.3" y="339.7" width="200.2" height="17.19999999999999" fill="url(#rg6)"/>
<defs><linearGradient id="rg7" gradientUnits="userSpaceOnUse" x1="447.3" y1="0" x2="647.5" y2="0"><stop offset="-0.0015" stop-color="#fff0f0"/><stop offset="0.1134" stop-color="#fffafa"/><stop offset="0.2632" stop-color="#f8f8ff"/><stop offset="0.4630" stop-color="#f4f4ff"/><stop offset="0.4880" stop-color="#ffe0e0"/><stop offset="0.4980" stop-color="#ffffff"/><stop offset="0.5080" stop-color="#e0e0ff"/><stop offset="0.5230" stop-color="#fafaff"/><stop offset="0.5629" stop-color="#fff4f4"/><stop offset="0.8127" stop-color="#fff4f4"/><stop offset="1.0000" stop-color="#f4f4ff"/></linearGradient></defs>
<rect x="447.3" y="356.9" width="200.2" height="26.400000000000034" fill="url(#rg7)"/>
<rect x="545.4" y="321.6" width="4.3" height="18.099999999999966" fill="#fde79f" stroke="#0d1a22" stroke-width="1.3"/>
<line x1="447.30" y1="339.70" x2="647.50" y2="339.70" stroke="#0d1a22" stroke-width="1.4" />
<line x1="447.30" y1="356.90" x2="647.50" y2="356.90" stroke="#0d1a22" stroke-width="1.7" />
<rect x="447.3" y="313.3" width="200.2" height="70.0" fill="none" stroke="#0d1a22" stroke-width="1.6"/>
<text x="508.00" y="332.40" font-size="11.8" text-anchor="start" fill="#1a1a1a" font-weight="normal" >Au</text>
<line x1="525.30" y1="328.40" x2="540.50" y2="328.40" stroke="#111" stroke-width="1.1" />
<path d="M545.0,328.4 L539.6,325.79999999999995 L539.6,331.0 Z" fill="#111"/>
<text x="452.60" y="330.70" font-size="11.8" text-anchor="start" fill="#1a1a1a" font-weight="normal" >air</text>
<text x="450.4" y="351.7" font-size="11.6" fill="#1a1a1a">SrTiO<tspan font-size="8" dy="4" fill="#444">3</tspan></text>
<text x="451.8" y="374.5" font-size="11.6" fill="#1a1a1a">SiO<tspan font-size="8" dy="4" fill="#444">2</tspan></text>
<text x="609.9" y="309.2" font-size="11.3" fill="#111">787 cm<tspan font-size="7.5" dy="-4.5">-1</tspan></text>
<text x="426.60" y="326.70" font-size="16.5" text-anchor="start" fill="#000" font-weight="normal" >h</text>
<defs><linearGradient id="rg8" gradientUnits="userSpaceOnUse" x1="447.3" y1="0" x2="647.5" y2="0"><stop offset="-0.0015" stop-color="#ffe8e8"/><stop offset="0.0534" stop-color="#fff4f4"/><stop offset="0.0884" stop-color="#ffffff"/><stop offset="0.1384" stop-color="#e0e0ff"/><stop offset="0.2133" stop-color="#d0d0ff"/><stop offset="0.3631" stop-color="#d0d0ff"/><stop offset="0.3981" stop-color="#e0e0ff"/><stop offset="0.4231" stop-color="#f8f8ff"/><stop offset="0.4381" stop-color="#ffe8e8"/><stop offset="0.4530" stop-color="#fff0f0"/><stop offset="0.4680" stop-color="#f0f0ff"/><stop offset="0.4805" stop-color="#c0c0ff"/><stop offset="0.4895" stop-color="#2020ff"/><stop offset="0.4955" stop-color="#a0a0ff"/><stop offset="0.5005" stop-color="#ffffff"/><stop offset="0.5055" stop-color="#ffa0a0"/><stop offset="0.5110" stop-color="#ff2020"/><stop offset="0.5205" stop-color="#ffd0d0"/><stop offset="0.5330" stop-color="#ffffff"/><stop offset="0.5480" stop-color="#e8e8ff"/><stop offset="0.5629" stop-color="#ffffff"/><stop offset="0.5829" stop-color="#ffd8d8"/><stop offset="0.6379" stop-color="#ffd0d0"/><stop offset="0.8377" stop-color="#ffd0d0"/><stop offset="0.8876" stop-color="#ffe8e8"/><stop offset="0.9376" stop-color="#ffffff"/><stop offset="1.0000" stop-color="#e0e0ff"/></linearGradient></defs>
<rect x="447.3" y="410.9" width="200.2" height="26.100000000000023" fill="url(#rg8)"/>
<defs><linearGradient id="rg9" gradientUnits="userSpaceOnUse" x1="447.3" y1="0" x2="647.5" y2="0"><stop offset="-0.0015" stop-color="#fff4f4"/><stop offset="0.3631" stop-color="#fff8f8"/><stop offset="0.4630" stop-color="#fff4f4"/><stop offset="0.4830" stop-color="#ffe8e8"/><stop offset="0.4905" stop-color="#ffb0b0"/><stop offset="0.4995" stop-color="#ffffff"/><stop offset="0.5090" stop-color="#b8b8ff"/><stop offset="0.5180" stop-color="#f0f0ff"/><stop offset="0.5629" stop-color="#f8f8ff"/><stop offset="1.0000" stop-color="#f8f8ff"/></linearGradient></defs>
<rect x="447.3" y="437.0" width="200.2" height="17.600000000000023" fill="url(#rg9)"/>
<defs><linearGradient id="rg10" gradientUnits="userSpaceOnUse" x1="447.3" y1="0" x2="647.5" y2="0"><stop offset="-0.0015" stop-color="#fff0f0"/><stop offset="0.0634" stop-color="#f8f8ff"/><stop offset="0.1633" stop-color="#e8e8ff"/><stop offset="0.2632" stop-color="#e8e8ff"/><stop offset="0.3631" stop-color="#e0e0ff"/><stop offset="0.4131" stop-color="#c4c4ff"/><stop offset="0.4331" stop-color="#b0b0ff"/><stop offset="0.4481" stop-color="#e0e0ff"/><stop offset="0.4630" stop-color="#ffffff"/><stop offset="0.4755" stop-color="#ff9090"/><stop offset="0.4830" stop-color="#ff1010"/><stop offset="0.4920" stop-color="#ff1010"/><stop offset="0.4995" stop-color="#ffe0e0"/><stop offset="0.5055" stop-color="#8080ff"/><stop offset="0.5110" stop-color="#1010ff"/><stop offset="0.5190" stop-color="#1010ff"/><stop offset="0.5280" stop-color="#e0e0ff"/><stop offset="0.5430" stop-color="#ffc0c0"/><stop offset="0.5579" stop-color="#ffb0b0"/><stop offset="0.5779" stop-color="#ffe0e0"/><stop offset="0.6129" stop-color="#fff0f0"/><stop offset="0.8626" stop-color="#fff0f0"/><stop offset="1.0000" stop-color="#f0f0ff"/></linearGradient></defs>
<rect x="447.3" y="454.6" width="200.2" height="26.0" fill="url(#rg10)"/>
<rect x="545.4" y="419.7" width="4.3" height="17.30000000000001" fill="#fde79f" stroke="#0d1a22" stroke-width="1.3"/>
<line x1="447.30" y1="437.00" x2="647.50" y2="437.00" stroke="#0d1a22" stroke-width="1.4" />
<line x1="447.30" y1="454.60" x2="647.50" y2="454.60" stroke="#0d1a22" stroke-width="1.7" />
<rect x="447.3" y="410.9" width="200.2" height="69.70000000000005" fill="none" stroke="#0d1a22" stroke-width="1.6"/>
<text x="508.00" y="430.30" font-size="11.8" text-anchor="start" fill="#1a1a1a" font-weight="normal" >Au</text>
<line x1="525.30" y1="426.60" x2="540.50" y2="426.60" stroke="#111" stroke-width="1.1" />
<path d="M545.0,426.6 L539.6,424.0 L539.6,429.20000000000005 Z" fill="#111"/>
<text x="452.60" y="428.60" font-size="11.8" text-anchor="start" fill="#1a1a1a" font-weight="normal" >air</text>
<text x="450.4" y="450.2" font-size="11.6" fill="#1a1a1a">SrTiO<tspan font-size="8" dy="4" fill="#444">3</tspan></text>
<text x="451.8" y="471.7" font-size="11.6" fill="#1a1a1a">SiO<tspan font-size="8" dy="4" fill="#444">2</tspan></text>
<text x="611.2" y="405.5" font-size="11.3" fill="#111">580 cm<tspan font-size="7.5" dy="-4.5">-1</tspan></text>
<text x="426.30" y="425.70" font-size="16.5" text-anchor="start" fill="#000" font-weight="normal" >i</text>
<text x="661.4" y="117.0" font-size="11" font-weight="bold" fill="#111">E<tspan font-size="7" dy="2.5">z</tspan></text>
<text x="655.80" y="129.50" font-size="12.5" text-anchor="start" fill="#111" font-weight="normal" >max</text>
<rect x="660.1" y="131.8" width="14.6" height="37.9" fill="url(#cbar)"/>
<text x="678.60" y="156.00" font-size="12.5" text-anchor="start" fill="#111" font-weight="normal" >0</text>
<text x="655.60" y="183.50" font-size="12.5" text-anchor="start" fill="#111" font-weight="normal" >min</text>
<defs><marker id="bh" viewBox="0 0 10 10" refX="9.5" refY="5" markerWidth="5" markerHeight="5" markerUnits="userSpaceOnUse" orient="auto-start-reverse"><path d="M0,0.5 L10,5 L0,9.5 Z" fill="#111"/></marker></defs>
<line x1="592.0" y1="438.0" x2="592.0" y2="453.6" stroke="#111" stroke-width="1.3" marker-start="url(#bh)" marker-end="url(#bh)"/>
<text x="601.60" y="450.10" font-size="12.2" text-anchor="start" fill="#111" font-weight="normal" >100 nm</text>
<line x1="447.20" y1="480.60" x2="447.20" y2="503.70" stroke="#333" stroke-width="1.2" />
<line x1="647.50" y1="470.00" x2="647.50" y2="506.90" stroke="#333" stroke-width="1.2" />
<line x1="447.8" y1="501.1" x2="646.9" y2="501.1" stroke="#111" stroke-width="1.1" marker-start="url(#bh)" marker-end="url(#bh)"/>
<text x="534.60" y="496.70" font-size="12.6" text-anchor="start" fill="#111" font-weight="normal" >20 µm</text>
</svg></body></html>
